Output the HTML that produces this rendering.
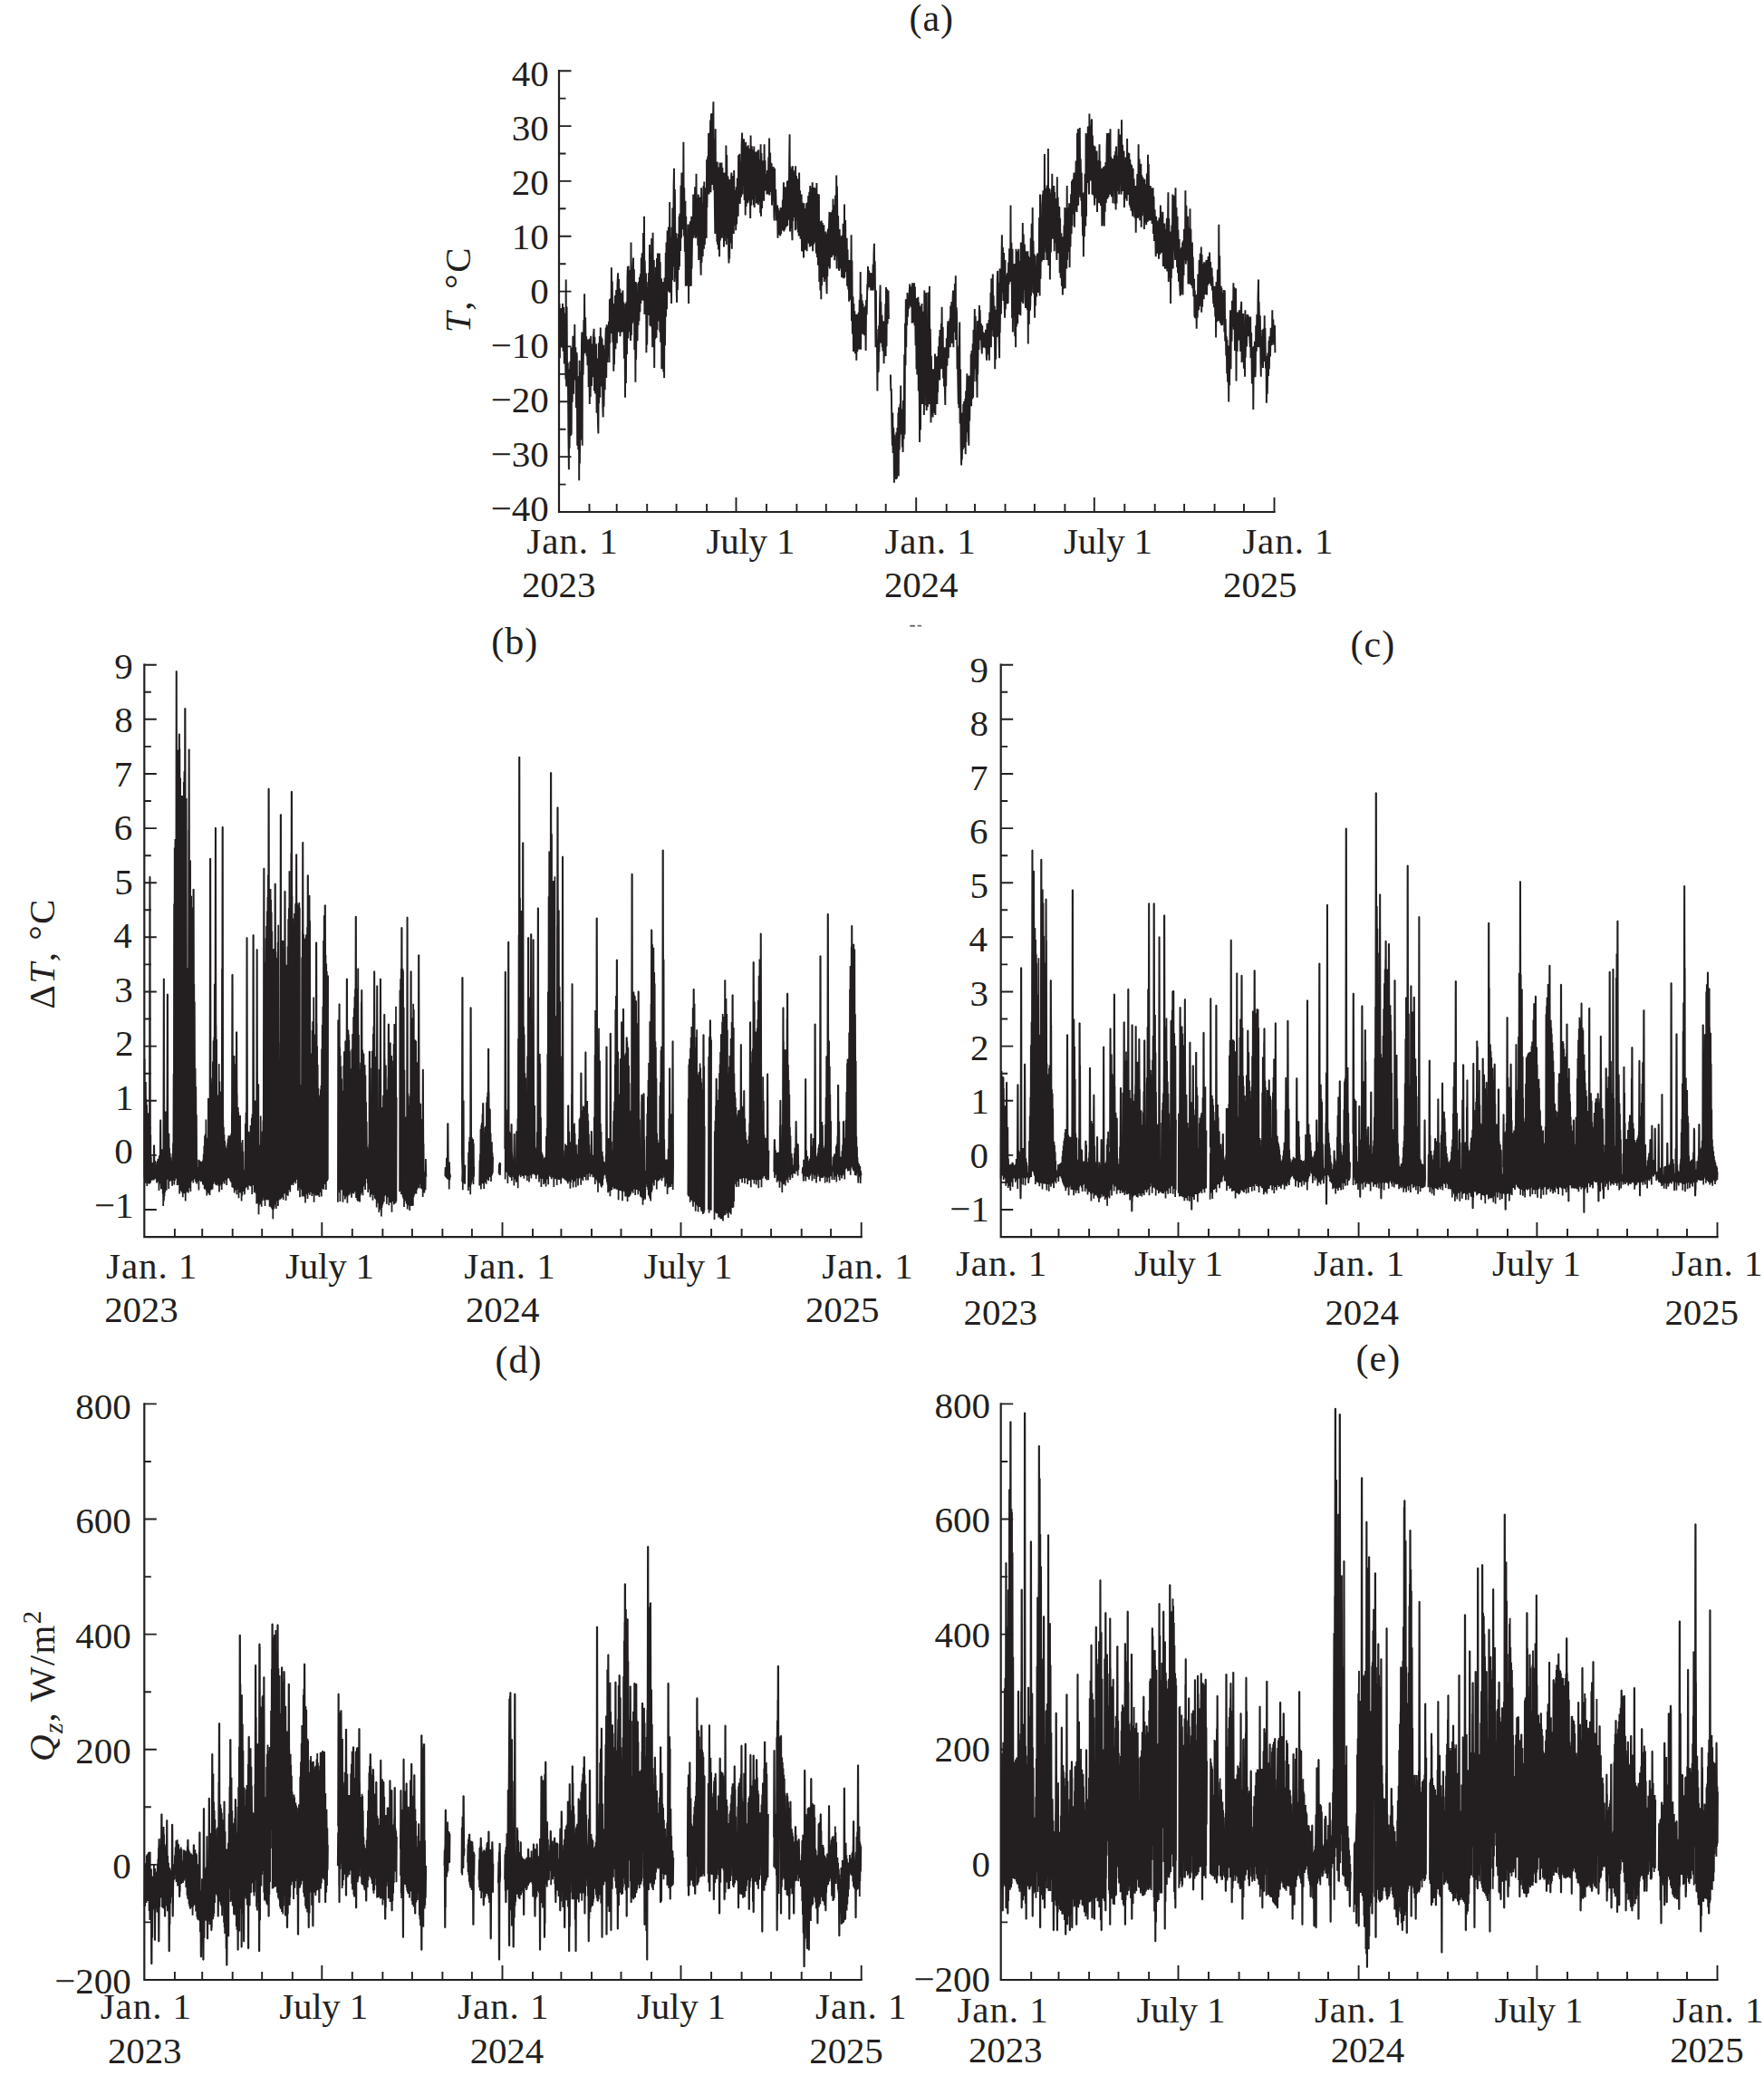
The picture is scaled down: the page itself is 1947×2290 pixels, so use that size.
<!DOCTYPE html>
<html><head><meta charset="utf-8"><title>figure</title>
<style>
html,body{margin:0;padding:0;background:#fff;}
body{width:1947px;height:2290px;overflow:hidden;}
svg{display:block;font-family:"Liberation Serif",serif;fill:#231f20;}
</style></head><body>

<svg width="1947" height="2290" viewBox="0 0 1947 2290">
<rect width="1947" height="2290" fill="#fff"/>
<path d="M617.5 335.1L617.9 395.3L618.3 341L619.1 383.3L619.6 340.1L620.1 379.8L620.6 383.3L621 335.1L621.6 387.8L622.1 339L622.8 401.5L623.6 345.6L624.4 418.6L624.7 308.6L625.1 426.6L625.6 338.6L626.1 426.2L626.8 400.3L627.4 477.4L627.9 518.2L628.3 407.3L628.6 494.7L629.3 398.8L629.9 481.1L630.3 383.3L630.7 479.6L631.1 386L631.7 443.7L632.4 370.7L633 434.7L633.4 376L633.9 419.4L634.3 358L634.6 414.6L635.3 383.2L635.9 450L636.5 388.9L636.8 392.9L637.2 491.7L637.5 416.9L638.3 496.2L638.9 415L639.2 530.2L639.6 397.7L639.9 511.4L640.7 409.9L641.2 485.4L642 379.4L642.3 366.4L642.7 491.7L643 377.8L643.6 413.8L644.4 353.1L644.7 390.5L645.1 324.2L645.6 383.7L646.1 350.3L646.7 389.6L647.1 371.2L647.5 392.9L647.9 375.9L648.5 403.2L649.3 374.4L649.7 426.9L650.3 382.8L650.8 445.9L651.2 373.6L651.7 438L652.2 370.7L653 425.9L653.8 379.4L654.4 416.3L655 371L655.6 362.8L656 431.4L656.4 371.7L657.1 434.6L658 379.6L658.6 455.8L659.1 395.4L660 467.9L660.4 478.4L660.8 378.4L661.1 445.3L661.9 371L662.3 438.8L662.8 361.6L663.2 426.6L663.7 371.6L664.1 421.7L664.6 373.7L665.3 448.5L665.7 460.4L666.1 380.8L666.5 448.8L667.2 385.9L667.7 430.3L668.3 377.8L668.8 361.6L669.2 417L669.7 358.2L670.3 400.1L670.9 359.4L671.3 393.3L672 354.7L672.5 400.1L672.9 330.2L673.2 379.1L673.9 329.2L674.4 367.9L674.9 295.3L675.3 359.2L675.8 310.4L676.3 377.8L676.8 346.9L677.3 409.8L677.7 335.1L678 402.2L678.9 326L679.4 385.3L680.2 319.9L680.9 378.8L681.5 313.2L682.1 301.3L682.5 366.4L683 308L683.6 365L684.2 318.5L684.5 371.2L684.9 323L685.2 366.9L686 323.4L686.4 366.2L687.1 325.7L687.4 320.6L687.8 366.4L688.3 333.5L688.9 395.8L689.5 338.8L690 438.7L690.4 335.1L690.9 423.1L691.5 332.9L692 391L692.5 305.3L692.9 294.1L693.3 373.6L693.7 293.5L694.3 366.2L695 298.1L695.7 363.2L696.1 376L696.5 267.6L696.9 370L697.4 304.7L698 356.8L698.5 298.9L699 284.5L699.4 354.3L699.9 297.3L700.3 386L700.9 312L701.4 421.8L701.8 311L702.1 396.7L702.8 312.6L703.5 376.3L704 322.5L704.5 359L705 311L705.4 354.3L705.9 305.8L706.4 344.2L706.9 302.3L707.4 335.1L707.8 284.5L708.2 325.7L708.7 279.2L709.4 331.5L710 257.1L710.7 332L711 238.7L711.4 347.1L711.7 287.6L712.5 340.4L713.1 301.5L713.4 389.3L713.8 311L714.2 380.6L714.7 317.3L715.4 348.1L716.1 301L716.5 338.5L717 270L717.4 359.2L717.9 280.3L718.5 360.6L719.2 263L719.8 352.6L720.2 383.3L720.6 256.7L720.9 362.9L721.4 292.3L721.8 286.9L722.2 406.1L722.7 311.2L723.2 374.3L723.9 294.8L724.5 372.8L725 285L725.5 364L725.9 279.6L726.4 341.7L727 284.9L727.4 354.4L727.9 279.6L728.3 366.4L728.7 289.2L729.2 377.7L730 307.3L730.3 407.3L730.7 311L731.2 397L731.7 332.7L732.3 410.5L732.7 311L733.1 417L733.5 306.4L734 381.2L734.8 278.9L735.1 349.5L735.5 267.6L736 341.2L736.6 254.4L737.4 321.3L737.9 250.6L738.7 322.5L739.2 223L739.6 323L740 261.5L740.8 305.7L741.1 335.1L741.5 250.7L742 309.2L742.4 229.4L743 294.6L743.6 205.9L744 185.7L744.4 311L744.9 209.1L745.6 307.6L746.2 256.9L746.7 320.1L747.1 333.9L747.5 262.8L747.9 319.9L748.6 257.9L749.2 297.9L749.6 238.7L750 294.1L750.3 235.8L751.1 277.1L751.5 204.7L752 262.8L752.4 190.5L752.9 253.2L753.4 192.6L754 249.6L754.4 156.7L754.8 260.4L755.2 207.2L755.9 277.7L756.4 221.8L756.8 315.8L757.2 238.7L757.6 310L758.2 265.3L758.7 315.4L759.4 247.8L759.7 248.3L760.1 335.1L760.4 257.1L761 315.9L761.8 244.3L762.4 305.9L762.8 315.8L763.2 238.7L763.5 296.4L764.3 242.1L764.9 258.6L765.2 214.6L765.6 262.8L765.9 220.9L766.6 252.9L767.1 206.3L767.6 258.8L768.1 262.8L768.5 191.7L768.9 260.5L769.6 218.7L770.3 271L770.8 214.6L771.2 286.9L771.5 224.2L772.1 274.5L772.6 217.6L773.3 290.2L773.7 303.7L774.1 207.3L774.5 289.8L775.1 223.9L775.7 283L776.3 218.6L776.5 204.9L776.9 274.8L777.3 200.4L777.9 270L778.7 207.2L779.2 260.1L779.7 262.8L780.1 176L780.4 229.1L781.2 172.5L781.8 208.6L782.1 147.1L782.5 214.6L782.9 146.8L783.4 196.7L784.1 132.4L784.5 212.2L784.9 125.4L785.4 189.1L785.9 125L786.4 204.1L786.9 141.4L787.4 112.2L787.8 209.8L788.1 153.4L788.9 229.3L789.3 258L789.7 142.3L790.1 234.7L790.6 182.7L791.4 266.8L791.7 178.4L792.1 270L792.6 203.8L793 275.6L793.7 184.6L794.1 283.3L794.5 179.6L794.9 265.5L795.5 192.6L796.2 239.3L796.5 179.6L796.9 262.8L797.4 185.1L797.9 256.7L798.6 199.8L799 272.4L799.4 190.5L799.7 251.3L800.4 206.2L801.1 266.1L801.4 160.4L801.8 270L802.2 171L802.9 263.1L803.5 194.5L804.2 282.3L804.5 290.5L804.9 197.7L805.2 285.6L805.9 199.2L806.5 268.3L807.1 194.2L807.4 190.5L807.8 274.8L808.2 194L808.9 255.1L809.5 209.2L809.8 258L810.2 188.1L810.6 248.9L811.2 211.1L811.8 209.8L812.2 254.3L812.7 206.3L813.1 247.4L813.8 196.4L814.4 235.5L814.7 238.7L815.1 171.2L815.6 225L816.3 169.7L816.8 224.8L817.5 178.4L818.1 217.5L818.6 160.2L819.1 146.6L819.5 214.6L819.8 163.6L820.5 203.2L821 153.2L821.7 220.9L822.4 163L822.7 237.5L823.1 156.7L823.6 227.9L824.2 178.9L824.7 223.9L825.1 161.6L825.5 224.2L825.8 160.2L826.5 221.5L827.1 164L827.8 213.2L828.2 241.1L828.6 149.5L829.2 226.7L829.8 161.3L830.4 220.4L831.2 165.3L831.8 226.5L832.3 161.6L832.7 229L833.1 183.6L833.7 208.3L834.3 167.4L834.9 224.5L835.6 182.9L835.9 224.2L836.3 166.4L836.9 225.9L837.2 165.3L837.9 222.8L838.7 176L839.2 235.3L839.6 159.2L840 238.7L840.4 169L841.1 230.1L841.6 177.2L842.2 218.4L842.7 178.2L843.2 221.8L843.6 159.2L844 206.9L844.5 177L845.1 210.4L845.7 192L846.1 195.3L846.5 214.6L847 187.9L847.7 214.2L848.3 173.5L848.7 214.6L849.1 152.4L849.4 215.6L850.1 168.6L850.6 211.9L851.3 180.1L851.6 180.8L852 226.6L852.5 185.9L853.1 222.2L853.6 184L854.4 238.7L854.7 243.5L855.1 185.7L855.5 232.1L856.2 209L857 243.4L857.6 229.7L858.1 226.6L858.5 262.8L858.8 229.7L859.6 258.9L860.2 232.2L860.7 255.5L861.2 260.4L861.6 229L862.1 258.3L862.5 229.6L863.3 254.3L863.9 220.4L864.4 246.5L864.9 201.3L865.3 255.5L865.7 209.5L866.3 253.4L866.8 206.2L867.5 250.7L868.1 208.2L868.5 249.5L868.9 200.1L869.2 249.1L869.8 199.1L870.6 242.8L871.2 175.9L871.6 148.3L872 255.5L872.5 183.4L872.9 251.9L873.4 185.7L874.2 257.3L874.5 265.2L874.9 183.3L875.2 243.9L875.9 188L876.5 239.9L877.2 190.7L877.8 254.2L878.1 183.3L878.5 253.1L879 194L879.6 243.1L880.1 197.2L880.8 256.4L881.3 200.4L881.7 260.4L882.1 190.5L882.5 252.8L883.1 210.3L883.6 263.8L884.3 216.7L884.6 214.6L885 277.2L885.5 223.3L885.9 277.6L886.7 233.2L887 284.5L887.4 224.2L887.7 276.3L888.5 230L889.2 275.7L889.8 239.6L890.2 224.2L890.6 277.2L891 223.6L891.5 259.9L892.2 215.9L892.7 268.8L893.3 211.8L893.8 272.4L894.2 204.9L894.6 259.6L895.1 207.2L895.7 271.5L896.3 214.5L896.7 201.3L897.1 277.2L897.6 207.1L898.1 269.6L898.8 206.7L899.4 267.5L900 207.7L900.7 276L901 279.6L901.4 202L901.9 284L902.5 214.1L902.9 292.7L903.6 225.2L903.9 214.6L904.3 311L904.7 244.3L905.4 320.4L905.9 256.8L906.3 330.2L906.7 243.5L907.1 314.9L907.7 245.9L908.3 305.9L908.9 252.8L909.4 248.3L909.8 311L910.3 264.5L910.8 307.9L911.5 255.4L912 304.7L912.6 324.2L913 258L913.3 304.9L913.9 252.4L914.5 294.3L915 250.5L915.5 233.9L915.9 296.5L916.2 234.8L916.8 284.3L917.5 234.3L918 283.8L918.8 231.9L919.1 279.6L919.5 219.4L920 281.8L920.6 226.3L921.2 287.2L922.1 215.6L922.7 282.7L923.2 193.4L923.6 296.5L923.9 205.5L924.7 281.3L925.1 237.9L925.8 295.9L926.3 298.9L926.7 253.1L927.2 296.6L927.6 267.5L928.3 295.4L928.7 260.4L929.1 306.1L929.6 259.5L930.1 306.5L930.6 246.8L931.1 303.3L931.6 307.3L932 225.4L932.3 306.1L933.1 243.1L933.6 300.1L934.4 270.8L934.7 262.8L935.1 315.8L935.5 275.3L936.3 319.5L936.8 289.4L937.1 332.7L937.5 286.9L938 329.8L938.7 291.8L939.2 331.2L939.6 259.2L940 354.3L940.4 287.6L940.9 368.5L941.5 327.3L942 388.1L942.4 335.1L942.6 380.6L943.3 343.2L943.9 390.2L944.4 352.3L944.9 347.1L945.3 397.7L945.7 346.8L946.3 388.1L946.7 352L947.3 385.7L947.7 344.7L948.1 375.1L948.7 330.7L949.2 385.5L949.7 300.1L950.1 385.7L950.6 324.4L951.1 366.3L951.7 331.4L952.1 368.8L952.5 335.1L952.9 366.2L953.5 339L954.1 370.3L954.9 344.9L955.2 337.5L955.6 386.9L956.1 331.1L956.7 347.3L957.3 313.5L957.6 320.6L958 294.1L958.4 314L959.1 298.5L959.6 317.3L960.4 301.8L960.8 301.3L961.2 320.6L961.5 303.4L962.1 314.6L962.7 301.4L963.2 320.6L963.6 291.7L964 315.5L964.5 280L964.9 268.8L965.3 320.6L965.7 288.2L966.2 352.4L966.5 383.3L966.9 320.6L967.2 380.2L967.7 362.9L968 378.4L968.4 431.4L968.9 374.4L969.4 410.9L969.7 407.3L970.1 359.2L970.4 388.6L971.1 334.1L971.6 314.6L972 378.4L972.3 333.1L972.9 378.7L973.5 347.8L973.8 383.3L974.2 354.3L974.4 387.6L975 361.6L975.2 359.2L975.6 401.3L976 354.6L976.5 393.3L977.4 335.3L977.6 392.9L978 317L978.5 382.3L978.9 319.1L979.6 357.6L980 327.9L980.5 320.6L980.9 351.9" fill="none" stroke="#231f20" stroke-width="1.95" stroke-linejoin="bevel"/>
<path d="M982.9 413.4L983.3 431.4L983.8 429.1L984.4 471.2L984.9 491.7L985.3 455.5L985.6 499.9L986.1 471.9L986.5 479.6L986.9 532.7L987.3 480.1L988 525.5L988.6 487.9L989 529L989.4 477.2L989.9 528L990.4 472L990.9 523.8L991.4 455.5L991.8 525.4L992.1 449.5L992.7 496.4L993.5 445.9L993.8 479.6L994.2 425.4L994.6 470.3L995.1 451.5L995.9 493.5L996.2 455.5L996.6 498.9L997 442.1L997.6 484.4L998.2 391.2L998.6 479.6L999 356.7L999.5 403.3L999.8 330.2L1000.2 383.3L1000.6 332.3L1001.1 359.2L1001.5 323L1001.9 349.7L1002.6 326.3L1003.2 340.6L1003.8 319.8L1004.3 313.4L1004.7 337.5L1005.1 321.9L1005.7 338.9L1006.4 316.1L1006.7 356.7L1007.1 312.2L1007.5 350.8L1008.1 315.4L1008.7 356L1009.1 312.2L1009.5 359.2L1009.9 316.4L1010.6 381.3L1011.1 334.5L1011.5 407.3L1011.9 329L1012.3 413.6L1013 338.9L1013.4 327.8L1013.8 431.4L1014.2 333.5L1014.7 430.2L1015.1 488.1L1015.5 337.5L1016 474.5L1016.6 348.4L1017.2 434.9L1017.5 335.1L1017.9 445.9L1018.3 364.2L1018.8 435.3L1019.5 343.7L1019.9 458L1020.3 320.6L1020.6 447.4L1021.3 348.8L1021.9 434.6L1022.3 323L1022.7 453.1L1023.1 358L1023.9 449.3L1024.5 322.4L1025 441.8L1025.5 445.9L1025.9 315.8L1026.2 446.3L1026.8 362.8L1027.1 383.3L1027.5 466.4L1027.9 392.7L1028.5 456L1029.3 422.3L1029.6 460.4L1030 407.3L1030.3 449.5L1030.9 416L1031.7 456L1032 390.5L1032.4 458L1032.7 401.4L1033.4 434.2L1033.9 393.5L1034.4 445.9L1034.8 392.9L1035.1 433.1L1035.9 382.3L1036.4 415.4L1036.8 371.2L1037.2 419.4L1037.5 364L1038.3 400.6L1038.9 357.1L1039.2 407.3L1039.6 338.7L1040 397.9L1040.7 361L1041.1 417.6L1041.6 383.3L1042 426.6L1042.3 384.5L1042.8 425.5L1043.3 447.1L1043.7 383.3L1044.2 426.3L1044.8 373.2L1045.4 403.8L1046 360.7L1046.4 354.3L1046.8 395.3L1047.2 361.7L1047.8 381.6L1048.5 351.4L1048.8 383.3L1049.2 337.5L1049.6 373.3L1050.3 333.1L1050.9 379L1051.6 329.6L1052 320.6L1052.4 383.3L1052.7 327.4L1053.5 366.8L1053.9 313L1054.4 359.2L1054.8 304.2L1055 375L1055.7 339.3L1056.1 347.1L1056.5 407.3L1056.8 381.7L1057.4 424L1057.8 445.9L1058.2 402.5L1058.4 450.3L1058.8 387.7L1059.2 355.5L1059.6 467.6L1060.1 407.6L1060.6 490.1L1061.1 513.4L1061.5 455.5L1061.8 507.3L1062.5 466.9L1062.9 496.1L1063.3 445.9L1063.7 494.1L1064.1 443.1L1064.7 484.4L1065.3 440.3L1065.7 501.3L1066.1 431.4L1066.4 488L1067.1 426.2L1067.4 412.2L1067.8 477.2L1068.2 415.3L1068.9 478.6L1069.3 491.7L1069.7 414.6L1070.2 464.4L1070.8 418.1L1071.4 446.4L1071.7 390.5L1072.1 448.3L1072.5 387L1073.2 440.5L1073.7 379.2L1074.1 438.7L1074.5 364L1074.8 421.2L1075.5 369.6L1075.8 341.1L1076.2 407.3L1076.7 348.9L1077.4 420.9L1077.9 369.9L1078.5 438.7L1078.9 354.3L1079.2 413.2L1079.9 353.7L1080.4 386L1080.9 337L1081.3 371.2L1081.6 342.1L1082.3 375.4L1082.9 356.9L1083.3 381L1083.8 390.5L1084.2 359.2L1084.5 383.9L1085.2 366.5L1085.7 383.3L1086.2 368.8L1086.6 383.3L1086.9 367.2L1087.5 384.1L1088 363.7L1088.8 393.1L1089.1 397.7L1089.5 356.7L1089.8 391.6L1090.4 363.9L1091.2 384.7L1091.5 353.1L1091.9 397.7L1092.3 344.5L1093 376L1093.5 322.7L1093.9 383.3L1094.3 307.3L1094.6 364.5L1095.5 321.3L1095.8 302.5L1096.2 371.2L1096.6 326.2L1097.2 371.9L1097.7 337.8L1098.2 407.3L1098.6 349.5L1099.1 396.5L1099.5 341.8L1100.2 372.3L1100.7 310L1101.1 298.9L1101.5 371.2L1101.9 311.7L1102.7 379.2L1103.1 395.3L1103.5 296.5L1103.7 367.3L1104.4 305.8L1104.9 346.6L1105.7 273.3L1105.9 259.2L1106.3 323L1106.9 273L1107.4 331.9L1108 278.9L1108.6 334.7L1109.1 350.7L1109.5 286.9L1109.8 341.5L1110.4 303.8L1111.1 335.5L1111.7 303.8L1112.2 301.3L1112.6 335.1L1113.1 289.6L1113.7 313.8L1114.1 274.3L1114.8 303.9L1115.1 311L1115.5 226.6L1115.8 297.4L1116.4 267.7L1117.1 351.1L1117.5 274.8L1117.9 366.4L1118.4 292.8L1118.9 349L1119.6 290.9L1120.2 371.3L1120.8 308.2L1121.1 383.3L1121.5 274.8L1121.9 360.6L1122.5 277.2L1123.2 357.2L1123.8 297.8L1124.3 274.8L1124.7 347.1L1125 288L1125.4 329.5L1126.1 293.4L1126.4 348.3L1126.8 267.6L1127.2 333.3L1127.8 277.5L1128.5 321.5L1128.8 245.9L1129.2 335.1L1129.7 258.5L1130.2 320.1L1130.9 269.4L1131.5 328.6L1132 339.9L1132.4 277.2L1132.9 334.8L1133.3 290.9L1133.9 342.1L1134.4 277.2L1134.8 379.6L1135 282.5L1135.8 358L1136.4 283.8L1136.9 342.6L1137.3 335.1L1137.7 262.8L1138 326.6L1138.7 246.7L1139.4 308L1139.7 229L1140.1 323L1140.5 265.7L1141.1 324.6L1141.6 280.3L1142.1 350.7L1142.5 282L1142.9 337.6L1143.5 294.8L1144.1 327.4L1144.7 283.8L1145.2 279.6L1145.6 323L1146 279.5L1146.6 313.8L1147.1 240L1147.6 326.6L1148 214.6L1148.5 307.8L1149.1 244.7L1149.7 288.7L1150.2 226.3L1150.8 214.6L1151.2 286.9L1151.4 210.2L1152.1 273.8L1152.5 286.9L1152.9 170L1153.2 266.1L1153.7 207.8L1154.6 278.4L1154.9 214.6L1155.3 286.9L1155.6 204.4L1156.1 273.3L1156.5 286.9L1156.9 164L1157.4 293L1158 207.9L1158.5 214.6L1158.9 308.6L1159.4 213.3L1159.9 278.5L1160.5 208.4L1160.9 262.8L1161.3 191.7L1161.6 263.7L1162.4 209.3L1163 252L1163.3 204.9L1163.7 277.2L1164 211.9L1164.7 268.3L1165.5 219.1L1165.9 266.9L1166.4 286.9L1166.8 195.3L1167.2 271.9L1167.7 217.8L1168.3 279.4L1168.9 228.4L1169.3 229L1169.7 301.3L1170.1 240.7L1170.7 306.8L1171.4 257.3L1171.9 315.8L1172.5 261.2L1172.9 325.4L1173.3 262.8L1173.8 318.7L1174.5 248.8L1174.9 312.8L1175.3 229L1175.7 318.2L1176.2 230.2L1176.8 286.9L1177.3 296.5L1177.7 204.9L1178.1 286.7L1178.6 229.2L1179.2 277.9L1179.8 239.1L1180.2 224.2L1180.6 295.3L1180.9 237.2L1181.5 272.4L1182.1 214.3L1182.6 258L1183 200.1L1183.4 249.2L1183.8 198L1184.6 236.4L1185 199.4L1185.5 190.5L1185.9 250.7L1186.4 191.7L1187 230L1187.6 177.5L1188.1 232.9L1188.6 233.9L1189 147.1L1189.5 227L1189.8 142.3L1190.2 226.6L1190.5 153.3L1191.1 211.9L1191.4 214.6L1191.8 141.1L1192.3 217.7L1192.7 175.2L1193.4 221.5L1193.8 190.5L1194.2 238.7L1194.4 213.3L1195.1 260.2L1195.7 222.8L1195.9 283.3L1196.3 212.2L1196.9 261.3L1197.5 191.8L1198.2 249.6L1198.6 147.1L1199 238.7L1199.4 148.6L1200 202.1L1200.8 139.5L1201.6 196.8L1202 214.6L1202.4 125.4L1202.8 187.3L1203.4 138.6L1204 199.4L1204.7 133.2L1205.1 131.4L1205.5 214.6L1205.9 149.4L1206.6 215.5L1207.3 160.5L1207.9 216.9L1208.2 226.6L1208.6 161.6L1209.1 212.7L1209.6 181.1L1210.3 218.9L1210.6 166.4L1211 233.9L1211.4 181.4L1212 208L1212.7 176.8L1213.1 224.2L1213.5 159.2L1213.9 217L1214.3 177.8L1215 226.9L1215.5 198.5L1215.9 185.7L1216.3 249.5L1216.8 196.6L1217.2 235L1217.9 184.3L1218.4 247.6L1218.8 249.5L1219.2 183.3L1219.7 233.8L1220.4 179L1220.8 224.1L1221.6 160.5L1222 147.1L1222.4 219.4L1222.7 147.1L1223.5 217.4L1224 146.8L1224.7 199.2L1225.1 214.6L1225.5 142.3L1225.8 201L1226.4 173.1L1227 217.2L1227.6 175.4L1228 176L1228.4 224.2L1228.7 184.6L1229.5 208.5L1230 171.2L1230.7 225.3L1231.2 166.8L1231.6 231.4L1232 161.6L1232.5 224.5L1233.2 172.4L1233.8 210.8L1234.4 160.3L1234.7 142.3L1235.1 214.6L1235.6 163.5L1236.1 198.8L1236.6 148.6L1237.3 211.3L1237.6 214.6L1238 132.2L1238.4 211L1239 159.8L1239.7 211.1L1240 170.8L1240.5 166.4L1240.9 229L1241.4 177.3L1242 219.2L1242.6 173.4L1243.1 207L1243.7 221.8L1244.1 153.1L1244.4 213.8L1244.9 168.3L1245.6 214.9L1246.3 169L1246.8 226.4L1247.3 176L1247.7 229L1248 180.8L1248.5 232.8L1249.2 182.2L1249.7 229L1250.2 238.7L1250.6 185.7L1251 230.4L1251.6 197.2L1252.4 240.5L1252.8 209.5L1253.3 204.9L1253.7 256.7L1254.2 209.5L1254.7 239.8L1255.3 192L1255.8 240.5L1256.2 238.7L1256.6 159.2L1257.1 234.5L1257.6 175.5L1258.2 243.3L1258.9 186L1259.3 180.8L1259.7 250.7L1260.2 193.2L1260.7 238.2L1261.4 195.5L1261.9 233.9L1262.6 202.7L1262.9 253.1L1263.3 197.7L1263.8 246.1L1264.6 203.2L1265.2 248.2L1265.9 191.5L1266.6 244.9L1267 170.7L1267.4 243.5L1267.8 181.1L1268.3 243.4L1269 206L1269.4 243.5L1269.8 204.9L1270.4 243.1L1271 207.5L1271.6 246.9L1272.3 220.5L1272.6 207.3L1273 258L1273.5 216.8L1274 266L1274.6 231.3L1275.4 268.2L1275.7 283.3L1276.1 238.7L1276.4 280.2L1277 245.1L1277.7 279.5L1278.2 244.4L1278.6 243.5L1279 285.7L1279.5 240.2L1280.1 280.6L1280.5 279.6L1280.9 226.6L1281.4 269.6L1281.8 244.2L1282.3 278.9L1283.1 234.5L1283.4 233.9L1283.8 294.1L1284.1 250.5L1284.7 293.3L1285.4 246.5L1285.8 295.9L1286.3 296.5L1286.7 253.1L1287.1 294.8L1287.9 240.7L1288.3 299.4L1289 248.6L1289.4 212.2L1289.8 311L1290.3 240.9L1291 307L1291.7 255.5L1292.1 335.1L1292.5 262.8L1292.8 306.9L1293.4 248.6L1293.8 286L1294.3 214.6L1294.7 296.5L1295.1 220.4L1295.6 275L1296.3 215.8L1296.8 276L1297.1 286.9L1297.5 207.3L1297.9 279.5L1298.5 229L1299.1 295.1L1299.6 238.7L1300 301.3L1300.4 253.8L1301 310.7L1301.6 264.1L1302.2 316.3L1302.7 326.6L1303.1 274.8L1303.4 324.9L1304 272.9L1304.7 318.3L1305.1 267.6L1305.5 325.4L1306 265.5L1306.5 304L1307 252.7L1307.6 281L1308 286.9L1308.4 210.2L1308.8 291.4L1309.4 226.8L1310.1 287.7L1310.7 251.5L1311.1 238.7L1311.5 313.4L1312.1 251.1L1312.6 300L1313.1 313.4L1313.5 230.2L1313.9 311.9L1314.4 252.7L1314.9 314.9L1315.5 269.2L1315.9 267.6L1316.3 318.2L1316.7 283.6L1317.4 327.3L1318.1 307.7L1318.4 349.5L1318.8 320.6L1319.1 351.3L1319.8 329.3L1320.3 325.4L1320.7 362.8L1321.1 324.9L1321.7 350.5L1322.3 302.5L1322.9 338.6L1323.2 342.3L1323.6 286.9L1324.1 338.1L1324.7 279.7L1325.3 335.3L1325.8 272.4L1326.2 344.7L1326.6 280.9L1327.1 338.8L1327.7 290.9L1328.2 326.1L1328.7 330.2L1329.1 289.3L1329.6 318.3L1330 291.5L1330.7 325.1L1331.2 289L1331.6 286.9L1332 325.4L1332.5 287L1333 315L1333.6 282.9L1334.4 313.1L1334.7 311L1335.1 278.4L1335.4 307.9L1336.1 288.9L1336.6 315.5L1337.2 295.9L1337.6 296.5L1338 320.6L1338.3 305.2L1338.9 324.6L1339.3 335.1L1339.7 315.8L1340.1 339.2L1340.8 323.3L1341.3 349.4L1341.7 315.8L1342.1 372.4L1342.5 311L1343.2 355.2L1343.9 297.5L1344.5 335.2L1344.9 354.3L1345.3 247.8L1345.8 344.8L1346.2 282.3L1346.9 356.7L1347.4 320.5L1347.8 315.8L1348.2 359.2L1348.5 318.3L1349.2 358.7L1349.7 323.1L1350.2 352.4L1350.9 320.1L1351.4 366.4L1351.8 320.6L1352.2 376.4L1352.7 352.1L1353.3 392.6L1353.8 371.2L1354.2 412.2L1354.5 375L1355.1 421.7L1355.8 381.6L1356.2 443.5L1356.6 383.3L1357.1 425.2L1357.7 357.3L1358.1 342.3L1358.5 407.3L1358.9 347.3L1359.5 376.8L1360 331.8L1360.6 360.7L1361 359.2L1361.4 312.2L1361.8 363.7L1362.3 317.1L1363 387.1L1363.7 330.5L1364.1 318.2L1364.5 420.6L1364.9 346L1365.6 388.1L1366.2 344.6L1366.9 375.7L1367.3 371.2L1367.7 342.3L1367.9 371.6L1368.7 353.2L1369.2 388.1L1369.7 340.1L1370.2 332.7L1370.6 400.1L1371 346.6L1371.7 398.7L1372.2 345.9L1372.9 406.7L1373.5 360L1374 415.8L1374.4 342.3L1374.7 394.8L1375.4 351.8L1376 382.6L1376.5 348.6L1376.9 347.1L1377.3 371.2L1377.6 347.7L1378.3 371.3L1378.8 349.7L1379.5 378.2L1379.8 383.3L1380.2 349.5L1380.5 394.9L1381.1 367.1L1381.9 423.6L1382.5 395.9L1382.9 383.3L1383.3 451.9L1383.8 382L1384.3 413.9L1384.9 376.8L1385.5 416.1L1385.8 407.3L1386.2 359.2L1386.8 387.8L1387.3 346.9L1388 383L1388.5 328.2L1389 308.6L1389.4 383.3L1389.6 333L1390.4 378.8L1390.8 348.2L1391.5 403.9L1391.8 415.8L1392.2 371.2L1392.6 401.3L1393.3 364L1394 406L1394.5 362.8L1395.3 399L1395.7 348.3L1396.1 397.7L1396.4 362L1397 406.5L1397.5 392.7L1397.9 444.7L1398.3 397.7L1398.8 434.7L1399.4 389.6L1400 415L1400.5 376L1400.9 407.3L1401.3 371.2L1402 393.5L1402.7 361.7L1403.3 380.1L1403.9 380.8L1404.3 342.3L1404.7 378.3L1405.3 352.5L1406.1 380.5L1406.6 359.7L1407 359.2L1407.4 389.3" fill="none" stroke="#231f20" stroke-width="1.95" stroke-linejoin="bevel"/>
<path d="M617 77.1V565H1407.6" fill="none" stroke="#231f20" stroke-width="2.2" stroke-linejoin="miter"/>
<path d="M617 534.6h7.5M617 504.1h13.5M617 473.7h7.5M617 443.3h13.5M617 412.9h7.5M617 382.4h13.5M617 352h7.5M617 321.6h13.5M617 291.2h7.5M617 260.8h13.5M617 230.3h7.5M617 199.9h13.5M617 169.5h7.5M617 139.1h13.5M617 108.6h7.5M617 78.2h13.5M650.5 565v-9M680.7 565v-9M714.2 565v-9M746.6 565v-9M780.1 565v-9M812.5 565v-16M846 565v-9M879.4 565v-9M911.8 565v-9M945.3 565v-9M977.7 565v-9M1011.2 565v-16M1044.7 565v-9M1076 565v-9M1109.5 565v-9M1141.9 565v-9M1175.4 565v-9M1207.8 565v-16M1241.3 565v-9M1274.7 565v-9M1307.1 565v-9M1340.6 565v-9M1373 565v-9M1406.5 565v-16" fill="none" stroke="#231f20" stroke-width="1.9"/>
<path d="M159.3 1299.2L159.6 1168.7L159.9 1304.5L160.2 1206.1L160.6 1301.2L160.9 1193.9L161.2 1303.5L161.5 1212.7L161.7 1303.7L162.1 1219.3L162.3 1309L162.6 1239.1L162.9 1303.7L163.2 1228.2L163.5 1304.8L163.9 1237.5L164.1 1304.1L164.4 1248.9L164.6 1306.7L164.9 1258.5L165.3 1305L165.6 1262.9L164.9 1287.9L165.3 967.7L165.6 967.7L166 1287.9L166 1304.6L166.3 1252.6L166.5 1302.7L166.8 1276.8L167 1302.4L167.3 1285.6L167.8 1302.8L168.1 1282.9L168.4 1301.7L168.7 1283.3L169.1 1298.6L169.4 1284.4L169.8 1302.6L170.1 1286.3L169.5 1296.8L169.9 1264L170.2 1264L170.6 1296.8L170.4 1301.3L170.7 1288.3L171 1301.3L171.3 1281.1L171.6 1300.3L171.9 1285.9L172.3 1297.8L172.6 1285.4L173 1305.5L173.3 1282.6L173.6 1296.5L173.9 1281L174.1 1298L174.4 1278.7L174.8 1304.2L175.1 1284L175.5 1314.1L175.8 1275.3L176 1303.6L176.3 1277.1L176.7 1305.1L177 1293.5L176.6 1294.8L177 1236.2L177.3 1236.2L177.7 1294.8L177.3 1306.1L177.6 1305L177.9 1312.3L178.2 1286.3L178.4 1310.2L178.7 1279.9L178.9 1312.1L179.2 1268.2L179.7 1317.5L180 1281.4L180.2 1331L180.5 1274.9L180.3 1291.2L180.7 1080.3L181 1080.3L181.4 1291.2L180.9 1325.3L181.2 1253.5L181.5 1320.3L181.8 1245L182.1 1316.1L182.4 1243.6L182.6 1312.8L182.9 1226.6L183.1 1309.9L183.4 1228.5L183.7 1313.8L184 1234.6L184.3 1301.6L184.6 1245.4L184.8 1301.8L185.1 1249.6L184.3 1279.9L184.7 1097.3L185.1 1097.3L185.4 1279.9L185.5 1301.2L185.8 1259L186.2 1312.1L186.5 1250.8L186.7 1303.9L187 1266.8L187.4 1303.7L187.7 1272.5L188.1 1303.1L188.4 1277.2L188.8 1303.3L189.1 1281.3L189.4 1303.3L189.7 1285.1L190.1 1308.8L190.4 1273.3L190.7 1302.7L191 1261.6L191.3 1301.2L191.6 1185L191.8 1301L192.1 997.4L192.3 1307.5L192.7 935.5L193 1303.1L193.4 925.9L193.8 1300.1L194.1 1053.4L194.3 1299.6L194.6 1153.1L194.2 1087.8L194.6 740.8L194.9 740.8L195.3 1087.8L195 1301.1L195.3 1022L195.6 1307.9L195.9 846L196.2 1301.2L196.5 827.4L196.7 1305L197 832.1L197.4 1307.7L197.7 857.5L197.3 1085.7L197.7 810.2L198 810.2L198.4 1085.7L198.1 1317.4L198.4 826.2L198.8 1309.1L199.1 858.6L199.5 1312.7L199.8 878.2L200 1314.5L200.3 884.3L200.7 1315.3L201 878.1L201.2 1316.4L201.5 888.2L201.8 1321.3L202.1 878.6L202.5 1317L202.8 863.1L203 1316.7L203.4 851.3L203.6 1317.3L203.9 864.6L204.2 1316.2L204.5 857.6L203.8 1091.5L204.1 781.9L204.5 781.9L204.9 1091.5L204.7 1325.6L205 884.6L205.4 1316.6L205.7 880.9L206.1 1315.3L206.4 1145.3L206.7 1314.8L207 1077.3L207.3 1313.5L207.6 1068.2L207.9 1316.6L208.2 916L208.6 1311.3L208.9 1045.2L208.1 1126.1L208.5 827.2L208.8 827.2L209.2 1126.1L209.2 1308.9L209.5 966.3L209.8 1309.8L210.1 949.6L210.4 1315.1L210.7 1015.7L210.9 1304.6L211.2 988.8L211.5 1303.1L211.8 1001.6L212 1301.5L212.3 1065.4L212.6 1301.9L213 1049.4L213.3 1305.5L213.6 1063.7L213 1192.7L213.4 981.5L213.8 981.5L214.1 1192.7L214 1301.6L214.3 1086L214.5 1301.3L214.8 1105.5L215.3 1301.3L215.6 1179L216 1304.1L216.3 1199.2L216.6 1304.9L216.9 1230.2L217.2 1306.6L217.5 1288.1L217.8 1301.4L218.1 1295.4L218.3 1301.5L218.6 1297.9L218.9 1303.7L219.2 1279.7L219.4 1313.4L219.7 1280.3L220 1299.8L220.3 1280.9L220.7 1299.6L221 1281.5L221.3 1303.1L221.6 1285.1L222 1304.3L222.3 1282L222.6 1302.3L222.9 1283.2L223.3 1304.1L223.6 1281.5L223.9 1307.1L224.2 1279.7L224.4 1307.8L224.7 1273.8L225 1306.2L225.3 1264.6L225.7 1312.6L226 1253.4L226.4 1310.8L226.7 1251.6L227.1 1311.9L227.4 1235.4L227.7 1314.2L228 1287.2L228.3 1319.4L228.6 1255.8L228.9 1315.1L229.2 1273.5L229.6 1315.8L229.9 1211.9L230.3 1317.2L230.6 1218.9L231 1317.5L231.3 1211.7L231.6 1319.1L231.9 1206.1L231.5 1262.5L231.9 947.6L232.3 947.6L232.6 1262.5L232.3 1311.9L232.6 1207.3L232.8 1313.6L233.1 1198.1L233.5 1311.7L233.8 1195.4L234 1310.2L234.4 1189.7L234.6 1312.4L234.9 1171.4L235.3 1306.9L235.6 1148.5L235.9 1304.7L236.3 1144.5L236.5 1303.4L236.8 1085.7L237.1 1302.1L237.4 1130.1L237.6 1306.8L238 1137L237.4 1223.1L237.8 913.6L238.1 913.6L238.5 1223.1L238.2 1307.2L238.5 1131.2L238.8 1308.2L239.1 1146.9L239.3 1306.5L239.6 1246.1L240 1306.8L240.3 1208.6L240.7 1307.5L241.1 1237.3L241.4 1308.9L241.7 1174.1L242 1315.4L242.4 1193.6L242.8 1308.5L243.1 1219.1L243.4 1306.5L243.7 1204.4L244.1 1306.2L244.4 1213.4L244.7 1313.1L245 1069.2L245.4 1307L245.8 1229.1L245.1 1273.6L245.5 912.7L245.9 912.7L246.2 1273.6L246 1304.6L246.3 1235.7L246.5 1303.9L246.9 1243.9L247.2 1303.3L247.5 1251.9L247.8 1306.4L248.2 1259L248.5 1302.2L248.8 1264.4L249 1301.5L249.3 1271.9L249.7 1302.5L250 1275.9L250.2 1307.9L250.5 1267L250.8 1300.7L251.1 1261.4L251.3 1297L251.6 1256.7L252 1296.4L252.3 1253.3L252.5 1300.3L252.9 1265.5L253.1 1297.8L253.4 1253.2L253.7 1301.6L254 1254L254.3 1303.3L254.6 1254.7L254.9 1304.2L255.2 1251L255.6 1305.3L255.9 1228L256.2 1310.3L256.5 1213.7L255.9 1262.4L256.3 1075.7L256.7 1075.7L257 1262.4L256.8 1304.9L257.1 1208.9L257.5 1311.1L257.8 1191.6L258.2 1311.3L258.6 1165L258.7 1316.6L259 1204L259.5 1313.5L259.8 1174.3L260.1 1313.1L260.4 1212.1L260.7 1313.6L261 1195.2L260.6 1260.6L260.9 1139L261.3 1139L261.7 1260.6L261.4 1318.3L261.7 1207.3L262 1312L262.3 1240L262.5 1311.8L262.8 1222.1L263 1312.7L263.3 1227.5L263.5 1322.3L263.8 1257.5L264.2 1315.3L264.5 1233.5L264.8 1316.3L265.1 1230.9L265.5 1315.7L265.8 1260.7L266.1 1316.4L266.4 1272.2L266.6 1325.4L266.9 1280.8L267.4 1319.6L267.7 1257.9L268.1 1315.1L268.4 1270.7L268.8 1314.4L269.1 1291.7L269.4 1314.5L269.8 1301.4L270 1318.2L270.4 1290.8L270.5 1311.8L270.9 1239.9L271.2 1310.8L271.5 1227.8L271.9 1310.3L272.2 1257.1L272.5 1309.5L272.8 1248.8L272 1283.5L272.4 1034.9L272.7 1034.9L273.1 1283.5L273 1308.1L273.3 1251.2L273.7 1313L274.1 1261.4L274.3 1307.5L274.6 1248.8L274.9 1308.2L275.2 1262.3L275.5 1308.6L275.8 1253.3L276.2 1308.7L276.5 1241.9L276.8 1309.2L277.1 1249.1L277.5 1307.3L277.8 1233.7L278.2 1318.1L278.5 1229.4L278.9 1308.1L279.2 1242L279.6 1306.4L279.9 1202.4L279.1 1268.8L279.4 1031.9L279.8 1031.9L280.2 1268.8L280.1 1307.7L280.4 1241.4L280.7 1316.2L281 1215.7L281.4 1311.7L281.7 1214.4L281.9 1314L282.2 1222.3L282.6 1317.2L282.9 1223.1L283.2 1328.6L283.5 1216.9L283.1 1266.4L283.5 1047.9L283.8 1047.9L284.2 1266.4L283.7 1322.4L284 1201.1L284.3 1324.2L284.6 1198.8L285 1328.2L285.3 1196.3L285.5 1340.2L285.9 1304.1L286.1 1329.7L286.4 1263.4L286.8 1329.3L287.1 1285.2L287.3 1327.6L287.7 1231.5L288 1326.9L288.3 1260.2L288.7 1331.7L289 1259.3L289.3 1325.2L289.6 1248.5L290.1 1322.1L290.4 1236.6L290.7 1322.1L291 1207.7L291.3 1324.7L291.7 1199.4L290.8 1241.2L291.2 958.4L291.5 958.4L291.9 1241.2L292 1324.4L292.3 1132.6L292.5 1331.1L292.8 1062.3L293.2 1323.3L293.6 1035.6L293.8 1324.1L294.1 1022L294.5 1323.7L294.8 1005.6L295.1 1324.5L295.4 989.8L295.6 1324.3L295.9 965.5L296.2 1324.1L296.6 994.6L296.1 1163L296.4 870.4L296.8 870.4L297.2 1163L296.9 1324.1L297.2 993.8L297.6 1331.7L297.9 1001.2L298.3 1328.8L298.6 981L298.9 1330.3L299.2 992.9L299.4 1332.6L299.7 1006.8L300 1333.6L300.3 1027.8L300.7 1334.8L301 1047.5L301.3 1345.2L301.6 1068.4L302.1 1334.4L302.4 1047.1L302.7 1332.4L303 1129.6L303.4 1329.6L303.7 1056.5L303.2 1198.2L303.5 975.4L303.9 975.4L304.3 1198.2L304.1 1328.6L304.4 1050.6L304.8 1333.9L305.1 1066.3L305.3 1325.6L305.6 1058.6L305.9 1324.9L306.2 1057L306.4 1324.4L306.7 1039.8L306.9 1331.1L307.2 1020.7L307.6 1324.8L307.9 1176.1L308.3 1322.1L308.6 1190.1L308.9 1321.3L309.2 1150.5L309.4 1323.7L309.7 975.5L309.3 1169.7L309.7 899.1L310.1 899.1L310.4 1169.7L310 1322.7L310.3 1064.9L310.7 1322.1L311 1037.7L311.4 1321L311.7 1040.5L312.1 1319.7L312.4 1038.1L312.7 1324L313 1059.6L313.3 1317.5L313.6 1047.2L314 1317.3L314.3 1052.6L314 1191.5L314.3 983.7L314.7 983.7L315.1 1191.5L314.5 1316.3L314.9 1061.6L315.1 1316L315.4 1085.6L315.6 1325.1L315.9 1064.7L316.2 1319.1L316.5 1068.3L316.8 1318L317.1 1086.9L317.3 1316.1L317.6 1044.6L317.9 1319.8L318.2 1014.2L318.5 1313L318.8 1002.3L319.1 1312.5L319.4 961.2L319.7 1310.7L320 1039.3L320.3 1315.6L320.6 996.6L320.9 1308L321.3 941.6L321.5 1307.7L321.8 991.9L321.4 1147.4L321.7 873.5L322.1 873.5L322.5 1147.4L322.2 1306.6L322.5 988.5L322.9 1303.4L323.2 1013.6L323.6 1308L323.9 1078.4L324.1 1305.2L324.4 1025.2L324.7 1303.9L325 1007.9L325.3 1302.5L325.6 1074.1L325.8 1302.6L326.1 997.2L326.4 1306.3L326.7 996.1L327 1299.2L327.3 1046.7L326.6 1152.9L327 943L327.3 943L327.7 1152.9L327.6 1299.5L327.9 996L328.2 1302L328.5 1034.3L328.9 1313.9L329.2 998.2L329.4 1306.1L329.8 1080L329.9 1307L330.3 995.9L330.5 1310.7L330.8 1001.7L331 1321.3L331.3 1208.8L331.7 1310.2L332 1247.5L332.3 1310.8L332.6 1197L332.9 1312.9L333.2 1056.5L333.5 1320.4L333.8 1027.6L334.1 1317.9L334.4 1071.7L333.7 1177.5L334.1 929.7L334.4 929.7L334.8 1177.5L334.8 1318.2L335.1 1030.9L335.3 1320.2L335.6 1034.7L336 1320L336.3 1064.4L336.5 1321.5L336.9 1042.6L337 1327.5L337.3 1036.3L337.6 1318.6L337.9 1031.5L338.2 1316.9L338.5 1044.7L338.8 1316.3L339.1 1023.2L339.5 1322.9L339.8 1125.7L339.3 1170.1L339.6 966.1L340 966.1L340.4 1170.1L340.2 1316.5L340.5 1200.4L340.8 1311.5L341.1 1182.8L341.3 1311.1L341.6 988L341.8 1318.8L342.1 1016.1L342.6 1314.1L342.9 1162.5L343.1 1315L343.4 1204.2L343.8 1316L344.1 1278.8L344.3 1320L344.6 1136.9L344.9 1313.5L345.2 1127.3L345.4 1314.4L345.7 1131.4L345.9 1317.4L346.2 1100.6L346.6 1326.8L346.9 1141.6L347.2 1316.7L347.5 1253.2L347.8 1316.4L348.1 1229.8L348.5 1319.3L348.8 1238L348.5 1226.3L348.9 1040.2L349.3 1040.2L349.6 1226.3L349.2 1319.6L349.6 1129.5L349.8 1318.8L350.1 1154.6L350.4 1317.7L350.7 1175L351 1319.3L351.4 1200.9L351.7 1318.5L352 1210.1L352.4 1321L352.7 1220.5L353 1315.9L353.4 1208.2L353.6 1315.3L353.9 1202.4L354.1 1311.4L354.4 1197.9L354.8 1320.5L355.1 1157.6L355.4 1312L355.7 1131L356 1311.9L356.3 1110.8L356.7 1310.3L357 1037.9L357.4 1312.8L357.7 1010.2L358.1 1307.1L358.4 1018.5L358.6 1306.6L358.9 1039.4L358.3 1179.3L358.6 999.1L359 999.1L359.4 1179.3L359.2 1307L359.5 1054L359.9 1313.1L360.2 1063.5L360.5 1304L360.8 1072.1L361.2 1302.9L361.5 1078.1L361.8 1301.8L362.1 1076.4" fill="none" stroke="#231f20" stroke-width="1.75" stroke-linejoin="bevel"/>
<path d="M372.9 1326.7L373.2 1125.4L373.6 1313.9L373.9 1130.6L374.2 1313.4L374.6 1148.6L374 1237.4L374.4 1108.1L374.7 1108.1L375.1 1237.4L374.8 1316.3L375.1 1155.4L375.4 1325.9L375.7 1164.8L376.1 1313.2L376.4 1176.8L376.8 1312.6L377.1 1190.6L377.4 1312L377.7 1237.1L378 1313.6L378.3 1203.5L378.5 1326.8L378.8 1206.2L379 1316.4L379.3 1175.7L379.6 1318.5L379.9 1160.2L380.3 1319.5L380.6 1167.7L380.9 1323.4L381.2 1148.6L381.5 1318.9L381.8 1168.4L382.2 1320.8L382.5 1146.6L382.8 1320L383.2 1143.1L382.4 1235.7L382.7 1080.3L383.1 1080.3L383.5 1235.7L383.4 1327.7L383.7 1143.4L384.1 1319.2L384.4 1136.4L384.6 1319.4L384.9 1141.5L385.1 1318.1L385.4 1147.5L385.7 1318.5L386 1160.1L386.2 1315.8L386.5 1180.8L386.9 1315.2L387.2 1183.2L387.5 1316.5L387.8 1179.3L388 1321.8L388.3 1157.7L388.8 1316.7L389.1 1141.1L389.3 1316.1L389.6 1159.4L389.8 1315.6L390.1 1122.2L390.5 1317.6L390.9 1112.6L391.1 1312.4L391.4 1099.9L391.7 1314.1L392 1091.3L392.3 1315.2L392.6 1086.5L392.2 1204.9L392.6 1011.5L393 1011.5L393.3 1204.9L393 1322L393.3 1069.6L393.7 1320.9L394 1091.2L394.3 1324.6L394.7 1104.4L395 1325.8L395.3 1068.5L395.7 1325.8L396 1142.1L396.3 1324.2L396.6 1179.9L397.1 1326.4L397.4 1179.7L397.7 1319.6L398 1172.8L398.4 1317.7L398.8 1106.3L399 1315.9L399.3 1122.2L398.7 1224.3L399.1 1092.7L399.4 1092.7L399.8 1224.3L399.8 1315.7L400.1 1158.3L400.5 1319.3L400.8 1161.7L401.2 1309.4L401.5 1163L401.7 1307.3L402.1 1184.1L402.4 1305.1L402.7 1175.3L403.1 1313L403.4 1186.5L403.8 1300.9L404.1 1216.3L404.4 1299.5L404.7 1237.9L405 1300.2L405.3 1265.7L405.6 1306L405.9 1275.7L406.2 1315.9L406.6 1268.5L406.9 1310.2L407.2 1262.6L407.4 1310L407.7 1240.6L407.4 1274.2L407.7 1160.6L408.1 1160.6L408.5 1274.2L408 1312.4L408.4 1263.1L408.6 1321.2L409 1292.1L409.2 1318.8L409.5 1278L409.8 1316.7L410.1 1178.8L410.5 1316.8L410.8 1159.8L411 1318L411.3 1172.4L411.5 1324.8L411.8 1141L412.1 1318.7L412.4 1132.4L412.6 1318.4L412.9 1154.1L412.6 1236L413 1072L413.3 1072L413.7 1236L413.2 1318.8L413.5 1185.2L413.8 1322.4L414.1 1198.5L414.4 1323.1L414.7 1166L415 1323.7L415.3 1184.6L415.7 1332.5L416 1166.6L415.7 1249.3L416.1 1088L416.4 1088L416.8 1249.3L416.3 1322.7L416.6 1257.4L417 1325.3L417.3 1245.6L417.6 1327.9L418 1238.7L418.3 1338.1L418.6 1180.1L418.9 1331.1L419.2 1186.3L419.5 1333.2L419.8 1215.2L419.4 1270.3L419.8 1080.3L420.1 1080.3L420.5 1270.3L420.2 1335.4L420.5 1209.1L420.9 1342.5L421.2 1222.1L421.5 1333.1L421.8 1239.9L422 1330.2L422.3 1226L422.7 1328.5L423 1208.7L423.3 1325.1L423.6 1233.3L423.8 1326.3L424.1 1153.3L423.7 1272.3L424.1 1119.5L424.4 1119.5L424.8 1272.3L424.4 1320.2L424.7 1168.5L425 1317.1L425.3 1237.5L425.6 1317.3L425.9 1175.4L426.1 1319L426.4 1209.6L426.8 1328.8L427.1 1202.4L427.3 1320.2L427.7 1212.1L427.9 1319.5L428.3 1189.2L428.6 1321.6L428.9 1186.5L428.3 1254.4L428.7 1130.3L429.1 1130.3L429.4 1254.4L429.3 1330.3L429.6 1172.2L430 1322.4L430.3 1176.8L430.6 1327.1L430.9 1150.5L431.2 1327.1L431.5 1192.8L431.9 1327.5L432.2 1164.9L432.5 1337.7L432.8 1211.3L433 1325.9L433.3 1186.3L433.7 1326L434 1170.6L434.2 1325.7L434.6 1151.9L434.9 1329.3L435.3 1130.1L435.5 1328.3L435.9 1144.5L436.1 1327.8L436.4 1143.1L436.7 1327.7L437 1110.8L437.4 1325.7L437.7 1211.1" fill="none" stroke="#231f20" stroke-width="1.75" stroke-linejoin="bevel"/>
<path d="M441.1 1315.2L441.4 1092.7L441.8 1312.8L442.1 1080.3L442.4 1313.5L442.7 1069.3L443 1318.2L443.3 1084.7L442.8 1203.3L443.2 1023.8L443.6 1023.8L443.9 1203.3L443.6 1315.9L443.9 1083.7L444.2 1317.8L444.5 1069L444.7 1321.4L445 1071.2L445.4 1322.9L445.7 1111.7L446 1332L446.4 1180.8L446.8 1325.6L447.1 1253.3L447.3 1323.4L447.6 1232.6L447.9 1324.6L448.2 1250.9L448.6 1328.3L449 1248.4L449.2 1328.7L449.5 1253L449 1291.7L449.4 1012.4L449.7 1012.4L450.1 1291.7L449.7 1334.6L450 1244.3L450.2 1329.8L450.5 1206.7L450.9 1330.6L451.2 1239.6L451.6 1329.7L451.9 1219.5L452.2 1336L452.5 1209.8L452.8 1329.6L453.1 1210.2L453.4 1330.5L453.7 1176.1L453 1254.6L453.4 1072L453.8 1072L454.1 1254.6L454.1 1331L454.4 1193.5L454.6 1330.2L454.9 1138.1L455.2 1329.9L455.5 1123.2L455.9 1330.8L456.2 1107.8L456.5 1321.2L456.8 1114.2L457 1319.3L457.3 1170.2L457.6 1316.9L457.9 1165.7L458.2 1317.5L458.5 1147.4L458.9 1314.3L459.2 1149.1L459.5 1317.6L459.9 1181.5L460.1 1313L460.4 1172.3L460.6 1311L460.9 1250.1L461.3 1310L461.6 1257.6L461.8 1309.2L462.1 1283.4L461.7 1259.5L462 1054.1L462.4 1054.1L462.8 1259.5L462.5 1311.6L462.8 1215.9L463.2 1306.8L463.5 1217.6L463.9 1306.9L464.2 1218.1L464.6 1311L464.9 1235.1L465.3 1312.2L465.6 1243.9L466 1311.8L466.3 1253.2L466.7 1321L467 1254.9L466.3 1289.4L466.7 1180.6L467 1180.6L467.4 1289.4L467.3 1315.4L467.6 1262.2L467.8 1316.5L468.1 1293.3L468.4 1316.6L468.7 1293.8L469 1311.1L469.3 1305L469.6 1313.2L469.9 1279.1L470.3 1297L470.6 1298.7" fill="none" stroke="#231f20" stroke-width="1.75" stroke-linejoin="bevel"/>
<path d="M491.3 1297.7L491.6 1288.2L491.9 1298.6L492.2 1288L492.6 1299.4L492.9 1277.7L493.1 1299.9L493.4 1277.9L493.8 1300.9L494.1 1257.8L493.8 1295.8L494.1 1239.9L494.5 1239.9L494.9 1295.8L494.5 1301.7L494.8 1284.2L495.2 1301.5L495.5 1282.3L495.7 1312.6L496 1282.2L496.4 1302.3L496.7 1295.4L497 1298.8L497.3 1298.2" fill="none" stroke="#231f20" stroke-width="1.75" stroke-linejoin="bevel"/>
<path d="M510.1 1304.2L510.4 1292.8L509.8 1274.2L510.2 1078.8L510.6 1078.8L510.9 1274.2L510.8 1313.2L511.1 1255.2L511.4 1304.5L511.7 1214.5L511.9 1304.8L512.2 1285.6L512.4 1305.7L512.7 1285.6L513.1 1306.8L513.4 1285.7" fill="none" stroke="#231f20" stroke-width="1.75" stroke-linejoin="bevel"/>
<path d="M516.8 1314L517.1 1271.8L517.5 1309.3L517.8 1260.1L518.1 1310L518.4 1254.7L518.6 1310.1L518.9 1260.2L519.2 1318.2L519.5 1255.8L519.1 1285.4L519.4 1112.1L519.8 1112.1L520.2 1285.4L519.9 1307.4L520.2 1255.3L520.5 1305L520.8 1255.2L521.1 1302.1L521.4 1257.1L521.9 1299.9L522.2 1257.2L522.5 1306.9L522.8 1261.7L523 1298.8L523.3 1287.8" fill="none" stroke="#231f20" stroke-width="1.75" stroke-linejoin="bevel"/>
<path d="M529.2 1308.6L529.5 1280.4L529.7 1308.3L530 1273.6L530.2 1307.4L530.5 1246.1L530.9 1312.6L531.3 1241.7L531.5 1304.7L531.8 1239.1L532.2 1306.2L532.5 1229.5L532.9 1305.8L533.2 1236.9L532.7 1280.8L533 1217.7L533.4 1217.7L533.8 1280.8L533.7 1306.6L534 1244.6L534.2 1312L534.5 1249.5L534.9 1305L535.2 1252.8L535.6 1304.6L535.9 1243L536.1 1303.3L536.4 1245L536.7 1306.7L537 1216.6L537.4 1301.3L537.7 1210.5L538 1301.7L538.3 1205.5L538.8 1300.8L539.1 1216.9L538.5 1264.3L538.9 1157.5L539.3 1157.5L539.6 1264.3L539.3 1303.2L539.6 1204.8L540 1299L540.3 1223L540.6 1298.5L540.9 1224.2L541.3 1298.8L541.6 1250.4L542 1304.1L542.3 1261.8L542.6 1297.7L542.9 1260.3L543.2 1296.3L543.5 1272.1L543.8 1294.5L544.1 1276.8" fill="none" stroke="#231f20" stroke-width="1.75" stroke-linejoin="bevel"/>
<path d="M550.6 1294.8L550.9 1285L551.2 1296.2L551.5 1282.8L551.9 1296.9L552.3 1283.5" fill="none" stroke="#231f20" stroke-width="1.75" stroke-linejoin="bevel"/>
<path d="M557.6 1301.4L557.9 1241.6L557.2 1268L557.6 1072.6L558 1072.6L558.3 1268L558.1 1293.5L558.4 1264.3L558.7 1293.7L559 1279.9L559.2 1293.3L559.5 1273.5L559.8 1293.1L560.1 1224.5L560.4 1306.1L560.7 1215.9L561 1297.2L561.4 1241.4L560.6 1266.2L561 1039.6L561.4 1039.6L561.7 1266.2L561.7 1297L562.1 1248.4L562.4 1297.6L562.7 1249.7L563 1298.9L563.3 1258L563.6 1299.5L563.9 1264L564.3 1296.8L564.6 1268.6L564 1287.5L564.4 1240.8L564.7 1240.8L565.1 1287.5L564.8 1303L565.1 1272.3L565.5 1296.4L565.8 1279.7L566.1 1297.6L566.4 1281.1L566.8 1299L567.1 1275.5L567.4 1308.5L567.7 1276.3L567.1 1288.6L567.5 1251.6L567.8 1251.6L568.2 1288.6L568 1301.6L568.3 1288L568.6 1300L568.9 1290L569.3 1301.7L569.6 1285.4L569.8 1304.7L570.1 1248.3L570.5 1303.9L570.8 1251.6L571.1 1302.4L571.4 1234.5L571.7 1311.3L572 1146.3L572.3 1298.3L572.6 1032.1L573 1296.7L573.3 1075.1L572.7 1169.6L573 835.6L573.4 835.6L573.8 1169.6L573.7 1294.7L574 991.1L574.3 1294.1L574.6 1032.5L574.8 1299.3L575.1 1031L575.4 1295L575.7 1004.9L576.1 1296.7L576.4 1041.5L576.6 1297.2L576.9 1108.5L577.1 1297.9L577.4 1070.5L576.7 1189.7L577 930L577.4 930L577.8 1189.7L577.8 1296.2L578.2 1132.8L578.4 1300.8L578.7 1141.5L579.1 1294.6L579.4 1184.3L579.9 1297L580.2 1189.5L580.5 1297.3L580.8 1227.8L581.2 1297.6L581.5 1208.2L581.8 1303.1L582.1 1165.6L582.3 1298.1L582.6 1169.1L582.9 1298L583.2 1166L582.5 1226.9L582.9 1034.9L583.3 1034.9L583.6 1226.9L583.5 1298L583.8 1138.2L584 1304.6L584.4 1153.6L584.6 1296.9L584.9 1100.4L585.2 1296.8L585.5 1116.3L585.9 1297.3L586.2 1133.2L585.6 1218.4L586 1030.9L586.4 1030.9L586.7 1218.4L586.4 1300.5L586.7 1160.5L586.9 1296.4L587.3 1187L587.7 1295.5L588 1222L588.4 1295.3L588.7 1254.3L588.1 1241.6L588.5 1037.1L588.8 1037.1L589.2 1241.6L589.1 1295.8L589.4 1231.2L589.9 1295.3L590.2 1219.9L590.5 1296.8L590.9 1266.6L591.2 1296.9L591.6 1289.5L591.7 1301.1L592.1 1270.2L592.5 1297.2L592.8 1249.2L593 1294.6L593.4 1230.2L593.7 1295L594 1209.4L593.3 1255.8L593.7 1002.2L594.1 1002.2L594.4 1255.8L594.3 1296.2L594.6 1224.2L595 1304.4L595.3 1182.4L595.5 1297L595.8 1162.9L596 1296.5L596.3 1173.4L596.7 1300.7L597 1233.3L597.4 1310.1L597.7 1270.9L598.1 1300L598.4 1273.1L598.7 1300.3L599 1275.1L599.4 1301L599.7 1281.1L600.1 1306.9L600.4 1283.4L600.6 1305.9L600.9 1277.9L601.3 1304.5L601.6 1277.3L602.1 1303.2L602.4 1275.8L602.6 1309.4L602.9 1253.9L603.4 1300.8L603.7 1244.7L604 1299.4L604.3 1163.3L604.5 1301.7L604.9 1094.5L605.2 1307.2L605.6 989.3L605.9 1297L606.2 939.4L606.5 1296.3L606.8 949L607.2 1298.4L607.5 986.4L608 1299.1L608.3 930.9L607.5 1120.6L607.9 852.8L608.3 852.8L608.6 1120.6L608.7 1301.3L609 920.3L609.4 1298L609.7 973.9L610.1 1299.2L610.4 977.6L610.6 1299.4L610.9 972.1L611.3 1310.1L611.6 1030.3L612 1300.7L612.4 967.2L612.7 1300.6L613 1124L613.4 1301.3L613.7 1135.4L614 1299.3L614.3 1121L614.7 1308.1L615 1022.3L615.4 1299.9L615.7 1048.1L614.9 1157.7L615.3 891.1L615.7 891.1L616 1157.7L615.9 1299.3L616.3 1016.1L616.5 1301.8L616.8 1004.4L617.3 1302.1L617.6 1088.7L617.8 1299.5L618.1 1105.2L618.5 1299.2L618.8 1165.6L619.1 1306.5L619.4 1218.9L619.7 1300.9L620 1215.3L620.4 1299.1L620.7 1234.8L621 1299.1L621.3 1236.1L620.5 1272.8L620.9 945.4L621.2 945.4L621.6 1272.8L621.7 1300.2L622 1269.5L622.4 1299.9L622.7 1286.5L623 1301.4L623.3 1295.1L623.7 1301.4L624 1262.6L624.3 1302.5L624.6 1273.3L624.8 1302L625.1 1263.9L625.4 1303.1L625.8 1264.5L626.1 1304.2L626.4 1263.8L626.8 1306.2L627.1 1263.4L626.7 1287.3L627 1220.1L627.4 1220.1L627.8 1287.3L627.4 1301.9L627.7 1271.8L628 1304.1L628.3 1248.8L628.7 1303.8L629 1262.6L629.4 1311.7L629.7 1260.2L630 1304.9L630.4 1260.3L630.7 1301.3L631 1207.6L631.3 1300.9L631.6 1253.5L631 1279.9L631.4 1085.9L631.7 1085.9L632.1 1279.9L631.9 1302.1L632.2 1246.3L632.6 1310.6L632.9 1241.5L633.2 1304.4L633.5 1246.5L633.7 1303.5L634 1239.4L634.3 1303.2L634.6 1250.7L635 1300.5L635.3 1268L635.7 1310.2L636 1263.2L636.3 1300.3L636.6 1275.2L636.9 1300.1L637.2 1283.8L637.5 1300.6L637.8 1273.6L638 1308.6L638.3 1263.2L638.5 1301.2L638.8 1257.1L639.2 1300.2L639.5 1235.3L639.9 1298.9L640.2 1233.4L640.5 1298.3L640.8 1242.8L641.2 1307.8L641.5 1236.3L640.9 1270.3L641.2 1184.3L641.6 1184.3L642 1270.3L641.9 1301.3L642.2 1238.4L642.4 1299.5L642.7 1227.1L642.9 1299.7L643.3 1225.2L643.5 1303L643.8 1220.6L644.1 1298.5L644.4 1222.6L644.8 1297.5L645.1 1221.6L645.5 1299L645.8 1276.8L646.2 1297.4L646.5 1257.5L645.8 1262.3L646.2 1161.2L646.5 1161.2L646.9 1262.3L646.8 1302.5L647.1 1281.7L647.4 1296.1L647.7 1225.2L647.9 1294.9L648.2 1215L648.5 1293.7L648.8 1228.9L649 1302.4L649.3 1236.8L649.6 1294.3L649.9 1251.8L650.1 1294.7L650.4 1263.3L650.8 1294.5L651.1 1273.4L651.4 1298.8L651.7 1274L652 1294.6L652.3 1272.9L652.6 1295.5L652.9 1273L652.3 1288.7L652.7 1248.5L653 1248.5L653.4 1288.7L653.1 1296L653.5 1273.9L653.9 1296.1L654.2 1275L654.4 1299.3L654.7 1276.3L654.9 1293.6L655.2 1276L655.6 1297.8L655.9 1232.8L656.3 1299.6L656.6 1164.3L656.8 1306.9L657.1 1115.1L657.6 1298.5L657.9 1116.3L658.2 1301L658.5 1131.6L658.2 1216.7L658.5 1013.3L658.9 1013.3L659.3 1216.7L658.7 1301.9L659.1 1177.1L659.4 1304.3L659.7 1170.7L660 1315.7L660.3 1153.5L660.7 1304.8L661 1134.8L661.4 1304.7L661.7 1171.5L661.9 1305.6L662.2 1170.5L662.6 1306.3L662.9 1239.9L663.3 1309L663.6 1249.1L664 1310.4L664.3 1288.2L664.5 1306.8L664.8 1270.7L665.1 1308.3L665.4 1276L665.8 1301.6L666.1 1281.8L666.5 1297.4L666.8 1284.6L667.2 1291.1L667.5 1282.5L667.7 1291.8L668 1283.5L668.4 1296.8L668.8 1274.1L669.2 1300.7L669.5 1274.1L669 1289.1L669.3 1155.3L669.7 1155.3L670.1 1289.1L669.9 1304.5L670.2 1264.8L670.6 1307.5L670.9 1256.2L671.1 1316.2L671.4 1264.5L671.7 1312.9L672 1257.9L672.3 1314.7L672.6 1256.1L672.9 1314.9L673.2 1257L673.4 1320.2L673.8 1158.5L673.3 1289.9L673.6 1140.5L674 1140.5L674.4 1289.9L674 1314L674.3 1269L674.7 1313.3L675 1259.7L675.4 1313.2L675.7 1269.4L676.1 1310.2L676.4 1270.3L676.8 1310.1L677.1 1237.2L677.3 1309.3L677.6 1225.7L677.9 1312.2L678.2 1215.7L678.5 1307.9L678.8 1174.7L679 1311.2L679.3 1114L679.6 1311.6L679.9 1099.1L680.3 1312.4L680.6 1124.6L680.9 1312.7L681.2 1154.3L680.4 1239L680.7 1059.3L681.1 1059.3L681.5 1239L681.4 1311.9L681.7 1216.9L681.9 1311.7L682.2 1160.6L682.6 1324.3L682.9 1254.5L683.2 1314L683.5 1234.9L683.7 1314L684 1207.5L684.4 1313.8L684.7 1168.2L685.1 1313.9L685.4 1182.8L685.7 1312.3L686 1127.5L686.4 1315L686.7 1133.3L687 1325.2L687.3 1138.4L687.6 1315.3L687.9 1143.3L687.5 1235.2L687.8 1113.6L688.2 1113.6L688.6 1235.2L688.3 1313.9L688.6 1165.9L689 1313.3L689.3 1170.5L689.6 1315.4L689.9 1164.4L690.2 1320.5L690.6 1162.6L690.8 1319.2L691.1 1161.7L691.3 1319.6L691.6 1151.8L691.2 1243.7L691.5 1145.1L691.9 1145.1L692.3 1243.7L692 1320.5L692.3 1149.5L692.6 1325.9L692.9 1157.3L693.1 1320L693.4 1155.8L693.8 1319.4L694.1 1175.9L694.3 1320.9L694.6 1195.3L694.9 1319.9L695.2 1227.3L695.6 1318.7L695.9 1249.8L696.2 1317.6L696.5 1225.5L696.9 1315.1L697.2 1280.9L697.5 1313.9L697.8 1231L697 1242.3L697.4 964.6L697.8 964.6L698.1 1242.3L698 1313L698.3 1264.6L698.7 1316.8L699 1095.3L699.2 1311.6L699.5 1094.5L699.9 1312.6L700.2 1098.3L700.5 1312.2L700.8 1099.4L701.2 1319.1L701.5 1153.4L701.8 1310.4L702.1 1104.3L702.5 1313.1L702.8 1129.3L703.2 1313L703.5 1149.8L703.8 1310.7L704.1 1158.7L704.3 1318.2L704.7 1209.4L704.1 1251.5L704.5 1094.2L704.9 1094.2L705.2 1251.5L705 1312.3L705.3 1215.5L705.7 1314.6L706 1235.6L706.4 1313.3L706.7 1303.8L706.9 1320.6L707.2 1270.9L707.5 1320.1L707.8 1282.2L708.2 1321.7L708.5 1241L707.8 1286.7L708.2 1208.4L708.6 1208.4L708.9 1286.7L708.9 1321.8L709.2 1252.9L709.5 1329.8L709.8 1266.7L710.1 1324.7L710.4 1253.3L710 1293.4L710.4 1206.9L710.7 1206.9L711.1 1293.4L710.8 1322L711.1 1258.1L711.5 1317.3L711.8 1310.7L712.1 1323.8L712.4 1309.4L712.6 1310.2L712.9 1292.1L713.3 1306.1L713.6 1253.9L714 1307.1L714.3 1229L714.6 1310L714.9 1210.2L715.2 1313.1L715.5 1192L715.8 1319.2L716.1 1173.1L716.3 1318.8L716.6 1177.4L717 1321.5L717.3 1127.3L717.6 1323L717.9 1168.4L718.2 1325.4L718.5 1108L718.7 1314.4L719 1131.2L718.6 1201.6L719 1026.3L719.4 1026.3L719.7 1201.6L719.2 1315.8L719.6 1095L719.8 1313.4L720.1 1042.2L720.5 1305.4L720.8 1056.9L721.1 1302.6L721.4 1045.8L721.9 1308.5L722.2 1073.1L722.4 1301.8L722.7 1085.4L723.1 1302.2L723.4 1149.3L723.6 1302.2L723.9 1155.8L724.2 1302L724.5 1190L724.8 1312.5L725.1 1250.5L725.4 1302.4L725.7 1257.7L726.1 1303.5L726.4 1261L726.6 1302.9L727 1262.9L727.3 1302.5L727.6 1265.7L728 1301.6L728.3 1208.9L728.6 1300.5L728.9 1194.3L729.2 1300.3L729.5 1159.2L729.8 1300.2L730.1 1154.7L730.4 1303.3L730.7 1159.2L731 1299.8L731.3 1192.9L731.7 1300.3L732 1208.5L731.2 1259.6L731.5 938.3L731.9 938.3L732.3 1259.6L732.2 1297L732.6 1059.1L732.9 1296.4L733.2 1257.3L733.6 1299.2L733.9 1279.4L734.2 1309.6L734.5 1279.4L734.7 1301.3L735 1279.4L735.3 1303.1L735.7 1280.3L736 1306.2L736.4 1280.1L736.6 1317.9L736.9 1279.5L737.3 1308.9L737.6 1267.7L738 1310.8L738.3 1234.5L738.6 1309.8L738.9 1257.6L738.6 1283.4L739 1179.1L739.3 1179.1L739.7 1283.4L739.3 1308.3L739.6 1252.6L739.9 1308L740.2 1230.2L740.5 1310.1L740.8 1236.1L741 1305.5L741.3 1229.3L741.6 1306.9L741.9 1240.2L742.1 1306.2L742.4 1249.5L742 1285.4L742.4 1149.1L742.7 1149.1L743.1 1285.4L742.7 1312.9L743 1230.3" fill="none" stroke="#231f20" stroke-width="1.75" stroke-linejoin="bevel"/>
<path d="M759.4 1318.8L759.7 1212.2L760 1320.2L760.3 1174.8L760.6 1319.7L760.9 1168.6L761.1 1320.8L761.4 1195.3L761.7 1326.7L762 1156.8L762.3 1323.5L762.6 1145L762.9 1324.2L763.3 1132.9L763.7 1324.5L764 1152.3L764.3 1325.4L764.7 1112.2L765 1331.7L765.3 1123.7L765.6 1326.4L765.9 1115L765.1 1223.4L765.5 1091.7L765.9 1091.7L766.2 1223.4L766.3 1323.8L766.6 1107.7L767 1326.4L767.3 1160.6L767.7 1336.7L768 1155.9L768.2 1327.8L768.6 1144.6L768.8 1328.7L769.1 1136.3L769.5 1329.7L769.9 1186.1L770.1 1331.3L770.4 1228.3L770.6 1337.6L770.9 1290L771.2 1331.1L771.5 1290.5L771 1253.5L771.4 1183.7L771.7 1183.7L772.1 1253.5L771.7 1332L772 1184.1L772.3 1331.2L772.6 1173.5L772.9 1331.2L773.2 1178.6L773.4 1332L773.7 1190L773.9 1335.3L774.2 1194.6L774.4 1337L774.7 1202.3L775.1 1335.9L775.4 1206.8L775.8 1340.1L776.1 1222.3L776.4 1338.8L776.7 1162.4L775.9 1289.5L776.3 1142L776.7 1142L777 1289.5L776.9 1338.4L777.2 1176.8L777.4 1336.2L777.7 1243" fill="none" stroke="#231f20" stroke-width="1.75" stroke-linejoin="bevel"/>
<path d="M781.9 1334.8L782.2 1166.1L782.6 1338.7L782.9 1144.5L783.1 1334.9L783.4 1143.5L783.7 1334.9L784 1147.4L783.3 1244.3L783.7 1126L784.1 1126L784.4 1244.3L784.2 1335.7L784.5 1144.3L784.8 1335.8L785.1 1147.7" fill="none" stroke="#231f20" stroke-width="1.75" stroke-linejoin="bevel"/>
<path d="M788.5 1345.9L788.8 1248.5L789.1 1336.3L789.4 1236.8L789.7 1337.5L790 1220.6L790.2 1338.1L790.5 1219L790.1 1282.9L790.5 1190.5L790.9 1190.5L791.2 1282.9L790.8 1339.3L791.1 1245.1L791.4 1339.3L791.7 1215.6L792 1338.1L792.3 1214L792.5 1338.2L792.9 1222.6L793.1 1343.5L793.4 1202.2L793.7 1339.2L794 1184.2L794.3 1340.1L794.6 1174.5L794.8 1343.6L795.1 1160.9L795.4 1345.3L795.8 1141.3L796.1 1343.8L796.5 1185.8L796.8 1345.2L797.1 1127.7L797.4 1345.5L797.7 1118.9L798 1347.4L798.3 1122.1L798.6 1341.9L798.9 1122.3L799.4 1340.2L799.7 1122.4L799.9 1338.4L800.2 1162.6L799.7 1234.4L800.1 1081.9L800.4 1081.9L800.8 1234.4L800.6 1341L800.9 1119.8L801.2 1335.7L801.5 1102.1L802 1336L802.3 1119.1L802.5 1339.3L802.9 1136.6L803.3 1339L803.6 1184.4L803.8 1344L804.1 1224L804.6 1335.4L804.9 1177.3L805.1 1338.1L805.4 1164.9L805.7 1338.4L806 1183.7L806.3 1336.7L806.6 1146L806.8 1340.2L807.1 1150L807.3 1332.7L807.6 1127.9L808.1 1330.5L808.4 1120.1L808 1248L808.4 1098.2L808.8 1098.2L809.1 1248L808.8 1332.9L809.1 1157.4L809.5 1332.2L809.8 1134L810.1 1326.1L810.4 1184.5L810.9 1307.3L811.2 1205.5L811.4 1302.7L811.7 1211.4L812.1 1302.3L812.4 1221.9L812.8 1309.9L813.1 1235.2L813.4 1303.5L813.7 1232.3L814.1 1303.2L814.4 1229.6L814.7 1303.8L815 1225.5L815.3 1309.7L815.7 1230.2L816 1300.3L816.3 1224.8L816.7 1301.2L817 1237.4L817.2 1301.3L817.5 1227.8L817.7 1299.5L818 1228.2L817.3 1267.2L817.7 1152.8L818 1152.8L818.4 1267.2L818.4 1300.2L818.8 1220.5L819.1 1305.2L819.4 1224L819.6 1300.2L820 1221.5L820.2 1299.3L820.5 1224.9L820.8 1300.2L821.1 1238L820.7 1274.6L821.1 1203.8L821.4 1203.8L821.8 1274.6L821.4 1300.3L821.7 1239.2L822 1306.1L822.3 1234.3L822.6 1300.4L822.9 1249.3L823.3 1300.4L823.6 1259.7L823.9 1300.5L824.2 1257.8L824.4 1300.3L824.8 1262.4L825.1 1306.9L825.4 1265.7L825.7 1302.9L826 1263.9L826.2 1302.6L826.5 1253.5L826.9 1302.8L827.2 1239.4L827.5 1302.2L827.8 1251.7L827.5 1260.2L827.8 1128.1L828.2 1128.1L828.6 1260.2L828.1 1302.3L828.4 1263.1L828.8 1310.3L829.1 1233.7L829.5 1301.5L829.8 1173.3L830 1300.7L830.3 1160.2L830.6 1300.9L830.9 1157.3L831.2 1302.2L831.5 1153.5L831.2 1230.9L831.5 1061.8L831.9 1061.8L832.3 1230.9L831.7 1301.8L832 1169.4L832.5 1306.6L832.8 1105.5L833.1 1302.1L833.4 1155L833.8 1301.3L834.1 1138.6L834.3 1301L834.6 1142.4L834.8 1307.6L835.2 1141.4L835.4 1302.2L835.7 1134.8L836 1302.6L836.3 1124.9L836.6 1302.4L836.9 1104.1L837.3 1311.3L837.6 1076.8L838 1300.9L838.4 1058.5L838.7 1302.1L839 1096.1L839.4 1301.4L839.7 1124.8L839.2 1211L839.6 1030.3L839.9 1030.3L840.3 1211L839.9 1301.3L840.2 1225.6L840.5 1310.2L840.8 1225.4L841.2 1300.2L841.5 1238.6L841.9 1300.4L842.2 1188.2L842.5 1298.2L842.8 1215L843.2 1298.3L843.5 1252.3L843.8 1296.8L844.1 1264.8L844.4 1297.4L844.7 1265.8L845 1300.8L845.3 1255.8L845.7 1300.9L846 1258.2L846.3 1302.6L846.6 1260.5L847 1298.4L847.3 1274.7L846.6 1287L847 1185.2L847.3 1185.2L847.7 1287L847.6 1298.9L847.9 1270.9L848.2 1302.3L848.5 1269.8" fill="none" stroke="#231f20" stroke-width="1.75" stroke-linejoin="bevel"/>
<path d="M854.3 1293.4L854.6 1265.6L854.3 1284.1L854.7 1257.8L855.1 1257.8L855.4 1284.1L855 1299.9L855.3 1264.9L855.7 1295.8L856 1269.3L856.3 1296.4L856.6 1273.6L857 1296.1L857.3 1272.1L857.6 1304.8L857.9 1272.9L858.2 1301.4L858.5 1272L858.7 1302.6L859 1271.4L859.3 1303.2L859.6 1272.1L859.8 1302.6L860.1 1276.5L860.5 1310.7L860.8 1242.8L861.2 1303.3L861.5 1262.3L860.8 1288L861.2 1214.6L861.5 1214.6L861.9 1288L861.9 1303.6L862.2 1263L862.6 1304.7L862.9 1260.9L863.3 1316.1L863.6 1241.4L864 1305.9L864.3 1185.7L863.9 1263.1L864.3 1112.1L864.6 1112.1L865 1263.1L864.6 1307.3L864.9 1149.1L865.1 1306.6L865.4 1194.1L865.7 1306.2L866 1166.2L866.3 1303.4L866.6 1158.3L866.8 1308.6L867.2 1158.2L867.5 1303L867.9 1192.5L868.3 1301.4L868.6 1124.6L869 1299L869.3 1173.1L868.5 1244.5L868.9 1096.4L869.3 1096.4L869.6 1244.5L869.7 1305.2L870 1174.9L870.3 1297.3L870.7 1191.9L871 1295.7L871.3 1207.7L871.6 1299.2L871.9 1244L872.2 1302L872.5 1253.6L872.8 1296.4L873.1 1273.2L873.4 1296.2L873.7 1272.8L874 1292.4L874.3 1277.8L874.6 1299.9L874.9 1289.4L875.2 1294.9L875.5 1285.9L875.9 1294.9L876.3 1289.6L876.5 1292.9L876.8 1272.6L877.1 1293L877.4 1266.8L877.6 1295.8L877.9 1273.2L878.1 1291.5L878.5 1257.7L878.1 1283.2L878.5 1237.7L878.8 1237.7L879.2 1283.2L878.7 1290.4L879 1264.5L879.4 1292.4L879.7 1264.5L880 1292.6L880.3 1261.9L880.6 1297.6L880.9 1262.8L881.3 1291.2L881.6 1285.6" fill="none" stroke="#231f20" stroke-width="1.75" stroke-linejoin="bevel"/>
<path d="M885.6 1295.3L885.9 1288.4L886.1 1295.3L886.4 1290.8L886.8 1303.6L887.1 1279.7L887.5 1297L887.8 1280.2L888 1298.3L888.3 1280.3L888.6 1298.1L888.9 1280.8L888.6 1293.3L889 1190.8L889.3 1190.8L889.7 1293.3L889.2 1303.5L889.5 1281L889.8 1295.5L890.1 1269.4L890.5 1295.8L890.8 1283.1L891.1 1298.2L891.4 1276L891.7 1299L892.1 1283.7L892.3 1296.4L892.6 1283.5L893 1301.7L893.3 1280.7L893.6 1297.5L893.9 1278.8L894.2 1297.4L894.5 1278.4L894.9 1295.1L895.3 1273.7L894.8 1289.1L895.1 1251.6L895.5 1251.6L895.9 1289.1L895.6 1294.7L896 1277.4L896.4 1303.3L896.7 1267.4L896.9 1294.5L897.2 1265.1L897.4 1296.4L897.7 1255.9L898 1296.2L898.3 1270L898.7 1301.2L899 1269.4L899.3 1297.3L899.6 1271.9L899.1 1289.3L899.4 1130.3L899.8 1130.3L900.2 1289.3L900 1295.1L900.3 1274.3L900.5 1294.8L900.8 1275.9L901 1305.6L901.3 1277.8L901.7 1299L902 1277.4L902.3 1294.7L902.7 1272.5L903 1294.9L903.3 1266.4L903.7 1297.5L904 1263.3L904.3 1298.8L904.6 1262.1L905 1303.8L905.4 1252.9L904.9 1277.9L905.3 1055L905.7 1055L906 1277.9L905.7 1298.5L906 1247.3L906.2 1299L906.5 1254.6L906.9 1299.9L907.2 1238L907.6 1299L907.9 1241.7L908.3 1299.7L908.6 1266.9L909.1 1297.7L909.4 1272.5L909.6 1298.2L909.9 1279L910.1 1298.2L910.4 1264.3L910.7 1305.4L911 1241L911.3 1299.3L911.6 1211.3L911.9 1298.6L912.2 1165.7L912.5 1298.4L912.8 1165.1L913 1304.4L913.3 1168.4L913.6 1298.4L913.9 1078.1L913.3 1239.1L913.6 1008.7L914 1008.7L914.4 1239.1L914.1 1299.7L914.4 1205.6L914.8 1299.8L915.1 1148.6L915.5 1305.6L915.8 1176.8L916 1298.4L916.3 1207.7L916.8 1297.8L917.1 1237.3L917.3 1297.4L917.6 1276.6L917.9 1295.9L918.2 1296.1L918.5 1302L918.8 1288.7L919.1 1293.1L919.4 1286.5L919.7 1292.6L920 1276.7L920.3 1293.2L920.6 1275.4L920.8 1302L921.2 1273.3L921.5 1293.6L921.8 1273.4L922.1 1298.3L922.4 1276.1L922.6 1298.4L922.9 1265L923.3 1304.6L923.6 1262.4L924.1 1294.8L924.4 1253.5L924.6 1295.5L924.9 1268L924.6 1289L924.9 1197.6L925.3 1197.6L925.7 1289L925.3 1296.4L925.6 1274.7L926 1298.9L926.3 1237.6L926.7 1302.8L927 1277.9L927.3 1297L927.6 1278.9L927.8 1296.8L928.2 1276.5L928.5 1295.7L928.8 1281.4L929.1 1300.4L929.4 1270.2L929.8 1297.6L930.1 1263.5L930.4 1296.6L930.7 1266L930.4 1283.7L930.8 1237.7L931.2 1237.7L931.5 1283.7L931.1 1294.3L931.4 1262.2L931.6 1293.8L931.9 1260.1L932.3 1301.6L932.6 1255.8L932.8 1290.8L933.1 1258.9L933.3 1290.1L933.6 1235.8L933.9 1289.3L934.3 1205L934.6 1289.6L935 1173.4L935.2 1289.1L935.5 1168.7L935.8 1292.4L936.1 1200.5L936.3 1292.1L936.6 1168.3L936.9 1292L937.2 1139.4L937.7 1288.5L938 1091.8L938.2 1288.6L938.5 1066L938.7 1296.7L939 1117.2L939.4 1288.4L939.7 1044.7L940 1286.3L940.3 1055.8L939.7 1170.7L940.1 1021.7L940.4 1021.7L940.8 1170.7L940.6 1286.9L941 1051.7L941.3 1290.2L941.6 1045.9L942 1291.8L942.3 1041.8L942.5 1292.4L942.8 1047.9L943 1292.1L943.3 1047.6L943.7 1297.1L944 1119.3L944.4 1296.5L944.7 1170.9L945 1297.4L945.3 1254.2L945.6 1294.5L946 1265.4L946.2 1294.7L946.5 1277.2L946.7 1294.9L947 1282.8L947.2 1305.5L947.5 1286L947.8 1298.7L948.1 1284.4L948.4 1297.9L948.7 1286.8L949 1297L949.3 1287L949.7 1306L950 1292L950.3 1297.5L950.6 1294.6" fill="none" stroke="#231f20" stroke-width="1.75" stroke-linejoin="bevel"/>
<path d="M159.3 732.6V1365.1H951.8" fill="none" stroke="#231f20" stroke-width="2.2" stroke-linejoin="miter"/>
<path d="M159.3 1335h13.5M159.3 1304.9h7.5M159.3 1274.9h13.5M159.3 1244.8h7.5M159.3 1214.7h13.5M159.3 1184.7h7.5M159.3 1154.6h13.5M159.3 1124.5h7.5M159.3 1094.5h13.5M159.3 1064.4h7.5M159.3 1034.3h13.5M159.3 1004.3h7.5M159.3 974.2h13.5M159.3 944.2h7.5M159.3 914.1h13.5M159.3 884h7.5M159.3 854h13.5M159.3 823.9h7.5M159.3 793.8h13.5M159.3 763.8h7.5M159.3 733.7h13.5M192.9 1365.1v-9M223.2 1365.1v-9M256.7 1365.1v-9M289.2 1365.1v-9M322.8 1365.1v-9M355.3 1365.1v-16M388.8 1365.1v-9M422.4 1365.1v-9M454.9 1365.1v-9M488.4 1365.1v-9M520.9 1365.1v-9M554.5 1365.1v-16M588 1365.1v-9M619.4 1365.1v-9M653 1365.1v-9M685.5 1365.1v-9M719 1365.1v-9M751.5 1365.1v-16M785.1 1365.1v-9M818.6 1365.1v-9M851.1 1365.1v-9M884.7 1365.1v-9M917.1 1365.1v-9M950.7 1365.1v-16" fill="none" stroke="#231f20" stroke-width="1.9"/>
<path d="M1104.6 1300.8L1104.9 1213.1L1105.3 1295.3L1105.6 1182.1L1105.8 1295.7L1106.1 1211.6L1106.4 1297.2L1106.7 1187.9L1107.1 1297.7L1107.4 1198.8L1106.8 1253.4L1107.2 1189L1107.5 1189L1107.9 1253.4L1107.6 1302.1L1107.9 1200.9L1108.2 1299.3L1108.5 1233.5L1108.9 1299.5L1109.2 1220.2L1109.5 1300.4L1109.8 1238.7L1110.2 1308.8L1110.5 1259L1110.9 1304.1L1111.2 1250.9L1110.5 1282.8L1110.9 1194.5L1111.2 1194.5L1111.6 1282.8L1111.4 1305.1L1111.7 1260.4L1112 1305.5L1112.3 1244.1L1112.7 1311.1L1113 1278.7L1113.3 1307.8L1113.6 1285.5L1114 1309L1114.3 1285.3L1114.5 1309.1L1114.8 1289.5L1115.2 1313.9L1115.5 1290.9L1115.8 1305L1116.1 1284.6L1116.3 1303.9L1116.7 1285.7L1117.1 1303.4L1117.4 1282.7L1117.7 1309.8L1118 1283.6L1118.3 1298.4L1118.6 1285.3L1119 1298.7L1119.3 1288.2L1119.6 1300.5L1119.9 1291.9L1120.1 1300.5L1120.4 1285.9L1120.8 1304.8L1121.1 1284.5L1121.4 1301.1L1121.7 1278.9L1122.1 1302.2L1122.4 1280.2L1122.7 1302.5L1123 1275.6L1123.2 1312L1123.5 1258.9L1122.8 1290.6L1123.2 1197L1123.6 1197L1123.9 1290.6L1123.9 1299.8L1124.2 1269.5L1124.4 1299.9L1124.7 1270.8L1125 1300.8L1125.3 1293.5L1125.7 1300.3L1126 1282.6L1126.4 1299.4L1126.8 1289.8L1125.9 1287.9L1126.3 1322.6L1126.7 1322.6L1127 1287.9L1127.1 1307L1127.4 1268.2L1126.5 1287.8L1126.9 1068L1127.3 1068L1127.6 1287.8L1127.6 1299.6L1127.9 1267.1L1128.1 1299.8L1128.4 1267.1L1128.6 1299.5L1129 1267.1L1129.2 1307.5L1129.5 1268.2L1129.7 1300L1130 1272.1L1130.3 1298.9L1130.6 1273.9L1130.9 1300L1131.2 1275.2L1130.6 1291.8L1130.9 1174.4L1131.3 1174.4L1131.7 1291.8L1131.6 1308.3L1131.9 1284.8L1132.1 1300.9L1132.4 1278.3L1132.8 1298.7L1133.1 1282.8L1133.3 1299.3L1133.6 1285.9L1133.9 1299.6L1134.2 1294L1134.5 1299.7L1134.8 1298.6L1135.2 1305.9L1135.5 1300.9L1135.7 1301.7L1136 1259.1L1136.4 1300.3L1136.7 1231.6L1137 1298.3L1137.3 1210.7L1137.5 1296.3L1137.8 1153.3L1138.2 1299L1138.5 1127.8L1138.8 1292.6L1139.1 1089.8L1139.3 1289.9L1139.6 1058L1138.9 1177.5L1139.3 938.3L1139.6 938.3L1140 1177.5L1139.8 1288.4L1140.1 1116.6L1140.4 1292.9L1140.7 1150.5L1141 1293.6L1141.3 1177L1140.4 1170.8L1140.8 961.5L1141.2 961.5L1141.5 1170.8L1141.5 1296.2L1141.8 1149.9L1142.1 1297.9L1142.4 1023.9L1142.8 1307L1143.1 1036.9L1143.4 1302.4L1143.8 1053.2L1144 1303.5L1144.3 1062.8L1144.8 1304.9L1145.1 1097.9L1145.4 1304.1L1145.7 1104.8L1146.1 1304.1L1146.4 1057.3L1146.7 1305.7L1147.1 1194.8L1147.3 1309.3L1147.7 1141.8L1148.1 1305.4L1148.4 1178L1148.8 1305.7L1149.1 1023L1149.3 1303L1149.6 995.4L1148.8 1148.3L1149.1 948.5L1149.5 948.5L1149.9 1148.3L1149.9 1303.1L1150.3 992.3L1150.5 1312.6L1150.8 981.4L1151.2 1304L1151.5 996.5L1151.8 1306.2L1152.2 1033L1152.4 1306.5L1152.7 1062.6L1153.1 1306.5L1153.4 1117.8L1153.6 1305.6L1153.9 1069.3L1154.1 1306.1L1154.5 1087.3L1154 1226.6L1154.4 992.3L1154.7 992.3L1155.1 1226.6L1154.7 1306.9L1155 1037.9L1155.3 1313.4L1155.6 1173.7L1155.8 1304.3L1156.1 1192L1156.5 1304.3L1156.8 1189.4L1157 1307.1L1157.3 1185.6L1157.7 1314.8L1158 1178.7L1158.2 1307.3L1158.5 1175.6L1158.8 1304.7L1159.1 1187.4L1159.5 1303.7L1159.8 1198L1159.3 1253L1159.6 1081.9L1160 1081.9L1160.4 1253L1160 1309.7L1160.3 1131L1160.7 1306.4L1161 1201.9L1161.4 1305.7L1161.7 1206.7L1161.9 1305.5L1162.2 1223.6L1162.6 1305.1L1162.9 1261.9L1163.1 1311.3L1163.4 1259.8L1163.7 1304.1L1164 1263.7L1164.4 1303.6L1164.7 1271.4L1164.9 1302.9L1165.2 1280.9L1165.6 1306.1L1165.9 1291L1166.2 1299.8L1166.5 1296.1L1166.9 1299L1167.2 1294.4L1167.7 1298.4L1168 1284.9L1168.3 1303.9L1168.6 1289L1168.9 1297.7L1169.2 1286.4L1169.5 1298.3L1169.9 1284.5L1170.2 1297.7L1170.5 1283.8L1171 1298.3L1171.3 1283.6L1171.5 1299.8L1171.8 1282.7L1172.2 1301.3L1172.5 1276.1L1172.8 1304.1L1173.1 1270.1L1173.3 1305.5L1173.7 1264.4L1174 1307.4L1174.3 1258.9L1174.7 1308.4L1175 1256.2L1175.2 1309.5L1175.5 1250L1175.8 1310.7L1176.1 1246L1176.3 1314.3L1176.6 1245.9L1176.8 1311.4L1177.1 1258.7L1177.5 1310.5L1177.8 1249.2L1177.5 1284.4L1177.8 1142L1178.2 1142L1178.6 1284.4L1178.2 1310.1L1178.5 1252.8L1178.9 1309.8L1179.2 1252.6L1179.6 1319.3L1179.9 1254.3L1180.1 1310.3L1180.4 1255.4L1180.9 1308.5L1181.2 1268.4L1181.5 1309L1181.9 1254.7L1182.3 1312.8L1182.6 1257.9L1183 1310L1183.3 1235.4L1183.7 1312.9L1184 1181.6L1183.3 1245.9L1183.7 982.2L1184.1 982.2L1184.4 1245.9L1184.4 1312L1184.7 1151.2L1185.1 1319.3L1185.4 1124.4L1185.8 1312.6L1186.1 1155.1L1186.3 1312.7L1186.7 1190.9L1186.9 1313.5L1187.2 1250.6L1187.5 1316.8L1187.8 1270L1188.1 1313.6L1188.4 1255.3L1188.6 1313.8L1189 1297.9L1189.2 1313.7L1189.5 1292.6L1189.9 1312.3L1190.2 1279.7L1190.6 1316.9L1190.9 1257L1191.2 1309.7L1191.5 1217.3L1191.1 1289.2L1191.4 1129.1L1191.8 1129.1L1192.2 1289.2L1191.9 1308.8L1192.2 1175.8L1192.6 1307.7L1192.9 1267.8L1193.3 1307.9L1193.6 1268.4L1194 1310.7L1194.3 1269.2L1194.7 1314.9L1195 1283.6L1195.2 1308.1L1195.5 1288.2L1195.9 1306.9L1196.2 1281.4L1196.4 1306L1196.7 1284.5L1197 1306L1197.3 1285.1L1197.7 1315L1198 1288.6L1198.2 1305.9L1198.5 1276.6L1197.8 1299.7L1198.2 1259.3L1198.6 1259.3L1198.9 1299.7L1198.8 1310.9L1199.1 1263.4L1199.3 1311.4L1199.6 1287.4L1200 1312.5L1200.3 1285L1200.5 1318.5L1200.8 1282.3L1201.2 1315.6L1201.5 1277.8L1201.9 1313.8L1202.2 1271.4L1202.5 1315.2L1202.9 1258.3L1202.5 1288.5L1202.8 1178.5L1203.2 1178.5L1203.6 1288.5L1203.2 1315.4L1203.5 1250.1L1203.9 1317.3L1204.2 1245.6L1204.4 1325.5L1204.7 1237L1205 1317.4L1205.3 1240.4L1205.6 1316.3L1205.9 1239.8L1206.2 1316.5L1206.5 1248.3L1206.8 1316L1207.1 1220.6L1207.3 1322.7L1207.6 1221.9L1206.8 1294.6L1207.2 1208.4L1207.5 1208.4L1207.9 1294.6L1207.9 1319.2L1208.2 1264.8L1208.6 1319.6L1208.9 1282.2L1209.1 1317.4L1209.4 1287.3L1209.8 1318.2L1210.1 1285.9L1210.4 1318.6L1210.7 1288.1L1211 1319.8L1211.3 1287.6L1210.5 1308.1L1210.9 1254.7L1211.2 1254.7L1211.6 1308.1L1211.7 1321.5L1212.1 1290.9L1212.4 1322.4L1212.7 1293.5L1213 1326.8L1213.3 1282.4L1213.7 1322.1L1214 1285.3L1214.3 1322.4L1214.6 1291.9L1214.9 1321.5L1215.2 1293.7L1215.6 1318.1L1215.9 1285.2L1215.1 1306.5L1215.5 1257.8L1215.9 1257.8L1216.2 1306.5L1216.1 1318.2L1216.5 1284.9L1216.7 1318.2L1217 1284L1217.3 1320.7L1217.6 1285.4L1217.8 1319.8L1218.2 1291.4L1217.6 1305.3L1218 1155.3L1218.3 1155.3L1218.7 1305.3L1218.6 1318.6L1218.9 1284.4L1219.2 1319.5L1219.5 1283.6L1219.7 1324L1220 1284.5L1220.4 1319.6L1220.7 1291.4L1220.9 1321.1L1221.2 1281.2L1221.5 1322L1221.8 1263.2L1222.1 1330.8L1222.4 1256.4L1222.8 1320.2L1223.1 1248.7L1223.5 1320.7L1223.8 1281.2L1224.1 1319.3L1224.4 1305L1224.6 1322.5L1224.9 1271.3L1225.2 1313.8L1225.5 1215.3L1225 1266.2L1225.4 1135.2L1225.7 1135.2L1226.1 1266.2L1225.8 1312.5L1226.1 1171.5L1226.5 1312.3L1226.8 1163.6L1227.1 1319.4L1227.5 1185L1227.8 1306.7L1228.1 1187.2L1228.5 1307.1L1228.8 1198.1L1229 1307.6L1229.3 1198L1229.6 1314.6L1229.9 1154L1229.3 1256.1L1229.7 1097.3L1230.1 1097.3L1230.4 1256.1L1230.2 1309.2L1230.5 1199.1L1230.8 1309.5L1231.1 1227.8L1231.3 1308.9L1231.6 1228.2L1232 1309.5L1232.3 1241.1L1232.6 1317.7L1232.9 1233.7L1233.3 1309.8L1233.6 1278.5L1233.9 1313.4L1234.2 1303L1234.4 1312.8L1234.7 1300.9L1235.1 1312.9L1235.4 1284.4L1235.8 1313.2L1236.1 1265.6L1236.5 1316.9L1236.8 1253.9L1236.4 1282.8L1236.8 1200.7L1237.2 1200.7L1237.5 1282.8L1237.1 1314L1237.4 1299.5L1237.7 1311.5L1238 1275.7L1238.4 1312.6L1238.7 1267.6L1239 1316.5L1239.3 1205.7L1239.7 1312.3L1240 1209.4L1240.2 1314.9L1240.5 1220.2L1240.1 1254.9L1240.5 1128.1L1240.9 1128.1L1241.2 1254.9L1240.8 1315.5L1241.1 1184.2L1241.3 1319.1L1241.6 1178.3L1241.9 1313.5L1242.2 1170.4L1242.7 1314L1243 1160.4L1243.3 1317.6L1243.6 1170.5L1244 1318.2L1244.3 1178.9L1244.7 1317L1245 1225.1L1245.3 1317.6L1245.6 1191.5L1244.8 1258.8L1245.1 1091.7L1245.5 1091.7L1245.9 1258.8L1245.9 1315.5L1246.2 1204.3L1246.5 1316.6L1246.8 1203L1247.1 1324.6L1247.4 1212.1L1247.8 1319.1L1248.1 1230.2L1248.4 1316.4L1248.7 1222.2L1249.1 1317.3L1249.4 1240.1L1248.8 1270.1L1249.1 1336.5L1249.5 1336.5L1249.9 1270.1L1249.1 1270.3L1249.4 1131.2L1249.8 1131.2L1250.2 1270.3L1249.7 1326.8L1250 1220.7L1250.3 1321.3L1250.6 1218.5L1251 1319.8L1251.3 1214.7L1251.5 1319.6L1251.8 1237.4L1252.2 1317.7L1252.5 1207.6L1252.8 1319L1253.1 1198.1L1253.3 1318.8L1253.6 1204.5L1253.1 1258.3L1253.5 1132.8L1253.8 1132.8L1254.2 1258.3L1254.1 1319.3L1254.4 1189.6L1254.6 1321.1L1254.9 1176.4L1255.1 1321L1255.4 1171.8L1255.9 1321.4L1256.2 1188.8L1256.6 1317.1L1256.9 1183.5L1257.1 1316.8L1257.4 1190.8L1256.8 1259.9L1257.2 1146.7L1257.5 1146.7L1257.9 1259.9L1257.7 1316.9L1258 1202.1L1258.3 1319.7L1258.6 1225.1L1258.8 1316.9L1259.1 1233.7L1259.3 1317.3L1259.6 1225.6L1259.8 1313.8L1260.1 1241.8L1260.3 1320.4L1260.6 1257.9L1260.9 1312.6L1261.3 1241.3L1261.5 1317.1L1261.8 1227.4L1262.1 1316.1L1262.4 1204.4L1262.8 1318.9L1263.1 1192L1262.7 1252L1263 1148.2L1263.4 1148.2L1263.8 1252L1263.4 1312.7L1263.7 1194.7L1264.2 1313.2L1264.5 1244.8L1264.9 1312.7L1265.2 1242.6L1265.5 1316L1265.8 1189.2L1266.2 1313.4L1266.5 1133.5L1266.8 1312.1L1267.1 1091.5L1267.4 1311.8L1267.7 1122.4L1267.9 1312.2L1268.2 1147.3L1267.6 1228.3L1268 997L1268.3 997L1268.7 1228.3L1268.5 1319.2L1268.8 1168.8L1269.1 1310L1269.4 1195.8L1269.7 1308.9L1270 1180.9L1270.4 1306L1270.7 1186L1271 1306.1L1271.3 1194.1L1271.7 1316.7L1272 1170L1272.2 1311L1272.6 1143.1L1272.7 1310.3L1273.1 1256.7L1273.5 1310L1273.8 1259L1273.2 1207.3L1273.5 997L1273.9 997L1274.3 1207.3L1274.1 1310.3L1274.4 1186.5L1274.7 1311.3L1275 1120L1275.2 1311.9L1275.5 1161.5L1275.7 1319.6L1276 1205L1276.4 1310.9L1276.7 1243.7L1277 1312.8L1277.3 1241.9L1277.7 1313.4L1278 1240.5L1278.4 1312.7L1278.7 1255.8L1278.9 1316.9L1279.2 1243.9L1279.5 1313.6L1279.8 1241.3L1279 1282.1L1279.4 1034L1279.7 1034L1280.1 1282.1L1280 1313.8L1280.3 1285.1L1280.7 1315.5L1281 1295.1L1281.2 1315L1281.5 1281L1281.7 1315.6L1282.1 1239.1L1282.5 1316.8L1282.8 1225.1L1283 1314L1283.3 1216.8L1283.7 1317.1L1284 1206.5L1284.3 1317.2L1284.6 1186.6L1284.8 1313.3L1285.1 1164L1284.6 1242.8L1284.9 1010.2L1285.3 1010.2L1285.7 1242.8L1285.4 1312.7L1285.7 1162.8L1285.9 1314.9L1286.2 1183L1286.5 1322.6L1286.8 1133.1L1287.2 1314.4L1287.5 1123.6L1287.9 1314.3L1288.2 1170.9L1288.5 1313.5L1288.8 1193.5L1289.2 1317.7L1289.5 1206.7L1289.9 1311.4L1290.2 1228.6L1290.5 1310.8L1290.8 1249.8L1291.1 1309.2L1291.4 1253.2L1291.8 1317L1292.1 1231.7L1292.3 1309.2L1292.6 1226.4L1292 1265.9L1292.4 1126.6L1292.7 1126.6L1293.1 1265.9L1292.9 1308.4L1293.2 1210.9L1293.4 1309.1L1293.7 1115.1L1294.1 1308.9L1294.4 1178.3L1293.8 1244.8L1294.2 1094.2L1294.6 1094.2L1294.9 1244.8L1294.7 1317.7L1295 1176.9L1294.6 1235.9L1295 1093.6L1295.4 1093.6L1295.7 1235.9L1295.4 1310.7L1295.7 1159.8L1295.9 1311.8L1296.2 1140.3L1296.5 1312.1L1296.8 1172.4L1297.1 1321.1L1297.4 1154.1L1297.7 1313.6L1298 1235.7" fill="none" stroke="#231f20" stroke-width="1.75" stroke-linejoin="bevel"/>
<path d="M1300.7 1316.7L1301 1228.7L1301.2 1316.8L1301.5 1238.5L1301.9 1320.5L1302.2 1200L1302.5 1317.7L1302.8 1177.5L1302 1250.1L1302.4 1111.8L1302.8 1111.8L1303.1 1250.1L1303 1319.5L1303.4 1141.6L1303.6 1319.9L1303.9 1152.4L1304.3 1320.2L1304.6 1132.4L1305 1317.8L1305.3 1140.8L1305.6 1321.2L1305.9 1153.6L1306.1 1321.1L1306.4 1169.4L1306.7 1318.5L1307 1170.8L1307.3 1325.2L1307.6 1218L1307.3 1257.6L1307.7 1102.8L1308 1102.8L1308.4 1257.6L1308 1321.2L1308.3 1187L1308.7 1322.2L1309 1227L1309.3 1322.3L1309.6 1208L1309.9 1321.9L1310.2 1245.1L1310.6 1325L1310.9 1238.9L1311.1 1318.1L1311.4 1244.9L1311.8 1320.1L1312.1 1263.9L1312.4 1319.9L1312.7 1244.4L1312.9 1325.7L1313.2 1251.5L1312.8 1283.7L1313.2 1150.4L1313.6 1150.4L1313.9 1283.7L1313.5 1320.3L1313.9 1236.2L1314.2 1319.9L1314.5 1247.1L1314.9 1317.7L1315.2 1216.2L1314.7 1278.9L1315.1 1334.9L1315.4 1334.9L1315.8 1278.9L1315.4 1323.1L1315.7 1230.5L1316.1 1320.5L1316.4 1250.9L1316.8 1320.9L1317.1 1230.2L1316.2 1278.8L1316.6 1176L1317 1176L1317.3 1278.8L1317.3 1318.9L1317.6 1255.8L1318 1323.9L1318.3 1240.9L1318.6 1317.8L1318.9 1230.6L1319.1 1317.2L1319.4 1224.2L1319.6 1317.9L1319.9 1214.8L1320.1 1318L1320.5 1229.2L1319.6 1271.2L1320 1161.5L1320.4 1161.5L1320.7 1271.2L1320.7 1317.5L1321 1199.8L1321.4 1318.2L1321.7 1208.7L1321.9 1326.4L1322.2 1298.8L1322.4 1317.4L1322.7 1274.5L1323 1317L1323.3 1266.4L1323.5 1313.5L1323.8 1239.6L1324 1316.4L1324.3 1233.5L1324.7 1312.5L1325 1235.5L1325.3 1314.6L1325.7 1230.5L1325.9 1315.1L1326.2 1228.1L1326.5 1317.1L1326.9 1236.3L1327.2 1312.1L1327.5 1211.3L1327.9 1312.6L1328.2 1213.4L1328.5 1311.3L1328.8 1209.2L1328 1263.2L1328.3 1139.6L1328.7 1139.6L1329.1 1263.2L1329 1311.4L1329.3 1210.8L1329.5 1316.2L1329.8 1201.8L1330.1 1310.6L1330.4 1199.2L1330.6 1310.9L1330.9 1285.8L1331.2 1311.4L1331.5 1247.4" fill="none" stroke="#231f20" stroke-width="1.75" stroke-linejoin="bevel"/>
<path d="M1335.6 1323.7L1335.9 1272.4L1336.1 1316.2L1336.5 1229.9L1335.7 1266.2L1336.1 1101.9L1336.4 1101.9L1336.8 1266.2L1336.8 1316.2L1337.1 1226.7L1337.4 1316.6L1337.8 1209.1L1338.2 1322.9L1338.5 1212.7L1338.8 1313L1339.1 1219.6L1339.3 1312.6L1339.6 1227L1340 1313L1340.3 1236.5L1340.7 1312.1L1341 1251.2L1341.3 1310.5L1341.7 1239.9L1342 1311.3L1342.3 1230.7L1341.9 1273.7L1342.2 1109.6L1342.6 1109.6L1343 1273.7L1342.6 1316L1342.9 1250.3L1343.3 1307.4L1343.6 1219.7L1343.8 1306.1L1344.1 1219.1L1344.4 1306.9L1344.7 1233L1344.9 1306L1345.2 1258.9L1345.5 1306.3L1345.8 1248.5L1346.1 1311.3L1346.4 1270.5L1346.8 1305.3L1347.1 1262.6L1347.5 1304.6L1347.8 1268.3L1348.2 1302.5L1348.5 1271L1348.7 1304.3L1349.1 1262.6L1349.3 1299.3L1349.6 1274.9L1349.3 1290.1L1349.6 1251.6L1350 1251.6L1350.4 1290.1L1349.8 1297.5L1350.1 1275.5L1350.5 1296.5L1350.8 1277.2L1351.1 1297.4L1351.5 1279.8L1351.7 1303.6L1352 1283.1L1352.2 1300.9L1352.6 1294.7L1352.8 1302.7L1353.1 1274.9L1353.4 1303.7L1353.7 1222.9L1354 1314L1354.3 1236.6L1354.7 1308.6L1355 1222.9L1355.4 1308.7L1355.7 1230.4L1356 1307.6L1356.3 1218.2L1356.6 1308.4L1356.9 1164.8L1357.3 1312.1L1357.6 1148L1358 1309L1358.3 1174.7L1358.7 1310.9L1359 1142L1358.2 1233.2L1358.6 1037.4L1358.9 1037.4L1359.3 1233.2L1359.2 1310.4L1359.5 1148.4L1359.9 1314.9L1360.2 1164.5L1360.6 1311.7L1360.9 1147.2L1361.2 1313.6L1361.5 1148.1L1361.8 1313.9L1362.1 1149.1L1362.3 1314.2L1362.7 1201L1363 1313.9L1363.3 1160.2L1363.6 1322.4L1363.9 1166.9L1364.2 1316.1L1364.6 1180.4L1365 1316.5L1365.3 1225.3L1364.7 1266.5L1365.1 1074.1L1365.4 1074.1L1365.8 1266.5L1365.7 1316.1L1366 1232.6L1366.2 1317L1366.5 1237.6L1366.9 1315.1L1367.3 1247.1L1367.5 1318.3L1367.8 1186.9L1368.2 1317L1368.5 1144.7L1368.7 1315.9L1369 1124.5L1369.4 1313.4L1369.7 1138L1370.1 1313.1L1370.4 1148L1369.9 1241.9L1370.3 1076.6L1370.7 1076.6L1371 1241.9L1370.7 1313.6L1371 1173.1L1371.2 1313.4L1371.5 1134.3L1371.8 1314.8L1372.1 1187.6L1372.4 1313.6L1372.7 1198.6L1373 1315.9L1373.3 1209L1373.6 1312.6L1373.9 1229.9L1374.3 1312.5L1374.6 1215.2L1374.9 1312.8L1375.2 1208.9L1375.6 1317.3L1375.9 1186.5L1376.2 1311.6L1376.5 1217.8L1376.9 1309.9L1377.2 1154.5L1376.7 1254.9L1377.1 1137.4L1377.5 1137.4L1377.8 1254.9L1377.5 1308.9L1377.8 1219L1378 1316.5L1378.3 1161.2L1378.7 1310L1379 1192.5L1379.3 1309.7L1379.6 1204L1379.9 1310L1380.3 1212.6L1380.5 1309.5L1380.8 1225.6L1381.2 1309L1381.5 1199.3L1381.8 1314.8L1382.1 1165.6L1382.5 1309.1L1382.8 1115.5L1383.2 1308.8L1383.5 1171.3L1383.7 1309.2L1384.1 1131L1384.5 1314.1L1384.8 1115.6L1384.1 1214L1384.5 1071L1384.9 1071L1385.2 1214L1385 1307L1385.3 1122.3L1385.5 1306.4L1385.9 1118.2L1386.3 1305.9L1386.6 1118.4L1387 1308.9L1387.3 1113.2L1387.7 1306.9L1388 1113.6L1388.3 1306.6L1388.6 1114L1388.9 1310.1L1389.2 1134.2L1389.6 1316L1389.9 1283.9L1390.3 1308.3L1390.6 1255.9L1390.9 1308.8L1391.2 1294L1391.6 1308.8L1391.9 1265.5L1392.2 1309.5L1392.5 1257.9L1392.9 1310.8L1393.2 1205.7L1393.5 1311.6L1393.8 1166.4L1394.1 1311.1L1394.4 1173.7L1394.8 1318.2L1395.1 1150.3L1395.3 1316.6L1395.7 1211.5L1394.9 1253.9L1395.3 1135.2L1395.7 1135.2L1396 1253.9L1396 1315.6L1396.4 1192.4L1396.6 1315.6L1396.9 1200.1L1397.2 1314.9L1397.5 1239.9L1397.8 1312.6L1398.1 1234.8L1398.4 1317.5L1398.8 1202.9L1398.9 1312.4L1399.3 1228.3L1399.7 1311.5L1400 1242.3L1400.2 1307.5L1400.5 1246L1400.2 1259L1400.6 1192L1400.9 1192L1401.3 1259L1400.8 1312.1L1401.1 1281.9L1401.3 1306L1401.6 1208.9L1401.9 1308.3L1402.2 1210.2L1402.6 1308L1402.9 1255.5L1403.1 1308.2L1403.4 1263.6L1403.6 1307.4L1403.9 1265.4L1404.1 1313.5L1404.4 1213.5L1404.6 1308.8L1404.9 1205.5L1405.1 1308.5L1405.5 1189.1L1405.8 1308.5L1406.1 1168.5L1406.3 1317.1L1406.6 1204.9L1407 1309L1407.3 1171.3L1407.6 1310L1407.9 1220.4L1407.3 1263.1L1407.7 1129.1L1408 1129.1L1408.4 1263.1L1408.3 1307.6L1408.6 1224.5L1408.9 1313.6L1409.2 1253.2L1409.6 1307.9L1409.9 1254.1L1410.2 1307L1410.5 1260.3L1410.9 1306.5L1411.2 1262.3L1411.4 1309.9L1411.7 1265.2L1411.9 1308.7L1412.2 1268.7L1412.6 1308.7L1412.9 1274.2L1413.3 1309.1L1413.6 1281.3L1413.9 1311.7L1414.2 1286.4L1414.4 1308.2L1414.7 1283.7L1415.1 1307.2L1415.4 1279.5L1415.8 1305.7L1416.1 1275.4L1416.5 1306L1416.8 1269.5L1417.2 1307.9L1417.5 1260.7L1417.7 1312.7L1418.1 1264.3L1418.4 1308.4L1418.7 1225.2L1418.9 1307.8L1419.2 1189L1419.6 1306.5L1420 1263.5L1420.3 1309.3L1420.6 1266L1420.9 1303.5L1421.2 1268.7L1420.9 1263.9L1421.2 1126.6L1421.6 1126.6L1422 1263.9L1421.6 1303.9L1421.9 1223.7L1422.3 1306.5L1422.6 1223.8L1422.9 1308L1423.2 1268.8L1423.6 1301.9L1423.9 1278.4L1424.2 1300.2L1424.5 1285.8L1424.7 1297.8L1425 1285L1425.4 1298.8L1425.7 1282.2L1426.1 1296.2L1426.4 1279.7L1426.7 1296.5L1427.1 1280.9L1427.3 1297.9L1427.6 1276.8L1428 1300.2L1428.3 1278.2L1428.6 1301.4L1428.9 1279.3L1429.3 1299.7L1429.6 1278.3L1430 1309.4L1430.3 1279.3L1430.5 1301.3L1430.8 1272.5L1431.2 1302.3L1431.5 1250.5L1430.7 1284.5L1431.1 1189.9L1431.5 1189.9L1431.8 1284.5L1431.7 1303.4L1432.1 1260L1432.4 1303.4L1432.7 1251L1433.1 1310.5L1433.4 1237.2L1433.6 1301.8L1434 1254.6L1434.3 1305.1L1434.6 1273.9L1435 1305L1435.3 1281.4L1435.7 1302.8L1436 1280.1L1436.2 1302.3L1436.5 1280.7L1436.7 1309.4L1437 1282.7L1437.4 1302.6L1437.8 1282.2L1438.2 1302.8L1438.5 1280.9L1438.9 1303.5L1439.2 1292.4L1439.4 1307.8L1439.7 1288.4L1440.1 1304.4L1440.4 1279.7L1440.8 1302.5L1441.1 1252L1441.5 1303.5L1441.8 1256.6L1442.1 1304.9L1442.4 1253.8L1442.8 1313.4L1443.1 1249.5L1442.5 1279L1442.8 1104.1L1443.2 1104.1L1443.6 1279L1443.5 1303.9L1443.8 1251.4L1444.2 1300.4L1444.5 1240.4L1444.8 1296.4L1445.1 1251.6L1445.5 1298.3L1445.8 1252.2L1446.2 1291.7L1446.5 1260.7L1446.8 1292.6L1447.2 1269.7L1447.5 1295L1447.8 1278L1448.2 1295.4L1448.5 1276.6L1448.9 1305.7L1449.2 1284.3L1449.5 1296.9L1449.8 1277.9L1450.2 1298L1450.5 1274.4L1450.9 1297.7L1451.2 1271.1L1451.4 1302.7L1451.7 1270.3L1451.9 1299.1L1452.2 1270.8L1452.6 1298.4L1452.9 1252.9L1452.7 1290.4L1453 1236.2L1453.4 1236.2L1453.8 1290.4L1453.3 1299.9L1453.6 1271.9L1453.9 1301.7L1454.2 1273.4L1454.4 1308.7L1454.7 1272.9L1455 1303.5L1455.3 1260.4L1455.6 1303.9L1455.9 1253.8L1455.7 1270.3L1456.1 1063.3L1456.5 1063.3L1456.8 1270.3L1456.3 1305.1L1456.6 1233.3L1457 1305.1L1457.3 1236.2L1457.6 1307.2L1457.9 1196.7L1458.1 1301.1L1458.5 1212.8L1458.8 1302.4L1459.2 1216.3L1459.6 1300.3L1459.9 1261.9L1460.3 1298.7L1460.6 1288.7L1460.9 1306.2L1461.2 1290.6L1461.6 1296.8L1461.9 1291L1462.4 1297.6L1462.7 1263.1L1463 1296L1463.3 1239.2L1463.5 1301.2L1463.8 1183.8L1463.5 1268.8L1463.8 1328.8L1464.2 1328.8L1464.6 1268.8L1464.1 1296.2L1464.4 1233.2L1464.7 1296L1465 1146.6L1464.4 1273.3L1464.8 998.5L1465.1 998.5L1465.5 1273.3L1465.4 1295.6L1465.7 1246.4L1466.1 1297.1L1466.4 1250.1L1466.8 1297.6L1467.1 1261.6L1467.4 1299.3L1467.7 1266.5L1468.1 1303.9L1468.4 1274.9L1468.6 1300.4L1468.9 1282.1L1469.3 1304.7L1469.6 1283.9L1469.9 1305.8L1470.2 1296.8L1470.5 1305.7L1470.8 1290.2L1471.1 1312.2L1471.4 1297.5L1471.7 1309.8L1472 1285.6L1472.3 1310.3L1472.6 1282.1L1472.1 1300.8L1472.5 1270.1L1472.8 1270.1L1473.2 1300.8L1473 1311.3L1473.3 1278.6L1473.6 1311L1473.9 1291.3L1474.2 1317.4L1474.5 1291.1L1474.9 1311.2L1475.2 1280.8L1475.6 1311.7L1475.9 1254.7L1476.2 1310.9L1476.5 1231.1L1476.9 1314.1L1477.2 1210.6L1477.6 1308.9L1477.9 1221.7L1478.3 1310.7L1478.6 1247.9L1478.3 1284.3L1478.6 1193L1479 1193L1479.4 1284.3L1478.9 1309.8L1479.2 1257.2L1479.5 1307.2L1479.8 1261.7L1480.1 1313.5L1480.4 1271.3L1480.7 1305.4L1481 1279L1481.2 1305L1481.5 1274.5L1481.7 1304.4L1482 1278.5L1482.4 1312.7L1482.7 1264L1483.1 1306.1L1483.4 1224.4L1483.6 1303.4L1484 1193.5L1484.3 1303.4L1484.6 1190.4L1484.9 1308.7L1485.2 1188.1L1485.6 1300.9L1485.9 1117.2L1485.3 1247.1L1485.6 914.3L1486 914.3L1486.4 1247.1L1486.1 1301.3L1486.4 1211.5L1486.7 1300.9L1487 1217.1L1487.3 1308.3L1487.6 1177.9L1488 1300.9L1488.3 1228.3L1488.6 1303.3L1488.9 1261.6L1489.2 1302.3L1489.5 1281.8L1489.8 1300.4L1490.1 1283" fill="none" stroke="#231f20" stroke-width="1.75" stroke-linejoin="bevel"/>
<path d="M1493.6 1308L1493.9 1204.3L1493.3 1251.2L1493.6 1096.4L1494 1096.4L1494.4 1251.2L1494.3 1297.8L1494.6 1263.8L1494.9 1299.6L1495.2 1212.8L1495.6 1302.4L1495.9 1260.2L1496.3 1307.6L1496.6 1214.7L1497 1305.4L1497.3 1265L1497.7 1306.1L1498 1282.1L1498.4 1305.9L1498.7 1281.9L1499 1313.1L1499.3 1287L1499.5 1305.3L1499.8 1278.6L1500.1 1304.9L1500.4 1294.4L1499.8 1291L1500.1 1220.7L1500.5 1220.7L1500.9 1291L1500.8 1304.5L1501.1 1281.3L1500.7 1285.7L1501.1 1321L1501.4 1321L1501.8 1285.7L1501.4 1313.5L1501.7 1279.6L1502.1 1306.3L1502.4 1257.7L1502.6 1306.6L1502.9 1237.4L1503.1 1304.2L1503.4 1178.4L1502.8 1268.6L1503.2 1110.2L1503.6 1110.2L1503.9 1268.6L1503.8 1305.1L1504.1 1241.4L1504.4 1312.8L1504.8 1221.4L1505.1 1305.1L1505.4 1193.2L1505.8 1302.7L1506.1 1202L1506.4 1303.5L1506.8 1217.8L1506.2 1268.6L1506.6 1136.8L1507 1136.8L1507.3 1268.6L1507.1 1310.3L1507.4 1171.4L1507.7 1304.9L1508 1245.9L1508.3 1306.4L1508.6 1264L1508.9 1306.6L1509.2 1254.5L1509.5 1303.8L1509.8 1254.7L1510.1 1304.1L1510.4 1274.4L1509.6 1284L1510 1243.9L1510.4 1243.9L1510.7 1284L1510.8 1306.7L1511.1 1288.1L1511.5 1306.8L1511.8 1290.8L1512.1 1306.6L1512.4 1263.5L1512.7 1314.4L1513 1264.2L1512.7 1288.8L1513.1 1205.3L1513.5 1205.3L1513.8 1288.8L1513.4 1303.1L1513.7 1273.4L1514.1 1304L1514.4 1275.4L1514.8 1304.7L1515.1 1273.2L1515.5 1305.1L1515.8 1264.7L1516 1309.7L1516.3 1258.6L1516.6 1306.6L1516.9 1233.1L1517.2 1306.9L1517.5 1167.8L1517.8 1307.3L1518.1 1111.1L1518.4 1307.1L1518.7 976.3L1518.3 1195.6L1518.6 875.1L1519 875.1L1519.4 1195.6L1519 1307.1L1519.3 1027L1519.5 1310.6L1519.8 999.9L1520.1 1306L1520.4 1024.7L1520.7 1306.1L1521 1051.5L1521.3 1306.3L1521.6 1147.6L1522 1311.4L1522.3 1133.5L1522.7 1304L1523 1176.6L1522.6 1207.3L1523 987.1L1523.3 987.1L1523.7 1207.3L1523.2 1303.2L1523.5 1106.9L1523.9 1306.1L1524.2 1163.1L1523.8 1251.6L1524.2 1322.6L1524.6 1322.6L1524.9 1251.6L1524.5 1306.1L1524.8 1193L1525 1311.9L1525.4 1192.9L1525.5 1305.3L1525.9 1167.1L1526.2 1305.2L1526.5 1142.9L1526.9 1305L1527.2 1113.2L1527.6 1313.6L1527.9 1085.3L1528.3 1306L1528.6 1069.5L1528.9 1304.4L1529.2 1058.8L1529.6 1304.4L1529.9 1070.3L1529.1 1191.4L1529.4 1038.6L1529.8 1038.6L1530.2 1191.4L1530.3 1305L1530.6 1072.3L1530.9 1304.8L1531.3 1069.5L1531.5 1306.3L1531.8 1071.1L1532.2 1306.3L1532.5 1115.1L1532.8 1311.7L1533.1 1078.2L1532.5 1203L1532.8 1041.7L1533.2 1041.7L1533.6 1203L1533.4 1305.1L1533.7 1130.5L1534.1 1303L1534.5 1109.3L1534.7 1303.5L1535 1119.9L1535.2 1303.2L1535.5 1137.6L1535.9 1306.2L1536.2 1183.9L1536.6 1309.5L1536.9 1246.3L1537.1 1303.9L1537.4 1251L1537.6 1304.5L1537.9 1246.5L1538.3 1303.2L1538.6 1254.5L1538.8 1310.5L1539.1 1235.8L1539.4 1305.2L1539.7 1210L1539 1260.7L1539.3 1081.9L1539.7 1081.9L1540.1 1260.7L1540 1306L1540.3 1197.6L1540.7 1306.4L1541 1165.2L1541.3 1307.2L1541.6 1164L1542 1306.5L1542.3 1212.2L1542.7 1306L1543 1261.8L1543.4 1307.1L1543.7 1275.6L1544.1 1312.2L1544.4 1286.7L1544.7 1309.3L1545.1 1287.5L1545.5 1308.8L1545.8 1292.7L1546.2 1310.7L1546.5 1284.6L1546.8 1311.3L1547.1 1283.9L1547.5 1307.6L1547.8 1283.4L1548.1 1306.9L1548.4 1277.4L1548.7 1310L1549 1266.1L1549.2 1315.7L1549.5 1259.2L1549.8 1310.3L1550.1 1242.3L1550.3 1309.3L1550.7 1195.8L1551 1311.4L1551.3 1146.4L1551.6 1310.9L1551.9 1100.4L1552.1 1315.8L1552.4 1112.7L1552.7 1309.4L1553 1104.1L1553.4 1309.3L1553.7 1130.3L1553.2 1214.9L1553.5 955.3L1553.9 955.3L1554.3 1214.9L1553.9 1306.7L1554.2 1115.7L1554.6 1313.8L1554.9 1118.8L1555.2 1307.4L1555.5 1244L1555.8 1307.3L1556.1 1198.2L1556.4 1309L1556.7 1200.6L1556.9 1316.1L1557.2 1122.9L1556.9 1217.4L1557.2 1088L1557.6 1088L1558 1217.4L1557.4 1306.3L1557.7 1123.4L1558 1306.8L1558.3 1148.6L1558.6 1306.9L1558.9 1116.4L1559.1 1307.1L1559.4 1164.9L1559.7 1311.3L1560 1237.1L1560.3 1309.7L1560.7 1207.8L1560.3 1231.5L1560.6 1100.4L1561 1100.4L1561.4 1231.5L1560.9 1309.7L1561.2 1228.1L1561.5 1307.7L1561.8 1168.8L1562.1 1307.4L1562.4 1168.2L1562.8 1313.6L1563.1 1187.5L1563.4 1308.9L1563.7 1209.8L1564 1308L1564.4 1243.2L1564.6 1309L1564.9 1253.8L1565.1 1317.8L1565.4 1259.8L1565.9 1309L1566.2 1267.2L1565.8 1293.6L1566.2 1011.8L1566.5 1011.8L1566.9 1293.6L1566.4 1309.2L1566.8 1279.7L1567.1 1308.5L1567.4 1278.9L1567.6 1315.3L1568 1280.4L1568.3 1310.8L1568.6 1285.9L1569 1311L1569.3 1284L1569.6 1307.1L1569.9 1285L1570.2 1311.2L1570.5 1287.6L1570.8 1309.9L1571.1 1285.2L1571.3 1310.5L1571.6 1292.8L1571.9 1306.7L1572.2 1287.6L1572 1301.1L1572.4 1236.2L1572.7 1236.2L1573.1 1301.1L1572.6 1309.7L1572.9 1288.5" fill="none" stroke="#231f20" stroke-width="1.75" stroke-linejoin="bevel"/>
<path d="M1576.4 1310.3L1576.7 1274.1L1577 1307.1L1577.3 1277.6L1577.7 1307.9L1578 1270.2L1577.2 1294.2L1577.6 1170.4L1578 1170.4L1578.3 1294.2L1578.2 1315.8L1578.5 1252.7L1578.7 1310.1L1579 1270.2L1579.3 1310.6L1579.6 1270L1580 1308.4L1580.3 1275.1L1580.5 1317.6L1580.9 1279.5L1581 1310.4L1581.4 1282.4L1581.6 1311.5L1581.9 1283.9L1582.3 1312.4L1582.6 1274.5L1582.8 1319.5L1583.1 1269.6L1583.5 1311L1583.8 1257.1L1584 1311.3L1584.3 1255.9L1584.5 1310.4L1584.8 1258.9L1585.2 1311.2L1585.5 1259.8L1585.8 1312L1586.1 1263.7L1586.3 1310L1586.6 1260.8L1587 1312.9L1587.3 1276.1L1586.8 1289.3L1587.2 1213L1587.5 1213L1587.9 1289.3L1587.5 1310.5L1587.8 1260.9L1588.2 1310.5L1588.5 1260.9L1588.7 1309.8L1589 1294L1589.2 1309L1589.5 1288.9L1589.8 1312.4L1590.1 1294.1L1590.4 1309.5L1590.7 1252.6L1591 1309L1591.3 1248L1591.6 1307.8L1591.9 1252.1L1591.4 1277.4L1591.8 1195.4L1592.2 1195.4L1592.5 1277.4L1592.3 1313.5L1592.6 1234L1593 1305.7L1593.3 1238.1L1593.7 1304.9L1594 1226.7L1594.3 1306.4L1594.6 1234.3L1595 1307.1L1595.3 1249.3L1595.7 1311L1596 1265L1596.4 1305.5L1596.8 1273L1597.1 1305.1L1597.5 1277.4L1597.9 1306.9L1598.2 1281.8L1598.6 1312.3L1598.9 1288.9L1599.2 1306.6L1599.5 1283.7L1599.9 1307.6L1600.2 1282L1600.5 1312.2L1600.8 1280.5L1601 1312.6L1601.3 1279.5L1601.7 1311.7L1602 1270.9L1602.2 1311.9L1602.5 1265.2L1602.8 1321.5L1603.2 1257.4L1603.6 1312.8L1603.9 1229L1604.1 1314.6L1604.4 1199.3L1604.8 1317.3L1605.1 1172.2L1605.3 1318L1605.7 1183.9L1605.9 1325.7L1606.2 1200.2L1606.6 1320.4L1606.9 1210.4L1606.2 1268L1606.6 1082.8L1607 1082.8L1607.3 1268L1607.4 1316.5L1607.7 1238.6L1607.9 1315.1L1608.2 1228.3L1608.4 1323.6L1608.7 1268.7L1609 1314.7L1609.3 1282.5L1609.6 1316.5L1609.9 1275.1L1610.1 1316.7L1610.4 1247.8L1610.8 1316.4L1611.1 1245.8L1611.3 1325.7L1611.7 1261L1612 1314.8L1612.4 1305.4L1612.7 1315.2L1613 1289.8L1613.3 1315.2L1613.6 1295.6L1613.8 1322.8L1614.1 1213.8L1614.3 1316.1L1614.6 1257.3L1615 1317.4L1615.3 1259.9L1614.6 1291.5L1614.9 1175.1L1615.3 1175.1L1615.7 1291.5L1615.6 1316.8L1615.9 1261.3L1616.1 1315.1L1616.4 1265.3L1616.7 1316L1617 1263.8L1617.3 1317.1L1617.6 1260.3L1617.9 1324.2L1618.2 1262.1L1618.6 1317.4L1618.9 1222.1L1619.3 1317.7L1619.6 1268.8L1618.9 1295.6L1619.3 1192L1619.6 1192L1620 1295.6L1619.9 1318.2L1620.2 1264.9L1620.6 1324.2L1620.9 1273.9L1621.2 1315.9L1621.5 1272.6L1621.8 1315.4L1622.1 1269.2L1622.4 1316.2L1622.7 1271.1L1623 1317.1L1623.3 1260.4L1623.6 1320.8L1623.9 1255.6L1624.3 1316.4L1624.6 1256.5L1624.9 1316.9L1625.2 1246.8L1625.6 1316.3L1625.9 1247.2L1625.1 1283.3L1625.4 1333.4L1625.8 1333.4L1626.2 1283.3L1626.2 1321.8L1626.5 1287.8L1625.7 1281L1626.1 1173.5L1626.4 1173.5L1626.8 1281L1626.8 1315L1627.1 1305.9L1627.4 1314.2L1627.8 1277.6L1628.1 1315.3L1628.4 1225.1L1628.8 1315.6L1629.1 1216.1L1629.4 1315.2L1629.7 1211.8L1630 1319.2L1630.3 1166.7L1629.7 1261.9L1630.1 1149.1L1630.4 1149.1L1630.8 1261.9L1630.6 1317.8L1630.9 1155.3L1631.3 1317.7L1631.6 1214.9L1632 1314.8L1632.3 1206.1L1632.6 1315.5L1632.9 1181L1633.1 1316.9L1633.4 1219.5L1633.7 1317L1634 1239.6L1634.3 1316.5L1634.6 1248.1L1634.9 1324.3L1635.2 1264.1L1635.4 1318.7L1635.8 1240.4L1636 1318.9L1636.3 1228.3L1636.6 1318.4L1636.9 1216L1636.2 1271.8L1636.5 1168.3L1636.9 1168.3L1637.3 1271.8L1637.3 1319L1637.6 1215.9L1637.9 1319.3L1638.2 1185.7L1638.6 1320.2L1638.9 1201.3L1639.3 1328.2L1639.6 1206.9L1640 1318.1L1640.3 1236.2L1640.5 1318.6L1640.8 1219.9L1640.2 1272.9L1640.6 1194.5L1640.9 1194.5L1641.3 1272.9L1641.1 1316.8L1641.4 1234L1641.7 1317.1L1642 1244.7L1642.2 1318.5L1642.6 1238.8L1642.9 1323.5L1643.2 1227L1642.7 1267.8L1643 1018.6L1643.4 1018.6L1643.8 1267.8L1643.5 1318.5L1643.8 1090.2L1644.1 1319L1644.4 1179.3L1644.7 1322.3L1645 1152.5L1645.2 1322.3L1645.6 1160.3L1645.9 1322.6L1646.3 1167L1646.5 1318.6L1646.8 1183.2L1647.2 1321.7L1647.5 1178.4L1647.8 1321.2L1648.1 1191.5L1648.3 1326.7L1648.6 1193.2L1648.9 1320.2L1649.2 1202.3L1649.4 1320.1L1649.8 1213.7L1649.1 1269.8L1649.5 1174.4L1649.9 1174.4L1650.2 1269.8L1650.1 1318.7L1650.4 1218.3L1650.6 1328.4L1650.9 1252.9L1651.2 1315.9L1651.5 1242.7L1651.7 1315.8L1652 1240.5L1652.3 1315.1L1652.7 1247.9L1652.9 1321.6L1653.2 1244.8L1653.4 1315.2L1653.7 1264.4L1654 1315.4L1654.3 1270.2L1653.5 1290.3L1653.8 1202.2L1654.2 1202.2L1654.6 1290.3L1654.5 1315.1L1654.8 1259.5L1655 1316.6L1655.3 1264.1L1655.6 1324.2L1655.9 1263.1L1656.1 1317.4L1656.4 1268.5L1656.6 1314.9L1656.9 1269.2L1657.2 1314.5L1657.5 1295.2L1657.9 1323.1L1658.2 1304.7L1658.6 1315.4L1658.9 1303.2L1659.2 1317L1659.5 1252.2L1659 1288.2L1659.4 1230L1659.7 1230L1660.1 1288.2L1660 1317.4L1660.3 1256.1L1660.6 1314.7L1660.9 1257.6L1661.2 1319L1661.5 1249.7L1661.7 1315.1L1662 1248.5L1661.2 1286.7L1661.5 1334.9L1661.9 1334.9L1662.3 1286.7L1662.4 1314.9L1662.7 1239.6L1662.9 1317.9L1663.2 1243.1L1663.4 1317.4L1663.8 1225.6L1663 1273L1663.4 1122.9L1663.8 1122.9L1664.1 1273L1664.1 1316.9L1664.4 1189.2L1664.7 1317.2L1665 1215L1665.2 1316.4L1665.5 1199.6L1665.9 1325.5L1666.2 1201.3L1666.4 1318.7L1666.7 1208.3L1667.1 1317.5L1667.4 1222.4L1667 1275L1667.4 1174.4L1667.8 1174.4L1668.1 1275L1667.7 1316.6L1668.1 1211.6L1668.3 1315.4L1668.6 1236.4L1668.8 1319L1669.1 1251.8L1669.5 1311.1L1669.8 1254.4L1670.1 1310.5L1670.4 1250.3L1670.8 1311L1671.1 1247.4L1671.5 1309.9L1671.8 1256.4L1672.1 1313L1672.5 1243.1L1672.7 1307.5L1673 1213.7L1673.2 1307.1L1673.5 1220.2L1672.9 1266L1673.3 1152.8L1673.6 1152.8L1674 1266L1673.7 1306.5L1674 1226.2L1674.3 1307.8L1674.6 1203.1L1675 1310.3L1675.3 1228.2L1675.7 1310L1676 1144L1676.4 1311.1L1676.7 1073.7L1677 1312L1677.3 1074.7L1677.7 1311.5L1678 1091.1L1677.4 1196.9L1677.8 972.9L1678.1 972.9L1678.5 1196.9L1678.3 1318.7L1678.7 1075.4L1678.9 1310.3L1679.2 1103.5L1679.6 1312.7L1679.9 1091.4L1680.3 1312.9L1680.7 1165.9L1680.9 1319.8L1681.2 1211.6L1681.4 1314.1L1681.7 1233.7L1681.9 1314.5L1682.3 1247.2L1682.5 1313.5L1682.8 1260.7L1683.1 1321.5L1683.4 1237.7L1683.7 1312.6L1684 1196.1L1684.4 1312.6L1684.7 1167.6L1685 1310L1685.4 1166L1685.8 1313.4L1686.1 1164.2L1686.5 1312.7L1686.8 1162.4L1687.1 1312.3L1687.4 1161.8L1687.6 1310.3L1687.9 1179.5L1688.2 1310.3L1688.5 1161.1L1688.9 1320.4L1689.2 1160.7L1689.4 1311.5L1689.7 1176.8L1690.1 1309.6L1690.4 1154.5L1690.8 1310L1691.1 1149.4L1691.4 1317.9L1691.7 1151.4L1692.1 1311.4L1692.4 1125.4L1692.8 1313.2L1693.1 1107.2L1693.5 1313.2L1693.8 1133.1L1694 1313.1L1694.3 1131.8L1694.6 1318L1694.9 1100.7L1694.4 1232.6L1694.8 1099.4L1695.1 1099.4L1695.5 1232.6L1695.2 1313.3L1695.5 1167.9L1695.9 1312.5L1696.2 1155.4L1696.4 1312.7L1696.7 1174.7L1697 1321.7L1697.3 1213.6L1697.5 1312.4L1697.8 1198.6L1698.1 1311.9L1698.5 1190.8L1698.7 1312.3L1699 1201L1699.2 1309.9L1699.5 1224.2L1699.7 1309.9L1700 1226L1700.3 1309.6L1700.7 1252.4L1700.9 1322.8L1701.3 1242.5L1701.6 1313L1701.9 1249L1702.2 1311.3L1702.5 1250.7L1702.9 1311.8L1703.2 1247.5L1703.5 1318.7L1703.8 1261.4L1704.2 1310.4L1704.5 1269.5L1704.7 1309.6L1705 1262.3L1705.4 1309.7L1705.7 1243.2L1706.1 1310L1706.4 1119.2L1706.7 1318.6L1707 1110.3L1707.2 1312.6L1707.5 1100.8L1707.8 1311.8L1708.1 1117.2L1708.3 1311.9L1708.6 1086L1709 1312.4L1709.3 1143.3L1709.6 1310.5L1709.9 1265.9L1710.1 1310.1L1710.4 1281.2L1709.8 1216.4L1710.2 1065.5L1710.6 1065.5L1710.9 1216.4L1710.8 1310.8L1711.1 1226.5L1711.4 1315.5L1711.8 1125.7L1712 1312.4L1712.3 1134.3L1712.5 1309.9L1712.8 1141L1713.1 1310.8L1713.4 1150.5L1713.6 1313.6L1713.9 1159.4L1714.1 1317.2L1714.4 1170.4L1714.7 1313.9L1715 1182.9L1715.3 1310.1L1715.6 1224.1L1715.8 1310.3L1716.1 1217.8L1716.4 1316L1716.7 1229.8L1716.9 1310.5L1717.2 1225.4L1717.4 1308.8L1717.7 1233L1718.1 1309.3L1718.4 1262.3L1718.8 1311.9L1719.1 1226.8L1719.5 1312.3L1719.8 1239.7L1720.1 1318.1L1720.4 1194.9L1720.6 1310.6L1720.9 1184.6L1721.1 1310.6L1721.5 1186L1721.8 1309.8L1722.1 1207.7L1722.4 1309.2L1722.7 1152.6L1722.5 1241L1722.8 1086.5L1723.2 1086.5L1723.6 1241L1723 1310.6L1723.4 1173.3L1723.6 1311.3L1723.9 1157.3L1724.2 1312.2L1724.5 1157L1724.7 1319.5L1725 1149.1L1725.3 1310.2L1725.6 1151.3L1725.9 1310.7L1726.3 1157.4L1726.6 1311.8L1726.9 1193.5L1727.3 1311.7L1727.6 1166.1L1728 1312.5L1728.3 1166.9L1728.7 1316L1729 1162.6L1729.3 1308.9L1729.6 1172.9L1729 1244L1729.3 1130.3L1729.7 1130.3L1730.1 1244L1729.9 1308.6L1730.2 1204.3L1730.4 1310.5L1730.7 1189.6L1730.9 1314.6L1731.2 1198.6L1730.8 1245.1L1731.2 1325.7L1731.5 1325.7L1731.9 1245.1L1731.6 1307.9L1731.9 1179L1732.3 1307.7L1732.6 1206.9L1732.8 1307.8L1733.1 1215.4L1733.4 1308.2L1733.7 1232.6L1734 1308.3L1734.3 1242.1L1734.7 1311.4L1735 1248.1L1735.4 1310.7L1735.7 1260.1L1736 1310.2L1736.3 1257.1L1736.6 1311.1L1736.9 1271.5L1736.4 1289.5L1736.7 1236.2L1737.1 1236.2L1737.5 1289.5L1737.3 1311.8L1737.7 1262.8L1737.9 1308.9L1738.3 1265.7L1738.6 1311.4L1738.9 1265.3L1739.2 1311.2L1739.5 1232.8L1739.9 1311.3L1740.2 1236.8L1740.5 1312.2L1740.8 1190.3L1741.1 1312.4L1741.4 1168L1741.7 1312.2L1742 1147.8L1742.4 1315.2L1742.7 1135.2L1743 1308.9L1743.4 1122.8L1743.6 1309.6L1743.9 1125.9L1744.2 1309.7L1744.6 1134.7L1744.8 1309.5L1745.1 1152.4L1745.3 1312.4L1745.6 1141.4L1745 1225.1L1745.4 1107.2L1745.7 1107.2L1746.1 1225.1L1745.9 1308.2L1746.2 1148.1L1746.4 1310.6L1746.7 1134.3L1747.1 1310.8L1747.4 1137L1747.7 1310.8L1748 1166.5L1748.3 1309.9L1748.6 1163.7L1747.8 1241.6L1748.2 1338L1748.5 1338L1748.9 1241.6L1748.9 1309.4L1749.2 1181.2L1749.4 1312.4L1749.7 1195L1750.2 1310.5L1750.5 1203.2L1750.8 1310.1L1751.1 1210.1L1751.4 1309.9L1751.7 1237.4L1752.1 1316.6L1752.4 1235.3L1752.6 1305.7L1752.9 1226.1L1753.3 1306L1753.6 1208.6L1753.8 1305.4L1754.1 1214.1L1753.6 1259.3L1754 1112.7L1754.4 1112.7L1754.7 1259.3L1754.4 1305.1L1754.7 1217.5L1755 1310.3L1755.3 1219.8L1755.7 1306.6L1756 1206.2L1756.4 1307.7L1756.7 1214.7L1757 1306.5L1757.3 1238.2L1757.6 1306.6L1757.9 1278.1L1758.1 1311.4L1758.4 1263.1L1758.6 1304.1L1758.9 1243.8L1759.3 1302.9L1759.6 1228.1L1759.9 1303L1760.3 1229.9L1760.6 1304.3L1760.9 1217L1761.2 1304.9L1761.5 1212.2L1761.8 1304.7L1762.1 1215.5L1762.4 1304.4L1762.7 1219.4L1763.1 1303.5L1763.4 1211.9L1763.7 1308.1L1764.1 1220.2L1763.2 1263.4L1763.6 1206.9L1763.9 1206.9L1764.3 1263.4L1763.8 1263.7L1764.2 1325.7L1764.6 1325.7L1764.9 1263.7L1764.5 1304.4L1764.8 1222L1765.1 1304.4L1765.4 1216.8L1765.7 1305.2L1766 1212.4L1766.3 1315.1L1766.6 1236.6L1766.3 1266.3L1766.7 1143.6L1767 1143.6L1767.4 1266.3L1767 1305.2L1767.3 1189.3L1767.6 1305.3L1767.9 1240.4L1768.3 1305.4L1768.6 1223L1769 1312.7L1769.3 1234.8L1769.6 1304.5L1769.9 1263L1769.4 1287.1L1769.8 1322.6L1770.1 1322.6L1770.5 1287.1L1770.3 1304.7L1770.6 1271.7L1770.9 1302.7L1771.2 1282.5L1771.5 1302.4L1771.8 1264L1772.2 1309.8L1772.5 1237.6L1772.2 1272.4L1772.5 1179.1L1772.9 1179.1L1773.3 1272.4L1773 1306.3L1773.3 1237.6L1773.6 1306.6L1773.9 1217.1L1774.3 1306.4L1774.6 1200.8L1775 1313.3L1775.3 1187.9L1775.7 1304.4L1776 1188.5L1776.4 1302.5L1776.7 1192.3L1776.2 1253.9L1776.5 1072.6L1776.9 1072.6L1777.3 1253.9L1777 1303L1777.3 1197.4L1777.7 1308.4L1778 1171L1778.3 1302.9L1778.6 1206L1779 1306.4L1779.3 1206.1L1779.6 1305.9L1779.9 1207.2L1780.2 1303.2L1780.5 1233L1779.9 1260.9L1780.3 1069.5L1780.6 1069.5L1781 1260.9L1781 1307.8L1781.3 1212L1781.7 1303.3L1782 1264.6L1782.3 1303.3L1782.6 1268.2L1783 1305.7L1783.3 1265.9L1783.5 1306L1783.8 1078.9L1784.1 1305.8L1784.4 1052.4L1784.7 1308.7L1785 1090.9L1785.3 1305.7L1785.6 1065.2L1784.8 1219.2L1785.2 1016.4L1785.6 1016.4L1785.9 1219.2L1785.9 1305.8L1786.2 1200.9L1786.5 1304.3L1786.8 1185.8L1787.2 1313.5L1787.5 1217.6L1787.7 1303.8L1788 1229.2L1788.2 1302.8L1788.5 1247L1788.7 1303L1789 1257.2L1789.2 1311.4L1789.5 1295.9L1789.7 1304.3L1790.1 1296.6L1790.5 1303.6L1790.8 1300.2L1791.1 1303.9L1791.4 1273L1791.6 1307.6L1791.9 1274.1L1792.2 1303.5L1792.5 1266.8L1791.9 1289.1L1792.3 1177.5L1792.6 1177.5L1793 1289.1L1792.8 1305.5L1793.1 1206.1L1793.3 1305.2L1793.6 1239.2L1794 1306.9L1794.3 1261.3L1794.7 1303.4L1795 1258.7L1795.2 1303.3L1795.5 1256.9L1795.9 1305.3L1796.3 1263L1796.6 1304.2L1796.9 1247L1797.2 1308.4L1797.5 1247.9L1797.9 1306.3L1798.2 1237.8L1798.6 1305.8L1798.9 1230.5L1799.3 1306.7L1799.6 1243.2L1800 1306.7L1800.3 1237.1L1800.5 1304.8L1800.8 1190.2L1801 1304.6L1801.4 1234.4L1800.9 1276.7L1801.2 1155.9L1801.6 1155.9L1802 1276.7L1801.6 1304.9L1801.9 1240.8L1802.2 1304L1802.5 1239.2L1802.9 1304.1L1803.3 1245.5L1803.5 1305.9L1803.8 1260.6L1804.2 1312.8L1804.5 1258.2L1804.7 1307.9L1805 1272.7L1805.4 1308.3L1805.7 1260.7L1805.9 1307.4L1806.2 1269.9L1806.5 1307.4L1806.8 1257.8L1807.2 1304.4L1807.5 1255.8L1808 1304.3L1808.3 1253.3L1808.5 1305.2L1808.8 1248.8L1809 1305L1809.3 1245.4L1808.9 1277.8L1809.3 1170.7L1809.6 1170.7L1810 1277.8L1809.7 1304.9L1810 1232.5L1809.5 1275.6L1809.9 1319.5L1810.2 1319.5L1810.6 1275.6L1810.4 1305.2L1810.7 1240.8L1811 1304.7L1811.3 1232.1L1811.6 1304.5L1811.9 1216.9L1812.1 1304.3L1812.4 1196L1812.8 1304.8L1813.1 1172.2L1813.4 1307.7L1813.7 1179.5L1814.1 1302.7L1814.4 1282.2L1813.8 1259.7L1814.2 1114.9L1814.6 1114.9L1814.9 1259.7L1814.6 1301.5L1814.9 1266L1815.2 1304.5L1815.5 1285.1L1815.9 1307.3L1816.2 1263.1L1816.4 1300.1L1816.8 1291.2L1817 1300.6L1817.3 1286.7L1817.6 1302.1L1818 1295.5L1818.1 1311.4L1818.5 1280.6L1818.7 1302L1819 1284.9L1819.2 1300.9L1819.5 1276.8L1819.8 1301L1820.1 1272.5L1820.5 1303.3L1820.8 1274.2L1821 1297L1821.3 1273.9L1820.9 1290.9L1821.3 1257.8L1821.7 1257.8L1822 1290.9L1821.6 1301L1821.9 1267.1L1822.3 1300.7L1822.6 1261.4L1822.9 1307.6L1823.2 1281.3L1822.8 1293.2L1823.2 1242.3L1823.5 1242.3L1823.9 1293.2L1823.4 1297.4L1823.7 1280.5L1823.9 1296.7L1824.2 1283.2L1824.5 1295.6L1824.8 1280.1L1825.1 1298.6L1825.4 1286.4L1825.7 1293.8L1826 1288.1L1826.4 1293.3L1826.7 1290.4L1826.2 1296.3L1826.5 1245.4L1826.9 1245.4L1827.3 1296.3L1826.9 1291.8L1827.3 1291.7L1827.5 1292.5L1827.9 1293.8L1828.2 1303L1828.5 1294.8L1828.8 1296.9L1829.1 1294.2L1829.5 1299.4L1829.8 1292.7L1830.2 1301.9L1830.5 1294.4L1830.2 1300.9L1830.6 1240.8L1830.9 1240.8L1831.3 1300.9L1830.8 1304.6L1831.1 1291L1831.4 1302.3L1831.7 1289.5L1832 1304.2L1832.4 1289.9L1832.7 1305.4L1833 1288.8L1833.4 1303.9L1833.7 1288.6L1834.1 1308.9L1834.4 1292.9L1833.9 1301.6L1834.3 1207.8L1834.6 1207.8L1835 1301.6L1834.8 1304.7L1835.1 1295.8L1835.5 1305.1L1835.8 1302.8L1836.1 1308.2L1836.5 1299.9L1836.7 1311.7L1837.1 1288.1L1837.4 1304.3L1837.7 1287.1L1838 1304.6L1838.3 1290.6L1838.6 1306L1838.9 1286.8L1839.3 1312.2L1839.6 1287L1839.9 1306.3L1840.2 1285.8L1839.8 1299.7L1840.1 1261.5L1840.5 1261.5L1840.9 1299.7L1840.4 1306.3L1840.7 1280L1840.9 1306.1L1841.2 1287.9L1841.4 1309.5L1841.7 1289.9L1842.1 1306.6L1842.4 1285.6L1842.6 1305.5L1842.9 1286.1L1843.3 1305.1L1843.6 1282.7L1843.8 1303.5L1844.2 1285.1L1844.4 1302.6L1844.7 1201.6L1844.1 1298.4L1844.4 1084.9L1844.8 1084.9L1845.2 1298.4L1844.9 1306.5L1845.2 1285.3L1845.6 1302.7L1845.9 1285L1846.2 1303.1L1846.5 1279.3L1846.8 1303.8L1847.1 1284.2L1847.4 1304.4L1847.7 1295L1848 1314L1848.3 1296.4L1848.6 1303.9L1848.9 1298.2L1849.2 1304.7L1849.5 1267.5L1849.9 1305L1850.2 1285.6L1850.4 1313.8L1850.7 1285.7L1849.9 1298.8L1850.3 1141.1L1850.7 1141.1L1851 1298.8L1851 1304.9L1851.3 1285.6L1851.6 1305.2L1851.9 1291.4L1852.2 1305.8L1852.5 1297.9L1852.8 1308.5L1853.1 1292.9L1853.4 1304.8L1853.7 1294.8L1854.1 1305L1854.5 1284.2L1854.7 1305.6L1855.1 1278.8L1855.4 1304.9L1855.7 1249.8L1856 1305.1L1856.3 1234.9L1856.6 1306.6L1856.9 1195.8L1857.3 1313.7L1857.6 1138.3L1857.8 1306.7L1858.1 1106.4L1858.3 1305.8L1858.6 1132.6L1858.8 1306.1L1859.2 1107.4L1858.6 1192L1859 977.8L1859.3 977.8L1859.7 1192L1859.4 1307.1L1859.7 1068.2L1860 1315.2L1860.3 1222.4L1860.6 1306.2L1860.9 1189.5L1861.2 1305L1861.5 1240.7L1861.9 1305.3L1862.2 1203.1L1862.6 1312.2L1863 1231.5L1863.2 1304.9L1863.5 1239L1863.9 1304.5L1864.2 1275.4L1864.5 1304L1864.8 1286L1865 1311.3L1865.3 1283L1865.7 1306.7L1866 1281.8L1866.3 1305.9L1866.6 1281.1L1866.9 1305.7L1867.2 1280L1867.5 1305.8L1867.8 1279.5L1868.1 1309.6L1868.5 1279.9L1868.7 1305.2L1869 1271.7L1869.4 1304.4L1869.7 1285L1869.3 1296.5L1869.7 1245.4L1870 1245.4L1870.4 1296.5L1869.9 1303.8L1870.2 1247.6L1870.5 1303.8L1870.8 1281.5L1871 1302.9L1871.3 1296.2L1870.5 1296.8L1870.9 1319.5L1871.3 1319.5L1871.6 1296.8L1871.6 1312.8L1871.9 1292.1L1872.3 1304.1L1872.6 1290.5L1872.9 1304.8L1873.2 1281.2L1873.6 1302.3L1873.9 1284.8L1874.3 1302.2L1874.6 1276.2L1874.8 1301.8L1875.1 1285.2L1874.8 1295L1875.2 1240.8L1875.6 1240.8L1875.9 1295L1875.5 1301.7L1875.8 1279.6L1876.1 1302.8L1876.4 1267.8L1876.6 1302.4L1876.9 1271.6L1877.2 1302.4L1877.5 1281.3L1877.8 1302.9L1878.1 1266L1878.4 1299.3L1878.7 1258.8L1879 1302.3L1879.3 1255L1879.6 1302.4L1879.9 1217.9L1879.2 1259.2L1879.5 1131.2L1879.9 1131.2L1880.3 1259.2L1880.2 1307.5L1880.5 1194.7L1880.9 1300.8L1881.2 1205.8L1881.5 1298.8L1881.8 1141.3L1882.2 1298.2L1882.5 1163.9L1882.9 1305.7L1883.2 1094.5L1883.4 1301.3L1883.8 1086.3L1884.2 1302.7L1884.5 1158.2L1884.8 1302.3L1885.1 1110.6L1884.4 1208L1884.8 1073.2L1885.1 1073.2L1885.5 1208L1885.5 1304L1885.8 1115.2L1886 1304.7L1886.3 1156.7L1886 1217.3L1886.3 1091.1L1886.7 1091.1L1887.1 1217.3L1886.7 1303.4L1887 1133.8L1887.2 1307.5L1887.6 1139.6L1887.9 1304L1888.2 1139.9L1888.4 1304.2L1888.7 1173.8L1889 1305.5L1889.3 1224.3L1889.6 1305.1L1889.9 1257.5L1890.2 1308.8L1890.5 1265.3L1890.9 1303.1L1891.2 1270.4L1891.6 1302.5L1891.9 1276L1892.3 1302.4L1892.6 1280.2L1893 1307.1L1893.4 1282.7L1893.7 1304L1894 1286.8L1894.2 1302.2L1894.5 1286.6L1894.8 1302.1L1895.1 1288.5L1895.4 1302.2L1895.7 1293.3" fill="none" stroke="#231f20" stroke-width="1.75" stroke-linejoin="bevel"/>
<path d="M1104.7 732.6V1365.1H1896.6" fill="none" stroke="#231f20" stroke-width="2.2" stroke-linejoin="miter"/>
<path d="M1104.7 1335h13.5M1104.7 1304.9h7.5M1104.7 1274.9h13.5M1104.7 1244.8h7.5M1104.7 1214.7h13.5M1104.7 1184.7h7.5M1104.7 1154.6h13.5M1104.7 1124.5h7.5M1104.7 1094.5h13.5M1104.7 1064.4h7.5M1104.7 1034.3h13.5M1104.7 1004.3h7.5M1104.7 974.2h13.5M1104.7 944.2h7.5M1104.7 914.1h13.5M1104.7 884h7.5M1104.7 854h13.5M1104.7 823.9h7.5M1104.7 793.8h13.5M1104.7 763.8h7.5M1104.7 733.7h13.5M1138.2 1365.1v-9M1168.5 1365.1v-9M1202.1 1365.1v-9M1234.5 1365.1v-9M1268.1 1365.1v-9M1300.5 1365.1v-16M1334 1365.1v-9M1367.6 1365.1v-9M1400 1365.1v-9M1433.6 1365.1v-9M1466 1365.1v-9M1499.6 1365.1v-16M1533.1 1365.1v-9M1564.5 1365.1v-9M1598 1365.1v-9M1630.5 1365.1v-9M1664 1365.1v-9M1696.4 1365.1v-16M1730 1365.1v-9M1763.5 1365.1v-9M1796 1365.1v-9M1829.5 1365.1v-9M1862 1365.1v-9M1895.5 1365.1v-16" fill="none" stroke="#231f20" stroke-width="1.9"/>
<path d="M159.6 2103.8L159.9 2056.2L160.2 2103.7L160.5 2057.9L160.9 2086.2L161.2 2071.7L161.5 2100L161.8 2047.9L162.2 2096.2L162.5 2046.2L162.8 2097.9L163.1 2063.4L163.5 2094.5L163.8 2044.4L164 2089.4L164.4 2043.8L164.6 2109.1L165 2050.4L165.4 2118.9L165.7 2043.8L165.9 2115.6L166.3 2076.7L166.7 2117L167 2062.6L166.7 2088.2L167.1 2167.3L167.5 2167.3L167.8 2088.2L167.3 2119.4L167.6 2070.6L168.1 2138.4L168.4 2070.8L168.8 2103.9L169.1 2076.2L169.5 2107.6L169.9 2056.9L170.3 2102.7L170.7 2061.9L170.9 2105.6L171.2 2061.9L170.4 2086.3L170.8 2141L171.2 2141L171.5 2086.3L171.5 2107.1L171.8 2066.2L172.1 2106.2L172.4 2070.7L172.7 2096.6L173.1 2065.6L173.5 2110.6L173.8 2056.7L174.1 2108.5L174.4 2051.6L174.7 2105.6L175 2039.4L175.2 2073.5L175.5 2029.3L174.8 2066.9L175.1 2142.6L175.5 2142.6L175.9 2066.9L175.8 2101L176.1 2035.7L176.4 2104.5L176.7 2052.3L177.2 2094.6L177.5 2029L177.9 2091.7L178.2 2045.4L177.8 2059.5L178.2 2002.2L178.6 2002.2L178.9 2059.5L178.5 2078.8L178.8 2020L179.1 2105L179.5 2023.4L179.7 2094.1L180 2048.4L180.2 2106L180.6 2016.1L180.8 2092.7L181.1 2024.4L181.5 2106.9L181.8 2035.4L182 2103L182.4 2042.9L181.5 2073.9L181.9 2114.8L182.3 2114.8L182.6 2073.9L182.8 2100.2L183.2 2038.4L183.5 2084.7L183.8 2035.8L184.2 2103.5L184.5 2050.6L183.7 2076.6L184.1 2009L184.4 2009L184.8 2076.6L184.9 2109.2L185.2 2048L185.7 2092.6L186 2055.8L186.4 2095.9L186.7 2063.5L186.2 2080.9L186.5 2153.4L186.9 2153.4L187.3 2080.9L187 2102.6L187.3 2061.2L187.5 2123.7L187.8 2065L188.1 2100.6L188.4 2065L188.7 2087.2L189.1 2063.7L189.4 2089.6L189.7 2066.4L190 2093.8L190.3 2059.2L189.6 2077L189.9 2013.6L190.3 2013.6L190.7 2077L190.6 2112.5L191 2060.9L190.2 2074.1L190.6 2114.8L190.9 2114.8L191.3 2074.1L191.3 2079L191.6 2057.2L191.9 2075.1L192.2 2059L192.6 2074.1L193 2047.4L193.3 2068L193.7 2038.5L194.1 2066.7L194.4 2031.3L194.6 2077L195 2045.4L195.3 2072.9L195.7 2030.2L196.1 2081.5L196.4 2034.4L196.8 2079.9L197.1 2035.6L197.3 2069.1L197.7 2044.5L198 2079.2L198.3 2049.1L197.6 2061.4L198 2093.2L198.3 2093.2L198.7 2061.4L198.7 2087.4L199 2040.5L199.4 2070.1L199.7 2038.5L200.1 2079.1L200.5 2040.8L200.7 2074.6L201 2056.4L201.3 2066.4L201.6 2053.6L201.9 2078.1L202.2 2053.7L202.5 2065.8L202.9 2041.6L203.2 2075.5L203.6 2041.7L204 2070.7L204.3 2056.7L204.7 2072.7L205 2043.5L205.3 2082.9L205.6 2042.7L206 2082.9L206.3 2043.8L206.5 2091.8L206.8 2038.2L207.2 2095.4L207.6 2034.2L206.9 2070.1L207.2 2030.6L207.6 2030.6L208 2070.1L208 2096.2L208.3 2041.2L208.6 2101.5L208.9 2043.2L209.3 2104.2L209.6 2044.6L210 2106.7L210.3 2050.4L210.6 2105.5L210.9 2045.5L211.2 2091.4L211.6 2048.6L211.9 2104.5L212.3 2046.9L212.6 2113.8L212.9 2058.1L213.2 2103.9L213.5 2045.8L213.3 2078.3L213.7 2036.1L214.1 2036.1L214.4 2078.3L214 2089.1L214.3 2051.9L214.5 2087.5L214.8 2044.8L215 2102.5L215.4 2041.3L215.7 2101.8L216 2045.7L216.2 2109.5L216.6 2045.2L216.8 2097.8L217.1 2047L217.4 2115.4L217.7 2078L218.1 2118.4L218.4 2057.3L218.8 2118.3L219.1 2082.8L219.5 2119.6L219.9 2043.2L220.1 2113.8L220.5 2064.2L219.8 2094.6L220.2 2022.2L220.6 2022.2L220.9 2094.6L220.9 2132.2L221.2 2086.2L221.6 2121.1L221.9 2095.9L221.4 2099L221.7 2159.6L222.1 2159.6L222.5 2099L222.2 2124.2L222.5 2095.8L222.7 2116.8L223 2073.2L223.3 2110.1L223.6 2078.6L224 2118.2L224.4 2073.4L223.8 2091.8L224.2 2162.7L224.6 2162.7L224.9 2091.8L224.8 2115.4L225.1 2050.9L224.4 2088.3L224.8 1996L225.2 1996L225.6 2088.3L225.5 2139L225.8 2069.8L226 2100L226.4 2077.9L226.7 2119.1L227 2061.8L227.5 2119.8L227.8 2060.3L228 2108.6L228.4 2026.3L228.8 2131L229.2 2068.3L228.5 2067.9L228.8 2139.5L229.2 2139.5L229.6 2067.9L229.5 2119.4L229.8 2058.5L230.2 2114.6L230.6 2047.7L230.8 2120.5L231.2 2062.6L230.3 2071.6L230.7 1984.6L231 1984.6L231.4 2071.6L231.4 2124L231.8 2049.5L232 2113.9L232.3 2022.9L232.7 2122.4L233 2025.4L233.2 2081L233.5 2032.1L232.8 2068.9L233.2 2130.2L233.5 2130.2L233.9 2068.9L233.8 2127.6L234.1 2062.3L233.7 2062L234.1 1935.8L234.4 1935.8L234.8 2062L234.4 2105L234.7 2003.3L235.1 2118.2L235.4 1957.5L235.7 2115.5L236 1988.4L236.3 2111.7L236.6 1998.1L237.1 2100.1L237.4 2008L237.7 2090.7L238 2018.7L238.5 2084.3L238.8 2026.9L239.1 2090.3L239.4 2051.6L239.7 2091.9L240 2016.8L240.3 2093.5L240.6 2044.4L240.2 2052.9L240.6 2114.8L240.9 2114.8L241.3 2052.9L241 2100.1L241.4 1967.1L241.6 2083.2L242 2008.6L241.4 2051.5L241.8 1901.9L242.2 1901.9L242.5 2051.5L242.3 2098.7L242.6 2010.5L243 2094.2L243.3 1991.2L243.7 2101.9L244 1995.4L244.4 2103.7L244.8 2000.6L245.1 2114.2L245.4 2007.9L245.7 2097.6L246.1 2016.9L246.4 2101.3L246.7 2034.3L247.1 2121.7L247.4 2016.4L247 2075.8L247.4 1988.3L247.7 1988.3L248.1 2075.8L247.7 2127L248 2035.6L248.2 2134.1L248.6 2021.2L248.8 2128.8L249.2 2046.1L249.6 2150.6L249.9 2048.1L250.2 2125.9L250.5 2040.5L249.8 2087.8L250.1 2168.8L250.5 2168.8L250.9 2087.8L250.8 2129.9L251.2 2078L251.6 2133.7L251.9 2033.8L252.3 2137.3L252.7 2001.5L253.1 2072.4L253.5 1971.5L253.8 2084.4L254.1 1946.4L253.8 2036L254.1 1919.8L254.5 1919.8L254.9 2036L254.5 2098.9L254.8 1974.4L255.2 2095.3L255.5 1961.8L256 2097.5L256.3 1998.3L256.7 2103.5L257 2013.3L257.3 2088.4L257.6 2019.6L258 2112.4L258.3 2011.7L258.7 2113.4L259.1 2006.5L259.4 2100.6L259.7 2027.3L259.3 2070.6L259.7 1985.8L260.1 1985.8L260.4 2070.6L260.1 2113.3L260.4 2028.3L260.9 2126L261.2 2022.5L261.5 2129.7L261.8 2035.5L262.2 2102.8L262.5 1994L262.1 2041.1L262.5 2151.9L262.8 2151.9L263.2 2041.1L262.9 2104.8L263.2 1972.3L263.6 2113.4L263.9 1927.8L264.3 2131.5L264.6 1868L264.3 2017.2L264.6 1804.6L265 1804.6L265.4 2017.2L265 2106.8L265.4 1858.5L265.6 2058L265.9 1889.6L266.1 2074L266.5 1881.7L266.1 1995.6L266.5 2148.8L266.8 2148.8L267.2 1995.6L266.7 2134.3L267 1870.3L267.4 2111.8L267.8 1902.7L268.1 2103.9L268.4 1931.8L268.7 2112.3L269 1972.6L268.6 2034L269 2142.6L269.3 2142.6L269.7 2034L269.4 2108.4L269.7 1973L270.1 2093L270.4 1993.2L270.8 2064.1L271.1 2011.8L271.5 2095.4L271.8 1974.9L272.2 2072.3L272.5 1969.9L272.8 2102.5L273.2 2010.6L273.6 2072.6L273.9 1947L273.5 2027.5L273.9 2150.3L274.3 2150.3L274.6 2027.5L274.3 2139.2L274.6 1954.3L274.1 2025L274.5 1916.7L274.9 1916.7L275.2 2025L275 2082.1L275.4 1968.5L275.7 2103.2L276 1937.8L276.3 2062.6L276.6 1929.2L277 2089.1L277.4 1949.7L277.6 2078.4L277.9 1970.7L278.4 2049.3L278.7 1999.9L279 2078.2L279.4 2000.7L279.7 2088.2L280.1 2021.2L280.5 2092.5L280.8 2026L281 2088.2L281.3 1969.2L281.6 2074.7L281.9 2002L281.5 2036.5L281.9 1837.7L282.3 1837.7L282.6 2036.5L282.3 2055.2L282.7 1895.1L283.1 2104.6L283.4 1998L283.8 2108.5L284.1 1924.3L284.4 2085L284.7 1936.6L285.1 2099.8L285.4 1948L285.8 2095.4L286.1 1887.8L285.6 2010.6L285.9 2153.4L286.3 2153.4L286.7 2010.6L285.9 2006.6L286.2 1814.5L286.6 1814.5L287 2006.6L286.5 2054.3L286.8 1817.7L287.1 2119.3L287.4 1887.7L287.7 2040.3L288 1898.7L288.4 2081.5L288.7 1883.5L289.2 2069.1L289.5 1872.5L289.8 2065.1L290.1 1871.1L290.6 2054.2L290.9 1950L291.3 2088.7L291.7 1992.3L290.8 2010.2L291.2 1850.9L291.5 1850.9L291.9 2010.2L292 2097.4L292.3 1983.2L292.6 2091.7L292.9 2015.8L293.1 2050.2L293.4 1983.2L293.9 2098.8L294.2 1949.9L294.4 2100.9L294.8 1935.8L295.1 2102.6L295.5 1925.5L295.8 2066.9L296.1 1932L296.5 2086.7L296.9 1996.9L296.1 1990L296.4 2114.8L296.8 2114.8L297.2 1990L297.3 2091L297.6 1928.1L298.1 2077.1L298.4 1938.8L298.8 2040L299.1 1888.1L299.5 2020.1L299.9 1841.9L300.1 1981.2L300.4 1846.3L300.1 1955.8L300.4 1792.3L300.8 1792.3L301.2 1955.8L300.7 2084.5L301 1827.8L301.4 2084.1L301.8 1860.7L302 2079.5L302.3 1807.1L302.5 2078.1L302.9 1803.9L303.3 2082.8L303.6 1819.1L303.9 2080.8L304.3 1799L304.6 2082.1L304.9 1825L305.4 2074.8L305.7 1871.6L305.9 2088.7L306.2 1823.1L306.4 2086.8L306.8 1883.7L305.9 1957.7L306.3 1793.2L306.7 1793.2L307 1957.7L307.1 2094.7L307.4 1841.2L307.6 2049.4L308 1872.8L308.3 2097L308.6 1849L309 2104.3L309.3 1892.1L309.7 2106.7L310.1 1890.7L310.3 2105.7L310.6 1905.1L311.1 2110.1L311.4 1883.6L310.6 1996.8L310.9 1840.1L311.3 1840.1L311.7 1996.8L311.6 2064.2L311.9 1883.6L312.3 2112.5L312.6 1855.6L313 2103.5L313.3 1863.9L313 1998.7L313.4 1844.8L313.8 1844.8L314.1 1998.7L313.6 2065L313.9 1853L314.4 2092.8L314.7 1897.6L315 2114.4L315.3 1882.8L315.8 2061.8L316.1 1914.8L316.5 2097L316.9 1910.5L316.4 2014.5L316.8 2127.2L317.2 2127.2L317.5 2014.5L317.2 2104.9L317.5 1928L317.8 2112.2L318.1 1938L318.4 2102.4L318.8 1930.2L318.3 2016.7L318.6 1858.6L319 1858.6L319.4 2016.7L319 2099.2L319.3 1931.2L319.7 2102.7L320 1992.5L320.3 2093.7L320.7 1935.7L320.9 2078L321.2 1947.7L321.5 2080.5L321.9 1959.8L322.2 2076.8L322.5 1977.3L322.8 2047.9L323.1 2004.5L323.4 2044L323.7 1984.9L324.1 2095.9L324.5 1980.4L324.7 2080.1L325.1 1983.6L325.4 2083.7L325.8 2005.3L326.1 2076.1L326.4 1989.4L326.8 2065.6L327.2 1992.8L327.5 2073.5L327.9 2002.4L328.1 2090.9L328.5 1999.3L328.9 2080.4L329.2 1994.9L328.5 2037.1L328.8 2134.9L329.2 2134.9L329.6 2037.1L329.6 2082.1L330 1991.3L330.4 2083.8L330.7 1991.6L331 2083.2L331.3 1960.8L331.6 2080.7L332 1944.5L332.4 2079.4L332.7 1924L333 2075.3L333.3 1903.9L333.7 2075.8L334.1 1919.5L334.5 2075.1L334.8 1870.6L335.1 2088.9L335.4 1863.7L335.8 2093.5L336.2 1860.4L335.6 1988.8L335.9 1836.4L336.3 1836.4L336.7 1988.8L336.4 2013.2L336.7 1887L337.1 2103.6L337.4 1883L337.8 2106.6L338.2 1886.8L338.5 2079.5L338.8 1943L339.2 2110.4L339.5 1918.8L339.7 2041.1L340.1 1921.1L340.3 2108.7L340.6 1955.7L340.2 2029.5L340.6 2127.2L340.9 2127.2L341.3 2029.5L341 2050.1L341.3 1963.8L341.6 2111.6L341.9 1969.3L342.1 2084.1L342.5 1942.3L342.8 2088.4L343.1 1937.9L343.4 2088.4L343.8 1944.1L344.1 2102.8L344.4 1944.9L344.8 2048L345.1 2005.2L344.8 2017.8L345.2 2125.6L345.6 2125.6L345.9 2017.8L345.5 2102.1L345.9 1943.8L346.3 2031.8L346.6 1964.1L347 2088.7L347.3 1952.1L347.7 2072.2L348 1949.5L348.4 2092.1L348.8 1948.6L349.2 2086.8L349.5 1941.5L349.9 2086.1L350.2 1935L350.6 2083.7L350.9 1945.2L351.2 2085.2L351.6 1948.7L352 2086.5L352.3 1953.6L351.8 2021L352.2 2099.4L352.5 2099.4L352.9 2021L352.8 2061.9L353.1 2010.4L353.4 2034.6L353.7 1942.2L353.3 2022.2L353.7 1934.3L354.1 1934.3L354.4 2022.2L354 2084.5L354.4 1938.9L354.8 2078.6L355.1 2003.2L355.5 2057L355.9 2017.1L355.5 2023.3L355.9 1932.7L356.2 1932.7L356.6 2023.3L356.2 2072.7L356.5 1976.7L356.9 2073L357.2 1972.9L357.6 2074.6L358 1978.4L357.4 2025.9L357.7 1933.6L358.1 1933.6L358.5 2025.9L358.4 2045.3L358.7 1979L358.9 2065.1L359.3 1979.3L358.6 2029L359 2099.4L359.3 2099.4L359.7 2029L359.6 2067.8L360 2002.6L360.2 2088.4L360.5 1996.8L361 2080.9L361.3 2017.4L361.6 2063.8L361.9 2036.2" fill="none" stroke="#231f20" stroke-width="1.85" stroke-linejoin="bevel"/>
<path d="M372.8 2059.2L373.1 2022.5L373.5 2047.7L373.9 1966.9L373.1 2015.2L373.5 1869.4L373.8 1869.4L374.2 2015.2L374.2 2080.9L374.6 1926.2L374 1993.4L374.4 2099.4L374.7 2099.4L375.1 1993.4L374.8 2067.2L375.2 1889.8L375.5 2062.8L375.9 1898.2L376.2 2056.6L376.5 1906.6L375.9 1998L376.2 1888L376.6 1888L377 1998L376.9 2052.7L377.3 1925.5L377.6 2084.1L378 1919.1L378.2 2081.1L378.6 1966.7L379 2075L379.3 1992.5L379.7 2060.2L380 1969.9L380.3 2068.5L380.6 1955.8L381 2068.7L381.3 1959.9L381.7 2036.8L382.1 1964.1L381.4 2009.6L381.8 1908.6L382.2 1908.6L382.5 2009.6L381.4 2009.6L381.8 2091.7L382.2 2091.7L382.5 2009.6L382.4 2069.7L382.7 1977.7L383 2055.5L383.4 1957.7L383.7 2071.7L384 1984.8L384.4 2049.1L384.8 1982L385 2062.4L385.3 1981.1L385.6 2069.2L385.9 1988.7L386.3 2032.8L386.7 2017.6L386.9 2064.5L387.2 1957.2L387.6 2041.6L387.9 1946.7L388.3 2079L388.6 1932.7L389 2085.4L389.3 1935.8L389.7 2081L390.1 1937.3L389.4 2011.1L389.8 1928.1L390.2 1928.1L390.6 2011.1L390.4 2091L390.7 1975.8L391 2093.6L391.4 1962.1L391.6 2089.6L391.9 1969L392.3 2083.2L392.7 1932.7L393 2054.3L393.3 1943.3L392.5 2006.9L392.9 2105.6L393.3 2105.6L393.6 2006.9L393.5 2072.2L393.8 1929.3L394.1 2048.6L394.4 1928.2L394.8 2077.2L395.1 1931.4L395.3 2073.9L395.7 1956.9L396 2058.8L396.3 2002.9L395.9 2014.9L396.3 1908L396.7 1908L397 2014.9L396.6 2070.7L397 1967.8L397.3 2044.6L397.7 2014.8L397.9 2049.9L398.2 1989.1L398.6 2071.7L398.9 1982.9L399.2 2078.8L399.5 1979.8L399.8 2080.2L400.2 1981.9L400.4 2076.6L400.7 1997.9L401.1 2067.2L401.4 2027.3L401.7 2082.6L402 2035.7L402.3 2085.6L402.7 2043.7L403 2086.2L403.3 2039.5L403.7 2078.2L404.1 2040.6L403.6 2057.2L404 2097.8L404.4 2097.8L404.7 2057.2L404.4 2077.3L404.7 2030.5L405.1 2057.7L405.5 2017.3L405.7 2083L406 1998.3L406.5 2075.3L406.8 1975.4L407 2058.8L407.4 1956.2L407.6 2047.7L408 1948.9L408.4 2070.7L408.7 1958.9L408.3 2013.3L408.6 1935.8L409 1935.8L409.4 2013.3L409.1 2072L409.4 1949.1L409.9 2074.3L410.2 1958.6L410.7 2079L411 2013.9L411.3 2050.6L411.6 1967.1L411.4 2028.9L411.7 1952.8L412.1 1952.8L412.5 2028.9L411.9 2086.5L412.3 1960.1L412.5 2089.7L412.8 1998.3L413.2 2086.1L413.5 1979.6L413.9 2071.9L414.2 1985.5L414.5 2072.7L414.8 2026.3L415.3 2080.7L415.6 2000.8L414.8 2044.4L415.1 1966.7L415.5 1966.7L415.9 2044.4L416.1 2094.5L416.4 2003.8L416.6 2094.2L416.9 2016.1L417.1 2093.9L417.5 2006.7L417.7 2093.7L418 2024.3L418.3 2093L418.6 2013.9L419 2089.7L419.3 2014L419.8 2095.4L420.1 1965.7L419.7 2030.7L420.1 1942.6L420.4 1942.6L420.8 2030.7L420.4 2056.3L420.7 1972.7L421.1 2094.9L421.5 1964.2L421.8 2087.2L422.1 1963.6L422.4 2102.5L422.7 1969.4L423.1 2096.8L423.5 1989.8L422.8 2040.5L423.2 1966.7L423.5 1966.7L423.9 2040.5L423.8 2084.6L424.2 1983L424.5 2063L424.8 2003.7L425.1 2096.5L425.4 2034.5L424.6 2051.4L425 2117.9L425.4 2117.9L425.7 2051.4L425.8 2105.6L426.2 2003.1L426.6 2081.7L426.9 2003.6L427.3 2077.3L427.6 1994.8L427.9 2058.7L428.3 1994.4L428.7 2095.3L429 1994.4L429.2 2056.2L429.6 1998.6L429.9 2084L430.2 2008.4L429.9 2049.3L430.3 1965.1L430.6 1965.1L431 2049.3L430.5 2099L430.8 1997.4L431 2094L431.4 2002.2L431.7 2079.7L432 1995L431.7 2050.2L432.1 1975.9L432.5 1975.9L432.8 2050.2L432.3 2065.1L432.6 2008.1L432 2050.4L432.4 2108.6L432.8 2108.6L433.1 2050.4L432.9 2092.7L433.2 2023L433.4 2097.9L433.8 2034L434.1 2089.5L434.4 2013.4L434.8 2078.1L435.2 2007.1L435.5 2060.6L435.9 2029.6L435.1 2050.3L435.5 1972.8L435.9 1972.8L436.2 2050.3L436.2 2065.4L436.5 2017.6L436.9 2060L437.2 2020.4L437.5 2077.2L437.9 2026.9" fill="none" stroke="#231f20" stroke-width="1.85" stroke-linejoin="bevel"/>
<path d="M442.1 2070L442.4 2006.7L441.9 2040.6L442.3 1975.9L442.6 1975.9L443 2040.6L442.7 2089.2L443 2034.4L443.2 2094.9L443.6 1997.1L443.9 2070.9L444.3 2024.1L444.6 2059.2L444.9 2024.1L444.4 2039L444.8 2138L445.1 2138L445.5 2039L445.2 2085.6L445.5 2010.4L445 2035.9L445.4 1941.4L445.7 1941.4L446.1 2035.9L446 2079.5L446.3 1985.1L446.7 2068.6L447.1 1976.5L447.5 2079.9L447.8 2010.6L448.1 2076.2L448.5 1984.5L448.1 2034.7L448.5 1968.2L448.8 1968.2L449.2 2034.7L448.7 2082.9L449 1992.4L449.3 2086.4L449.6 2031.1L449.9 2088L450.2 2006.2L450.5 2089.9L450.9 1993.8L451.3 2069.7L451.7 2012.6L452 2094.4L452.4 2000.3L452.6 2042.4L453 1964.5L453.3 2075.3L453.7 1968L453.9 2087.5L454.2 1975.7L453.6 2037.3L454 1946.6L454.4 1946.6L454.7 2037.3L454.6 2097.9L455 1987.7L455.3 2102.2L455.6 2015.9L456 2099.7L456.3 1981.8L456.7 2104.4L457.1 1973.9L457.3 2099.7L457.6 1993.3L456.7 2048.4L457.1 1959L457.5 1959L457.8 2048.4L458 2101.4L458.4 1996.6L457.7 2052L458 2111.7L458.4 2111.7L458.8 2052L458.7 2092.5L459 2009.6L459.4 2099.4L459.7 2026L460.1 2089.5L460.5 2044.6L460.8 2096.9L461.1 2038.3L461.5 2071.4L461.9 2027.3L461.7 2070.1L462 2013L462.4 2013L462.8 2070.1L462.3 2088.9L462.6 2054.6L462.9 2113.7L463.2 2043.2L463.5 2118.3L463.9 2050.4L464.1 2125.3L464.4 2031.7L464.8 2117.4L465.1 1967L464.8 2053.3L465.1 1915.1L465.5 1915.1L465.9 2053.3L464.8 2053.3L465.1 2151.9L465.5 2151.9L465.9 2053.3L465.5 2119.1L465.8 1923.7L466.1 2125.2L466.4 1955.4L466.6 2093.3L467 1928.5L467.3 2126.8L467.7 1946.9L468 2103.2L468.4 2018.5L467.5 2054.6L467.9 1925L468.3 1925L468.6 2054.6L468.6 2106.6L469 2031.2L469.2 2102.8L469.5 2059.8L469.8 2094.5L470.2 2058.9" fill="none" stroke="#231f20" stroke-width="1.85" stroke-linejoin="bevel"/>
<path d="M490.4 2058.8L490.7 2041.9L491.2 2064.6L491.5 2034.5L490.7 2048.2L491.1 2127.2L491.4 2127.2L491.8 2048.2L491.8 2105.1L492.1 2022.9L491.3 2046.2L491.7 1997.5L492 1997.5L492.4 2046.2L492.4 2053.5L492.8 2025.1L493.1 2071.5L493.5 2019.6L493.8 2066.8L494.1 2010.5L494.4 2065.1L494.8 2025.1L495 2056.2L495.3 2020.9L495.7 2056L496 2022.5L496.2 2055.6L496.5 2024.3" fill="none" stroke="#231f20" stroke-width="1.85" stroke-linejoin="bevel"/>
<path d="M509.5 2067.3L509.8 2016.7L510.2 2069.5L510.5 2004.7L510.8 2060.3L511.2 2029.8L511.4 2062L511.8 2023.7L511.1 2043.8L511.4 1982.1L511.8 1982.1L512.2 2043.8L512.2 2048.3L512.6 2040.3" fill="none" stroke="#231f20" stroke-width="1.85" stroke-linejoin="bevel"/>
<path d="M516.1 2055.4L516.4 2035.2L516.6 2065.9L517 2029.7L517.3 2069.4L517.6 2027.6L517.9 2076.7L518.2 2031L517.5 2054.2L517.9 2024.4L518.3 2024.4L518.6 2054.2L518.6 2080.4L518.9 2031.2L519.2 2083.6L519.6 2031.4L520 2082.2L520.3 2048.6L520.7 2086L521 2037.6L520.6 2060.6L521 2033L521.4 2033L521.7 2060.6L521.4 2071.5L521.7 2037.4L522.1 2077.3L522.4 2048.9L521.9 2061.3L522.2 2124.1L522.6 2124.1L523 2061.3L522.7 2083.5L523 2043.7L523.3 2069.6L523.6 2046.2" fill="none" stroke="#231f20" stroke-width="1.85" stroke-linejoin="bevel"/>
<path d="M528.5 2074.4L528.9 2052.2L529.1 2082.9L529.4 2039.2L529.9 2086.7L530.2 2037.5L530.6 2083.5L530.9 2042.5L530.2 2065L530.6 2028.4L530.9 2028.4L531.3 2065L531.2 2095L531.5 2038.6L531.8 2088.2L532.2 2063L532.5 2087.2L532.8 2062.9L533 2075.1L533.3 2043.4L533.7 2097.1L534.1 2041.5L533.3 2069.2L533.6 2102.5L534 2102.5L534.4 2069.2L534.3 2095.1L534.7 2043.5L534.9 2094.4L535.2 2042.4L535.6 2093L535.9 2045L536.3 2089.8L536.7 2039.6L537.1 2090L537.4 2034.5L537.7 2088.2L538 2032.9L538.3 2066.8L538.6 2033.5L538.9 2092.2L539.3 2054.1L538.8 2065.8L539.2 2021.3L539.6 2021.3L539.9 2065.8L539.5 2095.5L539.9 2048.8L540.2 2099.9L540.5 2058.7L540.8 2088.2L541.1 2041.1L541.4 2092.9L541.8 2066.6L541.2 2070.1L541.5 2139.5L541.9 2139.5L542.3 2070.1L542 2091.6L542.3 2045.2L542.7 2084.9L543 2045.7L542.7 2073.1L543.1 2033L543.5 2033L543.8 2073.1L543.4 2081.5L543.7 2039.8L544.1 2088.7L544.4 2056.8" fill="none" stroke="#231f20" stroke-width="1.85" stroke-linejoin="bevel"/>
<path d="M549.9 2078.1L550.3 2054.9L550.6 2073.8L550.9 2043.7L550.4 2065.8L550.8 2162.7L551.2 2162.7L551.5 2065.8L551.2 2080.3L551.5 2053.9L551.1 2069.2L551.4 2034.6L551.8 2034.6L552.2 2069.2L551.7 2077.3L552.1 2053.6" fill="none" stroke="#231f20" stroke-width="1.85" stroke-linejoin="bevel"/>
<path d="M557.1 2074.2L557.4 2046.2L557.7 2086.7L558.1 2042.1L558.3 2092L558.6 2038.4L557.8 2060L558.2 2099.4L558.6 2099.4L558.9 2060L559.1 2079.5L559.4 2023.2L559.8 2065.5L560.1 2024.4L560.3 2085.7L560.7 1975.3L561.1 2045.2L561.5 1987.6L561.8 2136.7L562.2 1874.7L561.5 1993L561.9 2147.2L562.3 2147.2L562.6 1993L562.6 2106.8L562.9 1871.7L563.3 2108.2L563.6 1910.6L562.8 2008L563.2 1867.9L563.5 1867.9L563.9 2008L564.1 2056.8L564.4 1965L564.8 2125.6L565.1 1919.2L565.5 2118L565.8 1965.5L566.2 2109.4L566.6 2022.7L566.2 2078.3L566.5 2148.8L566.9 2148.8L567.3 2078.3L567 2122.7L567.3 2053.3L567.8 2116.4L568.1 2043.6L567.7 2069.2L568.1 1869.4L568.5 1869.4L568.8 2069.2L568.5 2103.5L568.8 2047.5L569.1 2098.8L569.5 2047.6L569.9 2068.2L570.2 2054.6L570.4 2089.7L570.8 2016.7L571 2090.8L571.3 2019.3L571.8 2090.5L572.1 2031L572.3 2094.4L572.7 2044L573 2092.5L573.3 2063.1L573.6 2096L573.9 2058.9L574.3 2091L574.6 2062.5L574.2 2070.1L574.6 2033L574.9 2033L575.3 2070.1L575.1 2091.6L575.4 2048.1L575.6 2089.5L576 2049.2L576.3 2087.4L576.7 2051.8L577.1 2083.5L577.4 2051L577.7 2084.8L578.1 2051.8L577.6 2069.7L578 2113.3L578.3 2113.3L578.7 2069.7L578.3 2078.9L578.7 2055.9L579.1 2083.7L579.4 2052.7L579.9 2083.4L580.2 2051.5L580.5 2083.1L580.8 2058L581.1 2085.9L581.4 2049.8L581.7 2084.4L582 2056.9L582.3 2080.8L582.6 2056.7L583 2081L583.4 2052.2L582.5 2065.4L582.9 2040.7L583.3 2040.7L583.6 2065.4L583.7 2079L584 2054.2L584.2 2078.1L584.6 2049.7L584.8 2069.7L585.2 2050.9L585.6 2077.2L585.9 2056.3L586.3 2066.4L586.6 2042.5L586.9 2076.4L587.2 2054.7L587.6 2079.3L587.9 2054.1L588.2 2093.4L588.6 2054.5L588.8 2090.1L589.1 2051.7L588.4 2066.2L588.8 2035.2L589.1 2035.2L589.5 2066.2L589.4 2088.2L589.7 2043.6L590.1 2090L590.5 2040.2L589.9 2066.8L590.3 2114.8L590.7 2114.8L591 2066.8L590.7 2104.8L591.1 2040.7L591.3 2095.8L591.6 2040.8L591.9 2087.6L592.2 2042.8L592.5 2093.6L592.8 2052.4L592.1 2067.8L592.5 2035.2L592.8 2035.2L593.2 2067.8L593.2 2084.4L593.5 2048.2L593.7 2085.6L594.1 2067.1L594.3 2087L594.6 2066.9L595 2089.1L595.4 2048.3L595.7 2096.8L596 2028.9L595.5 2062.5L595.9 2151.9L596.2 2151.9L596.6 2062.5L596.3 2117.7L596.6 2036.3L597.1 2092.9L597.4 1995.3L597 2048.9L597.4 1960.5L597.8 1960.5L598.1 2048.9L597.7 2100.3L598 1976.2L598.4 2070L598.7 2009.1L599.1 2105.6L599.4 1964.4L599.7 2103.2L600 1966.5L600.2 2089.4L600.6 1999.3L601 2100.2L601.3 1958L600.4 2029.6L600.8 2138L601.2 2138L601.5 2029.6L601.6 2122.8L602 1977.7L601.7 2035L602 1944.4L602.4 1944.4L602.8 2035L602.2 2079.4L602.6 1989.3L603 2078.8L603.4 2029.7L603.8 2082.6L604.1 2010.3L604.6 2075.6L604.9 2029.9L605.2 2075.1L605.5 2043L605.9 2074.7L606.3 2050.3L606.7 2055.6L607.1 2035.9L607.5 2065L607.8 2032.4L607.2 2055.4L607.6 2020.7L608 2020.7L608.3 2055.4L608.2 2080.3L608.5 2038.6L608.8 2067.6L609.1 2035.2L609.4 2072.3L609.8 2031.5L610.1 2074.2L610.4 2037.6L610.8 2070.9L611.2 2044.8L611.5 2066.3L611.8 2032.1L611.5 2054.3L611.9 2028.4L612.3 2028.4L612.6 2054.3L612.3 2079L612.6 2035.6L613 2091L613.3 2036.6L612.8 2056.6L613.2 2099.4L613.5 2099.4L613.9 2056.6L613.6 2079.3L614 2033.5L614.3 2070.4L614.6 2034.5L614.8 2083L615.2 2033.7L615.4 2086.4L615.8 2051.3L616 2068.8L616.3 2053.1L616.6 2093L616.9 2052.7L617.2 2080.7L617.5 2035.1L617.9 2087.9L618.3 2017.8L617.7 2053.9L618.1 2108.6L618.5 2108.6L618.8 2053.9L618.7 2064.5L619 2022L619.3 2098.5L619.7 2025.2L619.3 2064L619.6 1999.1L620 1999.1L620.4 2064L620 2087.1L620.3 2030.5L620.6 2083.9L621 2044.6L621.3 2105L621.6 2042L621.9 2100.9L622.3 2036.3L622.7 2089.1L623 2029.7L622.7 2060.8L623 2127.2L623.4 2127.2L623.8 2060.8L623.3 2099.3L623.7 2018.7L624 2078L624.3 2023.8L624.7 2083.7L625.1 2015L625.5 2097.3L625.8 2013.5L626.2 2089.9L626.5 2009.7L626.9 2104.6L627.2 2024.4L626.4 2054.2L626.7 1988.3L627.1 1988.3L627.5 2054.2L627.5 2090.4L627.9 2035.6L627.6 2051.6L628 2153.4L628.3 2153.4L628.7 2051.6L628.3 2076.4L628.6 2008L628.2 2050.3L628.6 1968.8L628.9 1968.8L629.3 2050.3L628.9 2126.5L629.2 1991.7L629.5 2088.7L629.8 2017.4L630.2 2076.9L630.5 1998.9L630.8 2068.8L631.1 1998L631.5 2096.3L631.8 1998.7L631.3 2047.7L631.7 1949.1L632 1949.1L632.4 2047.7L632.2 2096.3L632.5 1967.7L632.9 2096.3L633.2 1993.1L633.4 2072.4L633.7 2001.8L634.1 2091.5L634.4 2037.6L634.7 2118.4L635 2029.2L635.5 2070L635.8 2017.4L635 2056.7L635.4 2153.4L635.7 2153.4L636.1 2056.7L636 2106.5L636.4 2015.5L636.8 2089.2L637.1 2012.7L637.6 2096.3L637.9 2015.1L638.2 2084.5L638.5 2001.4L638.1 2048.1L638.5 1985.2L638.8 1985.2L639.2 2048.1L638.9 2099.4L639.2 1996.5L639.5 2058.7L639.8 2037.6L640.3 2089.6L640.6 1986.7L641 2081.7L641.3 1977.5L641.5 2087.1L641.8 1982.4L642.2 2097.7L642.6 1964.8L641.8 2032.3L642.2 1968.2L642.5 1968.2L642.9 2032.3L642.9 2083.3L643.3 1957.6L643.7 2089.6L644 1950.6L644.4 2063.9L644.8 1956.2L644.3 2024.8L644.6 1938.9L645 1938.9L645.4 2024.8L645 2088.9L645.4 1959.3L644.9 2025.2L645.3 2111.7L645.6 2111.7L646 2025.2L645.6 2056.4L645.9 1970.1L646.2 2092.4L646.5 1968.5L646.9 2081.8L647.3 2002.7L647.7 2073.9L648 2050.3L648.4 2060.7L648.7 2035.8L649 2092.6L649.4 2045.3L649.7 2123.6L650 2007.3L649.2 2050.4L649.6 2142.6L649.9 2142.6L650.3 2050.4L650.4 2117.7L650.7 2012.7L650.4 2057.4L650.8 1953.7L651.2 1953.7L651.5 2057.4L651 2067.9L651.4 2051.2L651.6 2110.2L652 2056L652.2 2105.6L652.6 2023.9L652.8 2094.3L653.1 2028.5L653.6 2103.5L653.9 2033.3L654.1 2103.2L654.4 2030.5L654.7 2099.6L655 2038.9L655.3 2095.8L655.6 2054.8L655.9 2084.8L656.2 2065.1L656.6 2084.3L656.9 2037.5L657.3 2073.8L657.6 2033L658 2091.2L658.3 2025.7L658.7 2094.5L659 2020.5L658.5 2054.6L658.8 1795.4L659.2 1795.4L659.6 2054.6L659.4 2098L659.7 2011.1L660 2098.6L660.3 2007.4L660.7 2096.1L661 2035.9L661.2 2048.7L661.5 1990.4L661.8 2086.1L662.2 1945.2L662.6 2091.5L662.9 1929.8L663.3 2100.6L663.7 2011.5L663.4 2024.3L663.8 1907.4L664.1 1907.4L664.5 2024.3L664.1 2051.3L664.4 1965.9L664 2027.6L664.4 2138L664.7 2138L665.1 2027.6L664.8 2075.3L665.2 1990.5L665.6 2074.7L665.9 2018.3L666.3 2080.5L666.6 2050.3L666.9 2072.7L667.2 2034.7L667.6 2066.7L667.9 1959.7L668.1 2076.7L668.4 1925.2L668.7 2062.2L669 1893.6L669.3 2102.5L669.7 1894.3L669 1967.4L669.3 2134.9L669.7 2134.9L670.1 1967.4L670 2084.5L670.3 1842.6L670.6 2104L671 1956.1L671.3 2097.9L671.6 1848.2L670.8 1974.6L671.2 1826.2L671.5 1826.2L671.9 1974.6L671.8 2101.5L672.1 1913.1L672.4 2110L672.8 1926.4L673.1 2093.6L673.5 1856.8L673.9 2043.5L674.2 1888.9L673.9 1995.2L674.3 2130.2L674.6 2130.2L675 1995.2L674.5 2015.1L674.9 1903.4L675.2 2071.3L675.6 1972L675.8 2084.8L676.1 1903.3L676.3 2030.8L676.7 1912.8L676.9 2071.7L677.3 1929.2L677.7 2062.7L678 1944.4L678.4 2059.2L678.7 1927.9L679.2 2076.2L679.5 1967.6L678.8 2017.6L679.2 1856.5L679.6 1856.5L679.9 2017.6L679.9 2083.8L680.2 1931.7L680.5 2060.2L680.9 1946.4L681.2 2090.4L681.5 1933.8L681.8 2039.1L682.2 1897.2L681.3 1990L681.7 2128.7L682 2128.7L682.4 1990L682.4 2102L682.7 1860L683.1 2103.2L683.5 1863.8L683.2 1979L683.5 1848.8L683.9 1848.8L684.3 1979L683.9 2088.6L684.2 1952L684.5 2024.3L684.8 1873.3L685.1 2089.1L685.5 1928.2L685.9 2091L686.2 1941L686.5 2088.8L686.9 1991.8L687.2 2090.3L687.5 1917.4L687.8 2082.7L688.2 1849.9L688.5 2034L688.9 1810.7L689.1 2073.1L689.4 1790L689.9 2079.6L690.2 1900.4L689.3 1937.7L689.7 1748.1L690.1 1748.1L690.4 1937.7L690.6 2086.3L690.9 1775.9L691.1 2073.1L691.5 1790L691.2 1938.9L691.5 2114.8L691.9 2114.8L692.3 1938.9L691.8 2103.6L692.2 1815.8L692.5 2034.4L692.9 1832.8L692.1 1958L692.5 1787L692.8 1787L693.2 1958L693.1 2082L693.4 1833.2L693.6 2083.5L694 1926.5L694.3 2016.7L694.7 1898.5L695.1 2053.2L695.4 1896.5L695.2 1992.2L695.6 1861.1L695.9 1861.1L696.3 1992.2L695.9 2076.1L696.2 1900.8L696.5 2087.1L696.9 1899.2L696.1 1993.7L696.5 2099.4L696.8 2099.4L697.2 1993.7L697.1 2090.1L697.4 1977L697.8 2017.6L698.1 1960L698.5 2094.7L698.9 1888.7L699.2 2096.2L699.5 1905.3L700 2082.3L700.3 1919.4L699.8 1993L700.2 1857.7L700.6 1857.7L700.9 1993L700.6 2094.5L700.9 1885.3L701.1 2093.8L701.5 1895L701.7 2069.2L702 1941.2L701.7 1993.6L702 1858.6L702.4 1858.6L702.8 1993.6L702.4 2089.3L702.7 1897.6L703.1 2085.8L703.4 1956L703.7 2080.4L704 1899.5L704.2 2078.8L704.5 1922.6L704.9 2079.4L705.3 1954.5L705.7 2083.9L706 1959.1L706.2 2060.9L706.6 1955.6L706.8 2064.5L707.1 1954.5L707.4 2079.7L707.7 1953L708.1 2076.4L708.4 1933L708.6 2073L709 1996.3L708.5 1995.4L708.8 1879.6L709.2 1879.6L709.6 1995.4L709.3 2042.6L709.6 1910.7L710 2042.6L710.4 1922L710.7 2082L711 1884.8L711.3 2061.3L711.6 1901.4L710.9 1992.6L711.3 2124.1L711.7 2124.1L712 1992.6L712 2066.8L712.4 1940.6L712.7 2093.7L713.1 1937.8L713.3 2130.9L713.6 1916.9L714.1 2004.1L714.4 1886.8L713.7 1975.3L714.1 2162.7L714.4 2162.7L714.8 1975.3L714.7 2040.1L715 1867.8L714.6 1955L715 1706.8L715.4 1706.8L715.7 1955L715.4 1994L715.7 1829L716 2086L716.3 1932.7L716.6 2046.3L717 1773.5L717.3 2076.4L717.7 1777.6L717.9 2078.5L718.3 1828.8L717.4 1953.5L717.8 1769.1L718.1 1769.1L718.5 1953.5L718.7 1998.5L719.1 1864.5L719.4 2082.3L719.8 1903L720.2 2084.2L720.6 1951.3L720.9 2085.9L721.2 1983.5L721.6 2070.1L721.9 1991.8L722.1 2079.4L722.4 1969.8L722.7 2060.1L723.1 1979.2L722.4 2022.4L722.7 1939.5L723.1 1939.5L723.5 2022.4L723.3 2074.6L723.7 1959.3L724.1 2066.4L724.4 1991.7L724.8 2059L725.1 1976L725.3 2040.6L725.6 2005.1L725.9 2061.3L726.2 2009.9L726.4 2062.7L726.8 2000.8L727.1 2060.1L727.4 1989.3L727.7 2054.9L728 1983.5L728.2 2061.4L728.6 1974L728.9 2090.5L729.2 1972L728.5 2016.1L728.9 1928.1L729.3 1928.1L729.6 2016.1L728.5 2016.1L728.9 2099.4L729.3 2099.4L729.6 2016.1L729.7 2035.6L730 1956.5L729.3 2012.2L729.7 2097.8L730.1 2097.8L730.4 2012.2L730.4 2067.2L730.7 1957L731 2052.7L731.3 1990.7L731.8 2068.1L732.1 1995L732.5 2074.2L732.9 2008.4L733.1 2068.8L733.4 2025.3L733.7 2056.3L734.1 2018L734.5 2069.3L734.8 2036.5L735.1 2060.1L735.5 2027.8L735.9 2063.3L736.2 2011.9L736.4 2080.7L736.8 2009.2L737 2035.8L737.3 2016.3L737 2016.2L737.4 1857.7L737.8 1857.7L738.1 2016.2L737.6 2049.6L738 1992.3L738.2 2083.7L738.5 1932.5L738.8 2052.4L739.2 1916.3L739.4 2070.5L739.7 1930.1L739.2 2021.1L739.6 2095.7L739.9 2095.7L740.3 2021.1L740.1 2047L740.4 1996.1L740.9 2082.3L741.2 2025.9L741.6 2078.6L741.9 2041.7L742.2 2080.9L742.5 2043.1L742.9 2079.7L743.3 2050.3" fill="none" stroke="#231f20" stroke-width="1.85" stroke-linejoin="bevel"/>
<path d="M758.8 2049L759.2 1972L759.5 2082.2L759.8 1958.6L760.1 2083.1L760.4 1971.2L759.6 2025.2L759.9 2091.7L760.3 2091.7L760.7 2025.2L760.8 2060.4L761.2 1979.2L760.8 2033.3L761.2 1945.1L761.5 1945.1L761.9 2033.3L761.5 2080.9L761.8 1989.4L762.1 2074.9L762.5 1984.5L762.9 2075.4L763.2 2012.4L763.5 2062.1L763.8 2019.9L764.2 2075.2L764.5 2027.6L764.8 2080.2L765.1 2014.9L765.4 2082.3L765.8 2002.5L766.1 2079.3L766.4 1994L766.9 2079.4L767.2 1987.4L766.7 2032.8L767 2090.1L767.4 2090.1L767.8 2032.8L767.5 2079.1L767.9 1982.1L768.3 2042.8L768.6 1966.4L768.8 2060.6L769.2 1969.7L768.8 2011.3L769.2 1874.1L769.6 1874.1L769.9 2011.3L769.5 2080.7L769.8 1953.1L770.1 2079.1L770.4 1994.4L770.9 2077.2L771.2 1909.4L771.5 2073L771.9 1916.5L772.2 2038.5L772.5 1945L772.8 2071.6L773.1 1930.5L773.4 2070.6L773.7 1961.2L774.2 2061.7L774.5 1939L773.8 2002.3L774.1 1904.3L774.5 1904.3L774.9 2002.3L774.8 2071L775.1 1931.1L775.5 2021.4L775.8 1933.8L776.1 2062.1L776.4 1938.8L776.7 2068.6L777 1959.1L777.4 2070.8L777.7 1960.1" fill="none" stroke="#231f20" stroke-width="1.85" stroke-linejoin="bevel"/>
<path d="M781.4 2068.1L781.7 1968L782.1 2077.8L782.5 1983.2L782.7 2068.9L783 1961.9L782.4 2011.3L782.8 1904L783.1 1904L783.5 2011.3L782.7 2010.8L783.1 2087L783.5 2087L783.8 2010.8L783.3 2060.4L783.6 1951.9L784 2051.4L784.4 1939.9L784.8 2057.1L785.1 1955.9L785.4 2068.4L785.7 1978.8L785.9 2068.9L786.2 1990.2L786.7 2034.2L787 1983.1L787.2 2035.6L787.5 2002.1L787.7 2054L788.1 1965.6L787.4 2016.2L787.7 2096.3L788.1 2096.3L788.5 2016.2L788.5 2069.2L788.8 1961.6L789.2 2078L789.5 1977.9L789.8 2056.6L790.1 1965.5L789.2 2018.5L789.6 1957.4L789.9 1957.4L790.3 2018.5L790.3 2071.9L790.6 2015.7L790.9 2073.8L791.2 1997.8L791.7 2069.3L792 1998.6L792.4 2058.5L792.7 1981.6L793.1 2064.1L793.5 2004.2L793.9 2038.2L794.2 1982.4L793.5 2022.2L793.9 2111.7L794.3 2111.7L794.6 2022.2L794.6 2076.1L794.9 1983.6L794.1 2019.9L794.5 1940.4L794.9 1940.4L795.2 2019.9L795.3 2077.7L795.6 1957.8L796.1 2045.6L796.4 1955.2L796.7 2061.9L797 1970.8L797.4 2045.7L797.7 1956.5L798 2048.6L798.3 1959.5L798.6 2064.3L798.9 1962.9L799.3 2069.3L799.6 1983.3L799.1 2024.2L799.4 2096.3L799.8 2096.3L800.2 2024.2L800 2052.8L800.3 1978.8L800 2028.1L800.4 1904.3L800.7 1904.3L801.1 2028.1L800.6 2088.7L800.9 1977.6L801.1 2075.1L801.5 2015.3L801.7 2077.5L802 1985.9L802.4 2068L802.7 1993L803 2077.2L803.4 2033.1L803.7 2084.8L804 2018.8L804.2 2084.7L804.6 2011.9L805 2084.6L805.3 2001.8L805.6 2045.7L806 1998.4L806.3 2076.1L806.6 1990.2L807 2070.2L807.3 1980.6L807.7 2060.7L808.1 1971.8L808.4 2037.5L808.7 1968.3L809 2081.2L809.3 1988.4L809.8 2083.1L810.1 1989L810.5 2079.7L810.8 1952.4L810.2 2025.3L810.6 1949.1L810.9 1949.1L811.3 2025.3L811.1 2077.9L811.5 1974.5L811.9 2071.4L812.2 2004.7L812.6 2074.9L813 2024.2L813.3 2050.7L813.7 2022.8L814 2076L814.3 1993.7L814.7 2079.1L815.1 1971.6L814.5 2025.6L814.9 2105.6L815.2 2105.6L815.6 2025.6L815.4 2082.6L815.7 1967.6L816.1 2077.2L816.4 1997.2L816.8 2090.2L817.2 1962.2L817.4 2090.5L817.8 1957.9L818.1 2090L818.4 1958.9L817.9 2024.2L818.3 1926.5L818.6 1926.5L819 2024.2L818.7 2091L819 1984.3L819.4 2078.6L819.8 1988.3L820.1 2094.7L820.5 2019.9L820.9 2080.1L821.2 1956.7L821.5 2089.5L821.8 2007.6L822 2093.8L822.3 1984.7L822.5 2054.3L822.9 1975.7L822.2 2032.7L822.6 1924.4L823 1924.4L823.3 2032.7L823.3 2087L823.6 2017.7L824 2081.6L824.4 2034.6L824.8 2074.7L825.1 2012.2L825.4 2074.3L825.8 1989L826.2 2075L826.5 1984L826.2 2029.1L826.6 2107.1L827 2107.1L827.3 2029.1L827 2076.7L827.3 1981.9L827.6 2083.1L827.9 2005.5L828.3 2076.3L828.6 2011.2L827.8 2027L828.2 1936.7L828.5 1936.7L828.9 2027L829 2053.4L829.3 2003.4L829.6 2055.6L829.9 2010.2L830.2 2072.5L830.5 1970.5L830.9 2098.8L831.2 1964.2L831.6 2075L831.9 1960.5L831.2 2021.5L831.5 1937.3L831.9 1937.3L832.3 2021.5L831.2 2021.5L831.5 2110.2L831.9 2110.2L832.3 2021.5L832.3 2074.7L832.7 1971.5L833.1 2072.5L833.4 1963.8L833.8 2076.8L834.1 1966.3L834.4 2070.7L834.7 1968.1L835 2052.8L835.3 1970.8L834.6 2025.3L834.9 1942L835.3 1942L835.7 2025.3L835.6 2080.2L835.9 1961.7L836.3 2054.6L836.6 1976L837 2084.7L837.3 1979.8L837.6 2064L838 2008.9L838.2 2074.6L838.5 2004.8L838.9 2069.7L839.2 2000.2L839.6 2057.3L839.9 2006.4L840.2 2058.7L840.5 1991.4L841 2059.2L841.3 1980.5L840.7 2025.8L841.1 2131.8L841.5 2131.8L841.8 2025.8L841.6 2078.2L841.9 1967.4L842.2 2051.4L842.6 1968.4L843 2047.9L843.3 1951.8L843.5 2086.8L843.8 1953.2L844 2079.9L844.4 1946.5L843.5 2015.2L843.9 1922.5L844.3 1922.5L844.6 2015.2L844.7 2080.7L845.1 1945.3L845.4 2077.1L845.8 1945L846.1 2074.4L846.4 1957.7L846.8 2069.8L847.1 2004.7L847.5 2072L847.9 2002.1" fill="none" stroke="#231f20" stroke-width="1.85" stroke-linejoin="bevel"/>
<path d="M854.2 2060.4L854.5 2019.9L854 2027.8L854.4 1931.8L854.7 1931.8L855.1 2027.8L854.9 2059.9L855.2 2014.5L855.6 2062.4L855.9 2006.1L856.3 2059.4L856.6 2001.5L857 2070.1L857.3 1917.4L857.5 2020.6L857.9 1898.4L857.1 1984.7L857.5 2130.2L857.8 2130.2L858.2 1984.7L858.1 2108.5L858.4 1875.9L858.8 2081.1L859.2 1909.2L858.3 1996L858.7 1838.6L859.1 1838.6L859.4 1996L859.5 2090L859.8 1922.1L860.1 2027.2L860.4 1916.4L860.9 2023.4L861.2 1947L861.6 2044.6L861.9 1940.5L861.4 2009.9L861.8 1915.7L862.2 1915.7L862.5 2009.9L861.4 2009.9L861.8 2111.7L862.2 2111.7L862.5 2009.9L862.3 2093.8L862.6 1945.3L862.9 2082.6L863.2 1939.4L863.5 2074.9L863.8 1945L864.2 2056.9L864.5 1951.6L864.9 2031.7L865.2 1958.7L865.4 2072.8L865.8 1963.1L866 2074.1L866.3 1978.6L866.5 2086L866.8 1981.2L867.2 2085.6L867.5 1997.7L867.8 2051.1L868.2 2028.8L868.5 2091.5L868.8 1978.8L869.1 2090.1L869.4 1982.2L869.7 2092.4L870 1988.5L870.4 2073.8L870.7 1995.2L871.1 2107.8L871.5 2001L870.7 2046L871.1 2117.9L871.4 2117.9L871.8 2046L871.8 2091.6L872.1 2005.5L872.4 2056.2L872.8 2006.6L871.9 2049.3L872.3 1988.3L872.6 1988.3L873 2049.3L873 2074.3L873.3 2032.1L873.5 2084.3L873.9 2018.3L874.3 2090.2L874.6 2022.5L874.8 2088L875.2 2026.5L875.6 2066L875.9 2032.6L876.1 2066.7L876.4 2037.4L875.6 2059.3L876 2111.7L876.4 2111.7L876.7 2059.3L876.7 2082.7L877 2036.7L877.3 2076.6L877.6 2047.4L877.8 2071.5L878.1 2035.5L877.5 2055.4L877.8 2016L878.2 2016L878.6 2055.4L878.4 2073.2L878.7 2025.3L879.1 2075.8L879.4 2033.2L879.9 2062.9L880.2 2031.6L880.7 2068.9L881 2049.1L881.3 2076.2L881.6 2050.5L881.2 2059.3L881.5 2029.9L881.9 2029.9L882.3 2059.3L881.9 2072.9L882.2 2045.7L882.6 2062.9L883 2053.1L883.4 2071.3L883.7 2058L883.9 2081.9L884.3 2058L884.6 2075.1L885 2046.5L885.3 2098L885.6 2032L884.9 2071L885.3 2031.5L885.6 2031.5L886 2071L885.9 2112.9L886.2 2025.1L886.6 2133.5L887 2024.6L887.3 2144.4L887.6 2037.5L887 2072.8L887.4 2170.4L887.8 2170.4L888.1 2072.8L887.9 2124.1L888.2 2054.9L887.7 2071.6L888 1953.7L888.4 1953.7L888.8 2071.6L888.6 2139.5L889 2035.2L889.3 2082.3L889.6 2002.1L889.9 2086.8L890.2 2025.2L890.6 2143.4L890.9 2004.7L890.4 2064.4L890.8 2150.3L891.2 2150.3L891.5 2064.4L891.2 2137.1L891.6 1995.6L891.8 2114.8L892.2 1995.5L892.5 2127.3L892.8 1994.4L892.3 2061.3L892.7 2151.9L893 2151.9L893.4 2061.3L893.1 2124.4L893.4 1994.4L893.6 2088.3L894 2001.5L894.3 2083.9L894.6 1993.8L894.9 2120.1L895.3 1990.9L894.8 2056.4L895.1 1963L895.5 1963L895.9 2056.4L895.7 2104.3L896 1993.7L896.4 2087.6L896.7 1989.9L897.2 2101.9L897.5 1991.4L897.8 2093.4L898.1 1991.4L898.4 2059L898.7 1991.7L899 2089.5L899.4 2005.4L899.7 2095L900 2040.3L900.2 2099.6L900.6 2042.3L900.9 2106.6L901.2 2056.4L901.5 2096.4L901.8 2048.2L902 2102.6L902.3 2047.4L901.9 2066.3L902.2 2122.5L902.6 2122.5L903 2066.3L902.7 2096.9L903.1 2046.7L903.4 2083.7L903.7 2027.2L903.1 2066.2L903.5 2013L903.8 2013L904.2 2066.2L903.9 2104.5L904.3 2054.7L904.7 2098.8L905 2010.8L905.4 2101.6L905.8 2033.5L905.3 2068L905.6 2002.2L906 2002.2L906.4 2068L906.2 2077.1L906.5 2020.5L906.8 2093.7L907.1 2041.1L907.4 2091.8L907.7 2040L908 2098L908.3 2036L908.6 2095.6L909 2038.8L909.4 2099.1L909.7 2066.8L910.1 2102.8L910.4 2047.6L910.8 2082.2L911.1 2049.7L910.8 2071.6L911.2 2108.6L911.5 2108.6L911.9 2071.6L911.4 2089.2L911.8 2060.5L912.1 2088.9L912.5 2053.3L912.7 2082.3L913.1 2045.4L913.5 2079.7L913.8 2052L914.2 2080L914.5 2052.5L914.8 2073.3L915.2 2053L914.5 2057.7L914.9 1992.9L915.2 1992.9L915.6 2057.7L915.5 2076.6L915.9 2052.3L916.1 2073.3L916.4 2035.8L916.7 2072.7L917.1 2039.3L917.3 2066.7L917.6 2030.4L918.1 2092.4L918.4 2028.2L918.7 2066.9L919 2026.4L919.4 2098.1L919.7 2048.5L920.1 2096.9L920.5 2028.9L920.8 2095L921.1 2026L921.5 2078.5L921.8 2015.6L922.1 2075L922.4 2022.3L922.7 2078.9L923.1 2033.1L923.3 2063.8L923.7 2052L924 2072.8L924.4 2050L924.8 2085.6L925.1 2055.9L925.5 2088.7L925.8 2062.8L926.1 2088.5L926.4 2068.7L925.8 2085.5L926.2 2136.4L926.5 2136.4L926.9 2085.5L926.8 2093.1L927.1 2073.6L927.4 2108.9L927.8 2078L928 2111.7L928.4 2061L928.7 2123.8L929 2080.4L929.5 2122.9L929.8 2053.1L930.2 2122L930.5 2065.6L930.8 2114.3L931.2 2074.8L930.4 2084.9L930.8 2121L931.2 2121L931.5 2084.9L931.4 2113.3L931.7 2050L931.4 2083.4L931.7 1973.5L932.1 1973.5L932.5 2083.4L931.9 2114.9L932.2 2003.1L932.5 2119L932.9 2046.5L933.2 2118.2L933.6 2033.7L934 2088.3L934.3 2047.3L934.6 2108.5L934.9 2051.2L935.3 2101.8L935.7 2056L936.1 2093.3L936.4 2055.6L936.8 2085.3L937.2 2061.8L937.5 2067.6L937.9 2047.1L938.2 2066.8L938.5 2050.8L938.8 2065.6L939.1 2058.9L939.4 2069.8L939.7 2051.3L940.1 2066.2L940.4 2045.3L940.7 2061.3L941 2043.4L941.3 2076.4L941.6 2037.1L942 2081.5L942.3 2050.2L941.5 2061.9L941.9 2009.9L942.3 2009.9L942.6 2061.9L942.5 2083L942.9 2063.5L943.2 2084.3L943.6 2066.8L943.8 2085.1L944.1 2055.1L944.5 2084.2L944.8 2044L944 2064.4L944.4 2116.4L944.7 2116.4L945.1 2064.4L945.2 2086.4L945.5 2027.1L945.9 2085.8L946.2 2021.5L946.7 2081.1L947 2020.9L946.5 2054.9L946.9 1948.1L947.2 1948.1L947.6 2054.9L947.5 2084.7L947.8 2024.7L948.1 2083.1L948.5 2015.5L948.8 2092.9L949.1 2032.4L949.3 2075.9L949.7 2035.3L950 2065.4L950.3 2037.8" fill="none" stroke="#231f20" stroke-width="1.85" stroke-linejoin="bevel"/>
<path d="M159.3 1548.3V2185H951.8" fill="none" stroke="#231f20" stroke-width="2.2" stroke-linejoin="miter"/>
<path d="M159.3 2121.4h7.5M159.3 2057.9h13.5M159.3 1994.3h7.5M159.3 1930.8h13.5M159.3 1867.2h7.5M159.3 1803.6h13.5M159.3 1740.1h7.5M159.3 1676.5h13.5M159.3 1613h7.5M159.3 1549.4h13.5M192.9 2185v-9M223.2 2185v-9M256.7 2185v-9M289.2 2185v-9M322.8 2185v-9M355.3 2185v-16M388.8 2185v-9M422.4 2185v-9M454.9 2185v-9M488.4 2185v-9M520.9 2185v-9M554.5 2185v-16M588 2185v-9M619.4 2185v-9M653 2185v-9M685.5 2185v-9M719 2185v-9M751.5 2185v-16M785.1 2185v-9M818.6 2185v-9M851.1 2185v-9M884.7 2185v-9M917.1 2185v-9M950.7 2185v-16" fill="none" stroke="#231f20" stroke-width="1.9"/>
<path d="M1105.2 2085.3L1105.5 1955.2L1105.8 2047L1106.1 1934.7L1106.3 2091.1L1106.7 1958.9L1106.2 2009.9L1106.5 2108.6L1106.9 2108.6L1107.3 2009.9L1107 2086.6L1107.3 1922.7L1107.8 2079.7L1108.1 1929.3L1108.5 1998.7L1108.8 1863.3L1109.2 2082L1109.5 1852.1L1109.8 2079.6L1110.1 1839.3L1110.4 2027.9L1110.7 1826.8L1109.9 1956L1110.3 1725L1110.6 1725L1111 1956L1109.9 1956L1110.3 2105.6L1110.6 2105.6L1111 1956L1111.1 2078.5L1111.4 1812.5L1111.9 2097.4L1112.2 1795.3L1111.7 1926.5L1112.1 2111.7L1112.5 2111.7L1112.8 1926.5L1112.5 1961.9L1112.8 1754.2L1113.1 2098L1113.4 1778.1L1113.7 1999.5L1114 1643.6L1114.4 2065L1114.7 1651.6L1114.9 2085.7L1115.3 1706.5L1114.8 1871.5L1115.2 1569.1L1115.6 1569.1L1115.9 1871.5L1115.5 2062.6L1115.8 1671.1L1116.1 2083.1L1116.5 1665.2L1116.7 2079.2L1117 1669L1117.3 2024L1117.6 1713.6L1117.9 2072.9L1118.3 1828.8L1118.5 2070L1118.8 1970.6L1119.1 2073L1119.5 1944.5L1119.9 2074.1L1120.2 1995.2L1120.6 2024.5L1121 1942.1L1121.3 2059.8L1121.6 1941.5L1121.8 2076.3L1122.2 1939.5L1122.6 2078.3L1122.9 1982L1123.2 2079.7L1123.5 1955.3L1124 2075.9L1124.3 1932.5L1123.5 2007.6L1123.8 1866.4L1124.2 1866.4L1124.6 2007.6L1124.7 2083.9L1125 1938.8L1125.4 2087.7L1125.7 1920.4L1126.1 2061.9L1126.4 1913.2L1126.8 2079.2L1127.1 1866.7L1127.3 2088.8L1127.6 1912.7L1127.2 2000.9L1127.5 1754.3L1127.9 1754.3L1128.3 2000.9L1127.2 2000.9L1127.5 2105.6L1127.9 2105.6L1128.3 2000.9L1127.9 2103.1L1128.2 1914.2L1128.6 2049.6L1129 1902.6L1129.3 2097.2L1129.6 1984.8L1129.9 2056.8L1130.2 1954.6L1130.6 2092.4L1130.9 1986.9L1130.6 2005.9L1130.9 1559.3L1131.3 1559.3L1131.7 2005.9L1131.1 2083.2L1131.5 1841.1L1131.8 2100.8L1132.1 1927L1132.4 2082.6L1132.7 1937.4L1132.1 2009.7L1132.5 2117.9L1132.8 2117.9L1133.2 2009.7L1133.1 2074.3L1133.5 1971.3L1133.8 2081.8L1134.1 1947.1L1134.6 2075.4L1134.9 1962.9L1134.6 1995.4L1134.9 1862.3L1135.3 1862.3L1135.7 1995.4L1135.2 2080.9L1135.5 1938.8L1135.8 2084.8L1136.1 1969.7L1136.4 2085.4L1136.7 1893.5L1137.1 2082.6L1137.5 1897.4L1137.8 2070.3L1138.1 1897.4L1137.4 1988L1137.7 1701.2L1138.1 1701.2L1138.5 1988L1138.5 2081.4L1138.8 1925.3L1139 2059.2L1139.4 1868.4L1139.7 2079.5L1140 1928.6L1139.2 2007.8L1139.6 2114.8L1139.9 2114.8L1140.3 2007.8L1140.2 2081.1L1140.6 1950.8L1141 2089.4L1141.3 2025.5L1141.6 2084.5L1141.9 2029.8L1142.2 2065.9L1142.6 2005.8L1142.9 2088.1L1143.2 1983L1143.4 2094.7L1143.8 1940.8L1144.2 2003.2L1144.5 1838.9L1144.8 2066.3L1145.1 1762.6L1145.5 2088.1L1145.8 1824.9L1146.1 2082.1L1146.4 1747.4L1146.8 2003.1L1147.2 1719.8L1146.3 1900.5L1146.7 1595.7L1147 1595.7L1147.4 1900.5L1147.4 2070.3L1147.7 1631.4L1148 2084.6L1148.3 1693.2L1147.5 1889.2L1147.9 2127.2L1148.3 2127.2L1148.6 1889.2L1148.7 1968.8L1149.1 1728.6L1149.5 2053.9L1149.9 1830.4L1150.2 2091.5L1150.5 1884L1150.9 2096.4L1151.3 1885.2L1151.6 2086.2L1151.9 1913.3L1151.5 1990.7L1151.9 1784L1152.3 1784L1152.6 1990.7L1152.2 2048.8L1152.5 1887.3L1152.8 2066.1L1153.2 1934.3L1152.5 1990.1L1152.8 2105.6L1153.2 2105.6L1153.6 1990.1L1153.5 2089.4L1153.9 1925.2L1154.2 2076.3L1154.6 1888.3L1154.8 2038.2L1155.1 1887.2L1155.5 2084.1L1155.8 1880.1L1156.1 2020.5L1156.4 1931L1156.7 2071.1L1157 1875L1156.5 1965.5L1156.9 1694.1L1157.2 1694.1L1157.6 1965.5L1157.4 2087.1L1157.7 1857.5L1157.9 2073.7L1158.3 1817.9L1158.6 2060.4L1159 1791.3L1159.3 2086.9L1159.6 1837.4L1160 2074.5L1160.4 1912.1L1160.8 2056.1L1161.1 1986.3L1161.4 2099L1161.7 1985.2L1162.2 2086.8L1162.5 2009.3L1162.8 2092.4L1163.2 2021.6L1162.4 2058.3L1162.7 2130.2L1163.1 2130.2L1163.5 2058.3L1163.4 2074.1L1163.8 2031.2L1164.2 2097.6L1164.5 2020.9L1164.7 2089.3L1165.1 2001.3L1165.5 2102.8L1165.9 2028.3L1165.1 2032.4L1165.5 1890.4L1165.9 1890.4L1166.2 2032.4L1166.2 2104.1L1166.5 2004.6L1166.4 2007.6L1166.7 2130.2L1167.1 2130.2L1167.5 2007.6L1167 2100.3L1167.3 1983.2L1167.7 2110.5L1168 1967.3L1168.4 2102.7L1168.7 2036.3L1169 2079.1L1169.4 2021.7L1169.8 2107.4L1170.1 2027.2L1170.5 2087.1L1170.8 2003.8L1171.1 2109.1L1171.5 1951L1171.7 2072.5L1172 1968.9L1171.3 2031.7L1171.7 1906.5L1172 1906.5L1172.4 2031.7L1172.3 2112.7L1172.7 1951.4L1173.1 2085.4L1173.4 1948.1L1173.6 2072.6L1173.9 1954.6L1174.2 2112.7L1174.6 1962.3L1174.9 2119.1L1175.2 1971.1L1175.6 2069.3L1175.9 1978.6L1175.6 2051.2L1176 2134.9L1176.4 2134.9L1176.7 2051.2L1176.3 2124.5L1176.7 1956.3L1177 2119.2L1177.3 1989.1L1176.9 2057.1L1177.2 1870.1L1177.6 1870.1L1178 2057.1L1177.6 2072.2L1177.9 1990.3L1178.2 2124.2L1178.5 1965.5L1178.7 2115.1L1179.1 2002.1L1179.5 2093.6L1179.8 2010.7L1180.2 2092.1L1180.5 1985.5L1180.3 2034.6L1180.6 2130.2L1181 2130.2L1181.4 2034.6L1181 2116.6L1181.3 1953.3L1181.6 2112.8L1182 1971.4L1182.4 2103.5L1182.7 1995.2L1182.4 2046.7L1182.8 1944.1L1183.1 1944.1L1183.5 2046.7L1183.1 2069.7L1183.4 1962.3L1182.7 2048.5L1183.1 2127.2L1183.5 2127.2L1183.8 2048.5L1183.8 2062.8L1184.1 1993.2L1184.4 2070.5L1184.8 2001.1L1185 2096.2L1185.3 2011L1185.7 2104.6L1186 1976.8L1186.2 2103.2L1186.5 1965.9L1186.1 2029.7L1186.5 1949.7L1186.8 1949.7L1187.2 2029.7L1187 2043.8L1187.3 1966.5L1187.7 2103.1L1188.1 1943.9L1187.7 2012.2L1188 2124.1L1188.4 2124.1L1188.8 2012.2L1188.3 2073.1L1188.6 1977.7L1189 2086.2L1189.4 1993.8L1188.9 2005.6L1189.3 1847.8L1189.6 1847.8L1190 2005.6L1189.6 2065.5L1189.9 1985.9L1190.2 2105.2L1190.5 1943.7L1190.8 2101.2L1191.1 1899.8L1191.4 2101.6L1191.7 1942.1L1192.2 2083.5L1192.5 1946L1192.7 2096.8L1193.1 1929.9L1193.3 2090.5L1193.6 1969.2L1193.9 2093L1194.3 1952.8L1194.5 2102.7L1194.8 1971.1L1195.1 2099.6L1195.5 1957.8L1195.7 2085.5L1196 1971.4L1196.3 2104.2L1196.6 1988.9L1196.9 2110.5L1197.3 1997.9L1197.6 2073.8L1198 1997.6L1198.3 2114.9L1198.7 1959.8L1199 2111.8L1199.3 2005.7L1198.5 2050.3L1198.8 1931.2L1199.2 1931.2L1199.6 2050.3L1199.5 2057.5L1199.9 2038.7L1200.3 2100.8L1200.6 1985.5L1200 2043.1L1200.4 2117.9L1200.7 2117.9L1201.1 2043.1L1200.9 2099L1201.2 2002.2L1201.6 2090L1201.9 1961.9L1202.4 2099.5L1202.7 1874.2L1203.1 2093.3L1203.5 1854.8L1203.9 2098.6L1204.2 1868.5L1204 1980.3L1204.4 1815.4L1204.7 1815.4L1205.1 1980.3L1204.6 2089.9L1204.9 1868.7L1205.3 2056.9L1205.6 1868.4L1204.9 1979.5L1205.3 2116.4L1205.7 2116.4L1206 1979.5L1205.8 2017.8L1206.2 1925.4L1206.5 2032.4L1206.8 1875.4L1207.1 2095.2L1207.4 1895.6L1207.8 2101.5L1208.2 1990.1L1207.4 2006.8L1207.8 2117.9L1208.1 2117.9L1208.5 2006.8L1208.5 2090.5L1208.9 1982.8L1209.2 2094.7L1209.5 1992.6L1209.3 1988.3L1209.6 1795.4L1210 1795.4L1210.4 1988.3L1209.9 2093.8L1210.2 1934.2L1210.7 2028.8L1211 1836.5L1211.4 2098.3L1211.8 1849.5L1212.1 2098.3L1212.4 1830.9L1212.6 2098.1L1213 1811.3L1213.3 2105.1L1213.6 1881.9L1214 2102.9L1214.4 1841.8L1213.9 1958L1214.3 1743.8L1214.6 1743.8L1215 1958L1214.8 2119.2L1215.1 1816.5L1215.4 2102L1215.7 1801.3L1215.1 1963.4L1215.5 2130.2L1215.9 2130.2L1216.2 1963.4L1216.2 2058.4L1216.5 1852.7L1216.7 2055L1217.1 1949.1L1217.5 2095.2L1217.8 1995.7L1218.1 2079L1218.4 1930.6L1218.9 2098.2L1219.2 1830.5L1219.7 2071.5L1220 1831.2L1220.3 2089.6L1220.6 1830.8L1219.8 1961.3L1220.1 1779.9L1220.5 1779.9L1220.9 1961.3L1219.8 1961.3L1220.1 2108.6L1220.5 2108.6L1220.9 1961.3L1220.9 2073.3L1221.2 1905.4L1221.6 2047.8L1222 1825.4L1222.4 2022.6L1222.7 1847.1L1223.2 2031.8L1223.5 1914.2L1223.9 2086L1224.3 1882.3L1224.6 2090L1224.9 1859.4L1224.7 1982.9L1225.1 1786.1L1225.4 1786.1L1225.8 1982.9L1224.7 1982.9L1225.1 2124.1L1225.4 2124.1L1225.8 1982.9L1225.3 2086.3L1225.7 1840.8L1226 2090.6L1226.3 1920.8L1226.7 2095.5L1227 1890.4L1227.3 2025.3L1227.6 1861.3L1227.9 2026.4L1228.2 1885.4L1228.6 2101.5L1228.9 1896.1L1228.1 1994.8L1228.5 1853.4L1228.8 1853.4L1229.2 1994.8L1229.3 2092.2L1229.6 1928L1230 2102.1L1230.3 1978.3L1230.7 2093L1231 1906.8L1231.3 2091.1L1231.6 1893.8L1232 2091.7L1232.4 1977.4L1232.6 2060.8L1233 1896.3L1233.2 2058.7L1233.6 1921.2L1232.7 1995.2L1233.1 1817L1233.5 1817L1233.8 1995.2L1233.8 2054.6L1234.2 1898.9L1234.6 2073L1234.9 1934.7L1235.1 2078.4L1235.5 1946.5L1235.8 2039.7L1236.2 1956L1236.6 2088.3L1236.9 1938L1237.3 2077.8L1237.6 1909.8L1237.8 2087.8L1238.1 1888.7L1238.5 2096.7L1238.9 1881.3L1239.1 2096.9L1239.4 1915L1239.8 2101.4L1240.1 1883.8L1240.4 2103.4L1240.8 1932.8L1241.1 2101.3L1241.5 1868L1241.8 2107.6L1242.1 1838.1L1241.4 1972.4L1241.7 1813.9L1242.1 1813.9L1242.5 1972.4L1241.4 1972.4L1241.7 2124.1L1242.1 2124.1L1242.5 1972.4L1242.5 2097.3L1242.9 1833.5L1243.2 2012.6L1243.5 1915.7L1243.8 2083.3L1244.2 1908.5L1244.4 2091.6L1244.8 1906.5L1244.1 1975.8L1244.5 1778.4L1244.9 1778.4L1245.2 1975.8L1245.2 2064.4L1245.5 1856.4L1245.9 2086.7L1246.3 1902.5L1246.7 2081.8L1247 1910.1L1247.4 2080.9L1247.8 1947.8L1248 2095L1248.4 1899.7L1248.7 2034.2L1249.1 1856.4L1248.5 1987.6L1248.8 1825.6L1249.2 1825.6L1249.6 1987.6L1248.8 1985.2L1249.1 2117.9L1249.5 2117.9L1249.9 1985.2L1249.4 2081L1249.7 1937.6L1250.1 2085.5L1250.4 1906L1250.6 2101L1251 1904.4L1251.3 2089.2L1251.6 1884L1252.1 2045.7L1252.4 1907L1252.8 2089.7L1253.1 1918.2L1253.6 2058.1L1253.9 1912.6L1253.7 2002.2L1254.1 1901.9L1254.4 1901.9L1254.8 2002.2L1254.3 2087L1254.6 1979.2L1254.8 2062.9L1255.1 1920.9L1255.5 2042.7L1255.8 1912L1256.2 2074.4L1256.5 1939.9L1256.8 2082.6L1257.2 1996.2L1257.5 2083.5L1257.8 1989.7L1258.2 2081.9L1258.6 1938.5L1258.9 2089.4L1259.2 1949.7L1259.6 2079L1260 1931.7L1260.4 2086.5L1260.7 1911.5L1261 2092.3L1261.3 1911.2L1261.7 2047.8L1262 1884.7L1261.7 2004.9L1262.1 1872.5L1262.5 1872.5L1262.8 2004.9L1262.4 2092.3L1262.7 1919.8L1263.1 2070.3L1263.4 1899.9L1263.7 2090.7L1264 1969L1264.3 2085.8L1264.6 1916L1264.9 2087.6L1265.3 1914.2L1265.5 2031.8L1265.8 1917.5L1265.1 2002.7L1265.5 1904.9L1265.9 1904.9L1266.2 2002.7L1266.3 2081.9L1266.6 1991.8L1266.8 2084.9L1267.1 1914.1L1267.4 2086.1L1267.7 1911.6L1268 2073.5L1268.3 1887.8L1268.7 2084.4L1269.1 1855.2L1269.4 2023.4L1269.7 1852.5L1270.1 2081.3L1270.5 1853L1270.7 2086L1271 1865.4L1271.5 2052.7L1271.8 1858.1L1271.3 1963.6L1271.7 1796.9L1272 1796.9L1272.4 1963.6L1272.2 2014.1L1272.5 1805.4L1273 2036.8L1273.3 1824.3L1273.5 2093.9L1273.9 1826.2L1274.1 2109.4L1274.4 1865.1L1274.1 1965.3L1274.4 1821.6L1274.8 1821.6L1275.2 1965.3L1274.8 2022.9L1275.1 1838.3L1274.7 1967.7L1275.1 2142.6L1275.4 2142.6L1275.8 1967.7L1275.5 2080.6L1275.9 1843.1L1276.1 2121.3L1276.5 1842.8L1276.7 2084.7L1277 1975.3L1277.4 2099L1277.7 1924.3L1278.2 2082L1278.5 1961.7L1278.8 2096.9L1279.1 1933.4L1279.5 2086.2L1279.8 1845.5L1279 1996.9L1279.4 1769.8L1279.7 1769.8L1280.1 1996.9L1280.1 2080.4L1280.4 1805L1280.8 2089.5L1281.2 1860.3L1281.4 2036.9L1281.8 1854.2L1282.2 2089.6L1282.5 1835L1282.9 2017.4L1283.3 1910.9L1283.7 2010.2L1284 1947L1283.6 1961.5L1284 1778.4L1284.4 1778.4L1284.7 1961.5L1284.4 2055.1L1284.7 1890.6L1285 2027.2L1285.4 1830.2L1285.7 2093.1L1286 1811.4L1285.2 1951.6L1285.6 2128.7L1285.9 2128.7L1286.3 1951.6L1286.5 2098.8L1286.8 1846L1287.2 2073.1L1287.5 1854.7L1287.9 2079.9L1288.2 1918.1L1288.5 2035.5L1288.8 1863.6L1289.1 2015.3L1289.4 1910.4L1289.7 2071.4L1290 1852.8L1290.4 2072.4L1290.7 1890.6L1290.9 2068.2L1291.2 1804.8L1290.7 1942.5L1291.1 1749.1L1291.5 1749.1L1291.8 1942.5L1291.6 2063.9L1291.9 1925.1L1292.2 2065.9L1292.5 1881.7L1292.9 1996.1L1293.2 1778.2L1293.4 2046.7L1293.8 1809.8L1294.1 2014.5L1294.5 1764.3L1294.7 2059.9L1295.1 1772.3L1295.5 1961.1L1295.8 1790.9L1296 2088.1L1296.4 1815.9L1296.8 2096L1297.1 1846.6L1296.8 1968.3L1297.2 2105.6L1297.5 2105.6L1297.9 1968.3L1297.4 2075.7L1297.8 1851.9L1298 2053.6L1298.3 1860.1" fill="none" stroke="#231f20" stroke-width="1.85" stroke-linejoin="bevel"/>
<path d="M1301.3 2083.7L1301.6 1884.3L1301.9 2079.2L1302.3 1882.9L1302.7 2057.7L1303 1922.3L1303.3 2071.6L1303.6 1910.2L1304 2076L1304.3 1892.6L1304.6 2082.6L1304.9 1905.6L1305.2 2080L1305.5 1990.9L1305.8 2026.3L1306.1 1925.8L1306.5 2030.1L1306.9 1962.9L1307.2 2072.3L1307.5 1896.4L1308 2072.4L1308.3 1859.2L1308.7 2060.3L1309.1 1913.4L1308.2 1973.9L1308.6 1830.9L1308.9 1830.9L1309.3 1973.9L1309.5 2065L1309.8 1932.4L1310 2064.8L1310.4 1914.1L1310.8 2069.8L1311.1 1898.8L1311.4 2025L1311.7 1897L1311.9 2067.4L1312.2 1908.2L1311.6 1992L1312 1874.1L1312.3 1874.1L1312.7 1992L1312.5 2047.5L1312.8 1905.4L1313.1 2073.3L1313.5 1924.2L1313.9 2072.3L1314.2 1932.8L1314.5 2066.5L1314.8 1915.3L1315.2 2006.3L1315.6 1890.5L1315.8 2047.2L1316.2 1893.4L1316.5 2067.5L1316.9 1887.4L1316.5 1979L1316.9 2085.5L1317.3 2085.5L1317.6 1979L1317.3 2069.7L1317.6 1889.6L1317.9 2032.6L1318.2 1891.9L1318.5 2073.6L1318.9 1978.5L1318.4 1985.7L1318.8 1854L1319.1 1854L1319.5 1985.7L1319.3 2062.9L1319.6 1903L1319.9 2060.9L1320.2 1920.8L1320.4 2070.6L1320.7 1952.9L1321.1 2037.9L1321.5 1936.9L1321.7 2068.9L1322.1 1871.2L1321.5 1983.5L1321.9 1849.4L1322.2 1849.4L1322.6 1983.5L1322.3 2028.7L1322.6 1869.3L1322.9 2066.3L1323.2 1894L1323.5 2041.5L1323.8 1885.2L1324.3 2060.8L1324.6 1886L1325 2059.9L1325.4 1876.4L1325.6 1987L1325.9 1887.9L1325.2 1966.7L1325.6 1846.9L1325.9 1846.9L1326.3 1966.7L1326.2 2044.1L1326.5 1891.3L1326.7 2056.1L1327 1870.7L1326.4 1962.9L1326.8 2096.3L1327.2 2096.3L1327.5 1962.9L1327.5 2066.1L1327.8 1857.3L1328.1 2062.6L1328.4 1869.4L1328.8 2070.4L1329.1 1951.6L1329.4 2067.1L1329.7 1859.3L1330 2056.4L1330.4 1879.6L1330.7 2072.9L1331 1857.8L1330.1 1971.4L1330.5 1853.4L1330.9 1853.4L1331.2 1971.4L1331.2 2059.1L1331.5 1906.5L1331.8 2013.6L1332.1 1943.4" fill="none" stroke="#231f20" stroke-width="1.85" stroke-linejoin="bevel"/>
<path d="M1335.8 2068L1336.2 1940.4L1336.6 2028.2L1336.9 1945.3L1337.1 2069.7L1337.5 1949L1337.7 2063.9L1338.1 1951.9L1338.3 2048.7L1338.6 1984.2L1339 2070.8L1339.3 1980.8L1339.6 2065L1339.9 1997L1340.1 2058.5L1340.5 1920L1340.7 2074.5L1341 1945.3L1341.4 2072.3L1341.7 1921.3L1342 2019.2L1342.3 1934.1L1342.6 2066.8L1343 1907.8L1342.5 1992.4L1342.8 2077.8L1343.2 2077.8L1343.6 1992.4L1343.4 2063.5L1343.7 1939.6L1343.1 1997L1343.5 1871.6L1343.8 1871.6L1344.2 1997L1344.1 2070.2L1344.5 1966.6L1344.9 2021.9L1345.2 1983.4L1345.5 2058.8L1345.8 2011.1L1346.2 2049.1L1346.6 1962.5L1346.9 2070.8L1347.2 1982.9L1347.7 2059.3L1348 1974.8L1348.4 2074.7L1348.7 1994.8L1349.1 2074.7L1349.4 1988.5L1349.7 2053.1L1350.1 1997.7L1350.3 2066.2L1350.6 2005.5L1351.1 2070L1351.4 2023.8L1351.8 2072.1L1352.1 2032.7L1352.4 2069.7L1352.7 2000.9L1352.4 2036.2L1352.7 2087L1353.1 2087L1353.5 2036.2L1352.9 2085L1353.3 1997.7L1353 2025.6L1353.3 1847.8L1353.7 1847.8L1354.1 2025.6L1353.6 2066.6L1354 1983.2L1354.4 2075.4L1354.7 1979.2L1355 2072.8L1355.4 1927.5L1355.8 2060.6L1356.1 1907.3L1356.3 2061.5L1356.7 1895.1L1357.1 2021.2L1357.4 1884.5L1357.7 2072L1358.1 1874.5L1358.4 2049.2L1358.7 1930L1357.9 1981.3L1358.3 1857.7L1358.6 1857.7L1359 1981.3L1359.1 2046L1359.5 1888L1359.1 1983.3L1359.5 2099.4L1359.9 2099.4L1360.2 1983.3L1359.9 2032.9L1360.2 1929.5L1360.6 2084.3L1360.9 1907.3L1360.7 1998.3L1361.1 1845.7L1361.4 1845.7L1361.8 1998.3L1361.3 2076.3L1361.6 1924.6L1362 2069.6L1362.4 1963.1L1362.8 2053L1363.1 2002.8L1363.5 2075.8L1363.8 1963.2L1364.3 2070.2L1364.6 2016.4L1365.1 2065.6L1365.4 1958.2L1365.8 2071.5L1366.2 1948.5L1366.5 2078.6L1366.8 1953L1367.2 2037.9L1367.6 1950.9L1367.9 2075.1L1368.2 1992L1368.4 2083.2L1368.7 1944.4L1369 2085L1369.4 1938.8L1369 2008.7L1369.4 1891L1369.7 1891L1370.1 2008.7L1369.7 2026.7L1370 1982.8L1370.4 2083.6L1370.7 1986.3L1371.1 2076.6L1371.5 1974.9L1370.9 1999.8L1371.2 2117.9L1371.6 2117.9L1372 1999.8L1371.8 2073.2L1372.1 1919.8L1372.5 2094L1372.8 1918.6L1373.2 2021L1373.6 1940.8L1373.8 2075.6L1374.1 1949L1374.5 2045.7L1374.9 1912.2L1375.1 2069.6L1375.5 1948.6L1374.9 2013L1375.3 1851.5L1375.6 1851.5L1376 2013L1375.8 2058.9L1376.2 1888.5L1376.5 2063.7L1376.9 1972L1377.3 2035.7L1377.6 1981.3L1377.9 2074.1L1378.2 1979.1L1378.7 2077.3L1379 1976.2L1378.3 2024.5L1378.6 2080.9L1379 2080.9L1379.4 2024.5L1379.4 2071.6L1379.8 1988.8L1380.1 2060.6L1380.4 2000.2L1380.1 2031L1380.5 1954.3L1380.9 1954.3L1381.2 2031L1380.8 2059.9L1381.1 2002.5L1381.4 2070.8L1381.8 2033.7L1382.1 2076.7L1382.4 2028.5L1382.7 2074.3L1383.1 2016L1383.4 2058.1L1383.7 1993.3L1384 2067.7L1384.3 1982.3L1384.7 2075.9L1385 1996.2L1385.4 2037.2L1385.7 1970.3L1386.1 2060.2L1386.4 1956L1386.9 2068.5L1387.2 1958.8L1387.5 2073.2L1387.8 1952.6L1388 2071.1L1388.3 1955.9L1388.6 2074.2L1388.9 1953L1389.4 2079.9L1389.7 1965.8L1390 2032.3L1390.3 2000.5L1390 2026L1390.4 1883.3L1390.7 1883.3L1391.1 2026L1390.8 2093.6L1391.1 1971.1L1391.5 2085L1391.9 1952.1L1392.1 2077.7L1392.4 1973.9L1392.8 2062.9L1393.2 1952L1392.8 2016.8L1393.2 2105.6L1393.5 2105.6L1393.9 2016.8L1393.6 2089.5L1393.9 1956.4L1394.1 2081.4L1394.5 1932.6L1394.7 2088.1L1395 1950.3L1395.4 2087.3L1395.8 1918.5L1394.9 2004.7L1395.3 1908L1395.7 1908L1396 2004.7L1396.1 2016.9L1396.5 1911.7L1396.9 2069L1397.2 1918.5L1397.7 2092.3L1398 1923L1397.7 2010.2L1398.1 1855.6L1398.5 1855.6L1398.8 2010.2L1398.4 2041.7L1398.7 1929.1L1399.1 2059.8L1399.4 1952.5L1399.7 2091L1400.1 1945.2L1400.5 2090.2L1400.8 1945.4L1401 2091.6L1401.4 1945L1401.1 2016.8L1401.5 1925L1401.8 1925L1402.2 2016.8L1401.8 2093.4L1402.1 1989.1L1402.3 2089.5L1402.6 1951.2L1402.9 2093L1403.2 1969.8L1403.5 2093.9L1403.9 1933.3L1404.1 2092.3L1404.4 1928.7L1404.9 2098.6L1405.2 1925.1L1405.6 2099.7L1405.9 1922.3L1406.4 2100.6L1406.7 2012.8L1407.1 2101.5L1407.4 2006.4L1406.7 2031.4L1407 1918.8L1407.4 1918.8L1407.8 2031.4L1407.8 2102.4L1408.1 1989.6L1408.6 2103.4L1408.9 1983.9L1409.1 2098.5L1409.5 1963.7L1409.9 2096.7L1410.2 1929L1409.5 2008.3L1409.8 2105.6L1410.2 2105.6L1410.5 2008.3L1410.6 2089L1410.9 1920.5L1411.4 2093.7L1411.7 1917.9L1412.2 2041.4L1412.5 1917.8L1412.9 2085.6L1413.2 1919.5L1412.5 2000.8L1412.9 1878.7L1413.3 1878.7L1413.6 2000.8L1413.5 2078.7L1413.9 1946L1414.3 2069.5L1414.6 1916.2L1415.1 2076.3L1415.4 1916.1L1415.7 2078.1L1416.1 1934L1416.3 2083L1416.6 1965.1L1416.2 2017.6L1416.6 1891L1417 1891L1417.3 2017.6L1417 2056L1417.3 1992.6L1417.8 2084.3L1418.1 1984L1418.3 2084.7L1418.7 1972.8L1419.1 2073.4L1419.4 1943L1419.6 2086.8L1420 1920.4L1420.2 2065.8L1420.5 1926.4L1420.8 2081.4L1421.1 1923.8L1421.4 2069.7L1421.8 1959.6L1422.1 2081.2L1422.4 1946.9L1422.8 2082.1L1423.2 1980.1L1423.6 2081L1423.9 1975.4L1424.2 2091.7L1424.5 1981.6L1424.9 2090.9L1425.2 1990.6L1425.5 2091.8L1425.8 1999.5L1426 2077L1426.4 1999.5L1426.1 2042.7L1426.5 2117.9L1426.8 2117.9L1427.2 2042.7L1426.7 2086L1427.1 2002.5L1427.5 2101.5L1427.8 2000.2L1427 2035.6L1427.4 1935.8L1427.8 1935.8L1428.1 2035.6L1428.2 2101.8L1428.6 1977.7L1428.8 2102.6L1429.1 2008.2L1429.6 2078L1429.9 1940.9L1430.3 2082.5L1430.6 1985L1430.4 2023.2L1430.8 1929.6L1431.2 1929.6L1431.5 2023.2L1431 2074.8L1431.4 1974L1431.6 2066.3L1432 1990.3L1432.2 2063.2L1432.6 1991.2L1432.9 2070.6L1433.3 1988.5L1433.5 2053.8L1433.8 1976.2L1433.5 2015.8L1433.9 1867L1434.3 1867L1434.6 2015.8L1434.1 2063.4L1434.4 1990.5L1434.9 2072.2L1435.2 1930.5L1435.4 2074.1L1435.8 1942L1436 2078.3L1436.3 1932L1436.6 2078.9L1436.9 1990.2L1437.3 2068.6L1437.6 2007.4L1436.9 2012.7L1437.3 2124.1L1437.6 2124.1L1438 2012.7L1438 2068.4L1438.3 1963.3L1438.6 2082.8L1438.9 1977.3L1439.2 2059L1439.5 1979.8L1439.9 2067L1440.3 2009.1L1440.6 2039L1441 1991.9L1441.3 2063.5L1441.7 1999.3L1442 2048.9L1442.4 2001.7L1442.6 2047.8L1442.9 2027.7L1443.1 2059.7L1443.5 2017.5L1443.8 2068.8L1444.1 2014.2L1444.4 2073.6L1444.7 2014.8L1445.1 2076.2L1445.4 2019.9L1445.9 2080.2L1446.2 2021L1446.5 2078.2L1446.9 2021.7L1446.2 2052L1446.5 2093.2L1446.9 2093.2L1447.3 2052L1447.1 2076.5L1447.5 2024.4L1447.7 2080.8L1448 2051.5L1447.7 2061.1L1448.1 2014.5L1448.5 2014.5L1448.8 2061.1L1448.3 2081.8L1448.6 2037.5L1449.1 2095.5L1449.4 2044L1449.8 2077.3L1450.1 2065.2L1449.9 2059L1450.3 2125.6L1450.6 2125.6L1451 2059L1450.5 2079.4L1450.9 2041.4L1451.3 2080.9L1451.6 2037.1L1452 2081.8L1452.4 2002.8L1452 2040.3L1452.4 2127.2L1452.8 2127.2L1453.1 2040.3L1452.7 2118.7L1453 2001.8L1453.4 2074.3L1453.7 1987.1L1453 2038.3L1453.3 1951.2L1453.7 1951.2L1454.1 2038.3L1454.2 2078.7L1454.5 2008.8L1454.7 2059.7L1455 1994.5L1455.3 2073.4L1455.6 1960.8L1454.8 2035.6L1455.2 1942L1455.6 1942L1455.9 2035.6L1456 2067.6L1456.4 1993.5L1456.6 2076.3L1457 1990.9L1457.3 2080.6L1457.6 1992.1L1457.9 2049.3L1458.2 1993.3L1458.6 2067.5L1458.9 1999.4L1459.4 2071.2L1459.7 2041.9L1459.9 2070.7L1460.3 2042.5L1460.5 2068.5L1460.9 2036.9L1461.2 2064.4L1461.6 2034.9L1461.9 2061.3L1462.2 2006.9L1462.6 2048.6L1463 2014.7L1462.5 2040.3L1462.9 2004.6L1463.3 2004.6L1463.6 2040.3L1463.2 2067.4L1463.5 2006.2L1463.8 2067.7L1464.1 2030.1L1464.5 2065.8L1464.8 2039.2L1465 2073L1465.4 2043.2L1465.8 2067.7L1466.1 2014.1L1466.6 2059L1466.9 2035.6L1467.2 2081.1L1467.5 2041.8L1467.2 2054L1467.5 1989.8L1467.9 1989.8L1468.3 2054L1467.8 2081.5L1468.1 2014.8L1468.3 2065.2L1468.6 2045.4L1468.1 2055.6L1468.5 2121L1468.8 2121L1469.2 2055.6L1469 2071.3L1469.3 2038.1L1469.7 2061.4L1470 2025.6L1470.2 2041.6L1470.5 2008.4L1470.7 2057L1471.1 1978.3L1471.4 2023.3L1471.8 1952.3L1472.1 2047.7L1472.4 1802.3L1472.1 1904.2L1472.5 2096.3L1472.8 2096.3L1473.2 1904.2L1472.9 2003.6L1473.2 1761.7L1473.5 2049.2L1473.8 1705.4L1473.3 1871.2L1473.7 1554.6L1474.1 1554.6L1474.4 1871.2L1474 2002.1L1474.4 1773.9L1474.8 2039.4L1475.1 1633.1L1475.5 2014.4L1475.8 1729.7L1476 2064.8L1476.3 1818.9L1476.7 2048.3L1477.1 1670.7L1477.3 2075.9L1477.6 1703.4L1478 2076.7L1478.3 1840.7L1478.6 2016.5L1479 1826.9L1478.3 1881.9L1478.6 1560.8L1479 1560.8L1479.4 1881.9L1479.3 2056.2L1479.7 1855.1L1479.9 1986.3L1480.2 1783.8L1480.6 2024.7L1481 1738.5L1481.4 2043.3L1481.7 1839.8L1482 2069.1L1482.3 1905L1482.7 2070.2L1483 1859.2L1483.4 2071.1L1483.7 1913.6L1482.9 1992.1L1483.3 1722.8L1483.6 1722.8L1484 1992.1L1484.1 2038L1484.5 1947.7L1484.7 2079.9L1485 1979.5L1485.4 2082.1L1485.7 1957.8L1485.9 2071.6L1486.2 1926.4L1486.5 2066.1L1486.8 2018.7L1487.3 2087.1L1487.6 2015.3L1488 2080.6L1488.4 2028.1L1488.8 2083.2L1489.1 2041.4L1489.4 2077.6L1489.8 2047.8L1489.3 2070.1L1489.6 2104L1490 2104L1490.4 2070.1L1490 2080.7L1490.3 2057L1490.5 2075.8L1490.9 2066" fill="none" stroke="#231f20" stroke-width="1.85" stroke-linejoin="bevel"/>
<path d="M1494.4 2110.2L1494.8 2034.7L1495.1 2101.4L1495.4 2033.2L1495.9 2102.1L1496.2 2031.7L1496.4 2095.4L1496.7 2029.7L1497 2115.2L1497.4 2001.2L1496.7 2028L1497 2122.5L1497.4 2122.5L1497.8 2028L1497.6 2105.1L1497.9 1936.5L1498.3 2094.2L1498.6 1918.6L1498.9 2042.3L1499.2 1868.9L1499.6 2118L1500 1844.1L1499.1 1971.4L1499.5 2125.6L1499.9 2125.6L1500.2 1971.4L1500.3 2021L1500.7 1970.3L1501.1 2087.5L1501.4 1877L1501.6 2088.9L1502 1886.1L1502.4 2046.5L1502.7 1882.5L1503 2088.6L1503.3 1973.1L1502.5 1982.7L1502.9 1630.9L1503.3 1630.9L1503.6 1982.7L1503.6 2092.5L1503.9 1848.5L1504.2 2046L1504.5 1905.5L1504.8 2097.7L1505.1 1922.5L1505.4 2113.9L1505.7 1850L1505.9 2126.8L1506.2 1848.2L1506.6 2092L1507 1844.1L1507.4 2150.9L1507.7 1877.6L1508.1 2156.4L1508.4 1893.3L1507.8 1965.3L1508.2 1679.6L1508.5 1679.6L1508.9 1965.3L1508.8 2168.8L1509.1 1756.6L1508.4 1953.5L1508.8 2171L1509.1 2171L1509.5 1953.5L1509.4 2137.5L1509.7 1739.7L1510.1 2122L1510.4 1730L1510.8 2151.3L1511.1 1849.8L1510.6 1969.6L1510.9 1718.2L1511.3 1718.2L1511.7 1969.6L1511.4 2136.7L1511.7 1910.9L1512 2104.3L1512.3 1918.5L1512.6 2100.1L1513 1888.3L1513.3 2100.4L1513.6 1928.1L1513.9 2047.2L1514.3 1838.8L1514 1956.9L1514.3 2111.7L1514.7 2111.7L1515.1 1956.9L1514.5 2091.8L1514.8 1834.3L1515 2089.1L1515.4 1799.5L1515.8 1984.7L1516.1 1775.8L1516.4 1965.4L1516.8 1850.9L1517.2 2093.4L1517.5 1790.7L1517.4 1954.9L1517.7 1736.1L1518.1 1736.1L1518.5 1954.9L1518 2091.9L1518.3 1800.9L1518 1963.3L1518.3 2138L1518.7 2138L1519.1 1963.3L1518.7 2081.1L1519 1839.9L1519.2 2099.7L1519.6 1960.6L1520 2081.6L1520.3 1858L1520.5 2077.9L1520.8 1880.1L1521.1 2085.8L1521.4 1852.9L1520.7 1977.5L1521.1 1814.2L1521.5 1814.2L1521.8 1977.5L1521.7 2095.8L1522.1 1848.4L1522.3 2097.3L1522.7 1861.5L1523.1 2099.3L1523.4 1961.6L1523.8 2096.7L1524.2 1963.2L1523.8 2009.9L1524.2 1830.9L1524.6 1830.9L1524.9 2009.9L1524.5 2097.7L1524.9 1967.2L1525.2 2096.8L1525.5 1948.3L1525.7 2095.7L1526 1968.5L1526.5 2087.1L1526.8 1984.3L1527.2 2078L1527.5 1987.4L1527.8 2082.9L1528.1 1994.9L1528.4 2078L1528.7 1984.7L1528.9 2057.5L1529.2 2020.5L1529.6 2087.5L1529.9 1957L1530.3 2092.5L1530.6 1992.9L1530 2048.5L1530.4 1796.9L1530.7 1796.9L1531.1 2048.5L1531 2096.4L1531.4 2002.2L1531.7 2095.2L1532 2037.8L1532.4 2092.3L1532.7 2013.6L1533.1 2093L1533.4 2040.7L1533.8 2090.1L1534.1 2030L1534.4 2083L1534.7 2003.4L1535.1 2060.5L1535.4 2022.9L1535.3 2051.5L1535.6 1973.8L1536 1973.8L1536.4 2051.5L1535.9 2081.4L1536.2 2013.7L1536.5 2086.9L1536.9 1992.4L1537.1 2091L1537.4 2013.7L1537.8 2094.2L1538.2 2015.9L1538.6 2070.4L1538.9 2025.4L1539.3 2107.5L1539.6 2021L1539.9 2103.7L1540.2 2032.1L1540.6 2107.5L1540.9 2039.4L1541.2 2116L1541.5 2039.3L1541.9 2113.9L1542.2 2009L1542.5 2081.8L1542.8 1987L1542.4 2043.1L1542.7 2124.1L1543.1 2124.1L1543.5 2043.1L1543.3 2120.1L1543.6 1970.8L1543.9 2109.5L1544.3 1931.5L1544.7 2104.9L1545 1902.4L1545.4 2103.6L1545.8 1888.7L1546.1 2111.9L1546.5 1866.3L1545.7 1995.1L1546.1 1840.1L1546.5 1840.1L1546.8 1995.1L1546.8 2122.2L1547.1 1908.1L1547.4 2081.8L1547.7 1883L1547.3 1986L1547.7 2130.2L1548 2130.2L1548.4 1986L1548 2007L1548.3 1832.9L1548.6 2068.4L1548.9 1795.3L1549.3 2120.1L1549.7 1663.2L1549.9 2082.5L1550.2 1668.6L1549.8 1907.3L1550.1 1655.9L1550.5 1655.9L1550.9 1907.3L1550.5 2113.9L1550.9 1731.4L1551.3 2108.7L1551.6 1700.2L1552 2110L1552.3 1839.6L1552.6 2056.7L1552.9 1879.6L1552.2 1984.4L1552.6 2133.3L1553 2133.3L1553.3 1984.4L1553.1 2098.1L1553.5 1921.5L1553.7 2087.9L1554 1928.1L1554.3 2085L1554.7 1845.7L1555 2065.7L1555.4 1772.3L1555.6 2081.3L1555.9 1748L1556.2 2080.2L1556.5 1773.9L1555.9 1927.3L1556.3 1688.9L1556.7 1688.9L1557 1927.3L1557 2055.2L1557.3 1731.9L1557.6 1971.6L1557.9 1755.8L1557.2 1928.1L1557.5 2114.8L1557.9 2114.8L1558.3 1928.1L1558.3 2075.3L1558.6 1818.3L1558.9 2060.9L1559.2 1907.1L1559.5 2081.6L1559.8 2011.5L1560.2 2083.8L1560.6 1977.5L1560.8 2089.5L1561.2 1959.1L1561.5 2095L1561.8 1958.8L1562.3 2083.7L1562.6 1980.4L1562.1 2023.8L1562.5 2117.9L1562.8 2117.9L1563.2 2023.8L1562.9 2107.8L1563.2 1970.2L1563.5 2038.8L1563.8 1959.1L1564 2090.1L1564.3 1985.7L1564.8 2064.7L1565.1 1964.4L1565.5 2087.6L1565.9 1954.3L1566.2 2088.4L1566.6 1972.6L1566.1 2029.5L1566.5 1767.6L1566.8 1767.6L1567.2 2029.5L1567 2085.6L1567.4 1972.2L1567.7 2075.4L1568 2021.8L1568.3 2070.5L1568.6 1990.7L1568.9 2062.2L1569.2 1977.4L1569.5 2083L1569.8 1966.1L1570.1 2035.1L1570.4 1966.7L1570.8 2066L1571.1 1964.6L1571.3 2073.4L1571.7 1963.4L1572.1 2075.9L1572.4 1958.5L1572.6 2074.6L1572.9 1997.6L1572.6 2018.9L1573 1880.2L1573.3 1880.2L1573.7 2018.9L1573.2 2073.9L1573.5 1922.4L1573.9 2068.8L1574.3 1939.7" fill="none" stroke="#231f20" stroke-width="1.85" stroke-linejoin="bevel"/>
<path d="M1578 2074.8L1578.3 1966.9L1578.6 2078.9L1578.9 1963.5L1579.3 2074L1579.7 1954.2L1579.4 2033.9L1579.8 1913.3L1580.1 1913.3L1580.5 2033.9L1579.4 2033.9L1579.8 2102.5L1580.1 2102.5L1580.5 2033.9L1580.1 2077.6L1580.4 1926.3L1580.8 2096.6L1581.1 1961.9L1581.3 2100.1L1581.7 1984.8L1581.9 2091.1L1582.3 1970L1582.5 2093L1582.9 1972.5L1583.1 2095.1L1583.4 2013.6L1583.8 2092.6L1584.1 1974.9L1584.4 2090.9L1584.7 1981.1L1584.3 2039.5L1584.7 2102.5L1585.1 2102.5L1585.4 2039.5L1585.1 2061.3L1585.4 1989.4L1585.6 2090.2L1586 1992L1586.3 2083L1586.6 1953L1587 2085.1L1587.3 1972.8L1586.8 2023.2L1587.2 1877.8L1587.5 1877.8L1587.9 2023.2L1587.6 2082.4L1587.9 1936.3L1588.2 2077.8L1588.5 1949.1L1588.8 2091.3L1589.2 1936.9L1589.6 2093.6L1589.9 2009.9L1590.2 2093.3L1590.5 1970.2L1590.9 2082.7L1591.2 1998.5L1590.8 2034.6L1591.2 2154.9L1591.5 2154.9L1591.9 2034.6L1591.7 2089.4L1592 1982.5L1592.3 2058.3L1592.7 1981.1L1592.4 2035.5L1592.7 1954.9L1593.1 1954.9L1593.5 2035.5L1593.1 2066.1L1593.4 1974.6L1593.8 2080L1594.2 2001.8L1594.5 2078.3L1594.9 1998.2L1595.1 2076.9L1595.5 1982.8L1595.7 2075.4L1596 1959.8L1596.3 2075.4L1596.6 1936.4L1596.8 2062.4L1597.1 1924.5L1597.5 2078.6L1597.9 1897.7L1598.1 2028.8L1598.4 1951.4L1597.9 2006.8L1598.3 1871L1598.6 1871L1599 2006.8L1598.9 2079.3L1599.2 1949.1L1599.4 2085.7L1599.8 1929.1L1600 2071.7L1600.3 1932.1L1600.6 2088.1L1600.9 1940.3L1601.1 2083.6L1601.5 1933.7L1601.8 2068.8L1602.1 1928.9L1602.5 2090.1L1602.9 1922.1L1603.1 2036.2L1603.5 1959.8L1603.9 2098.2L1604.2 1929.1L1603.5 2013L1603.8 1904.3L1604.2 1904.3L1604.6 2013L1604.5 2096.7L1604.8 1925.2L1605.1 2095.1L1605.4 1975.6L1605.7 2093.6L1606.1 1952.7L1606.4 2095.2L1606.7 1929.2L1607 2088.9L1607.3 1925.2L1607.8 2030.6L1608.1 2005.2L1608.4 2096.1L1608.7 1956.8L1608.9 2098.4L1609.3 1976.1L1609.5 2093.9L1609.8 1983.2L1610.2 2102.5L1610.6 1924.4L1609.9 2019.9L1610.3 1848.8L1610.7 1848.8L1611 2019.9L1611 2054L1611.3 2024.6L1611.8 2096.9L1612.1 2005.5L1612.4 2081.8L1612.7 1998.6L1613 2073.4L1613.3 1969.5L1613.6 2094.5L1613.9 1983.2L1614.3 2096.9L1614.6 1916.5L1615 2096.3L1615.3 1966.5L1615.7 2099L1616 1920.3L1616.2 2097.5L1616.6 1996.1L1616.4 2009.7L1616.8 1782.1L1617.2 1782.1L1617.5 2009.7L1617 2101.1L1617.3 1970.5L1617.7 2108.7L1618 1981.6L1617.4 2010.6L1617.7 2130.2L1618.1 2130.2L1618.5 2010.6L1618.5 2089.4L1618.8 1914L1619 2112.8L1619.4 2010.9L1619.6 2063.6L1619.9 1953.2L1620.2 2109.6L1620.5 1966.5L1620.8 2101L1621.1 2006.8L1621.4 2090.4L1621.8 1951.6L1622.2 2073L1622.5 1922.5L1621.7 2010.1L1622 1822.2L1622.4 1822.2L1622.8 2010.1L1622.8 2061.1L1623.2 1938.9L1623.4 2069.4L1623.8 1937.7L1624.1 2069.8L1624.4 1934L1624.8 2038.4L1625.1 1891.2L1625.6 2018.9L1625.9 1928.5L1625.1 1999.5L1625.4 1857.1L1625.8 1857.1L1626.2 1999.5L1626.1 2072.1L1626.4 1997.8L1626.8 2067.4L1627.2 1934.3L1626.9 2005.7L1627.3 2127.2L1627.6 2127.2L1628 2005.7L1627.6 2063.9L1627.9 1994.4L1628.3 2056.5L1628.6 1987.5L1628.2 2007.5L1628.5 1844.8L1628.9 1844.8L1629.3 2007.5L1629 2074.8L1629.4 1968.4L1629.8 2073.6L1630.1 1934.2L1630.4 2083.6L1630.7 1985.9L1631 2085L1631.3 1970.7L1630.6 2010.6L1631 1730.6L1631.4 1730.6L1631.7 2010.6L1631.8 2055.4L1632.1 1951.9L1632.5 2069.8L1632.8 1936.1L1633.2 2076.2L1633.5 1955.3L1633.9 2058.1L1634.2 1901.6L1634.5 2026.3L1634.9 1866.4L1635.2 2079.4L1635.5 1932.6L1636 2083.4L1636.3 1854.6L1635.6 1956.4L1635.9 1726.9L1636.3 1726.9L1636.7 1956.4L1636.8 2087.1L1637.1 1779.9L1637.5 2088L1637.8 1783.6L1638.2 2036.7L1638.5 1803.2L1638.8 2089.6L1639.1 1828.3L1639.4 2066.2L1639.7 1869.9L1640.2 2092.5L1640.5 1883.5L1640.7 2089.7L1641 1962.6L1640.2 1992.4L1640.6 1844.8L1640.9 1844.8L1641.3 1992.4L1641.4 2095.6L1641.7 1918L1642.1 2098L1642.5 2003.5L1642.8 2089.6L1643.1 1878.1L1643.4 2014.4L1643.7 1897L1643 1985L1643.3 1798.5L1643.7 1798.5L1644.1 1985L1644 2014.8L1644.3 1852.2L1643.9 1969.3L1644.3 2131.8L1644.6 2131.8L1645 1969.3L1644.5 2125.7L1644.9 1938.4L1645.1 2084.9L1645.4 1828.1L1645.7 2062.1L1646 1853.1L1646.4 2036.9L1646.7 1880.8L1647.2 2037L1647.5 1843L1647.7 2084.7L1648.1 1855.8L1647.6 1967.6L1648 1753.7L1648.3 1753.7L1648.7 1967.6L1648.3 2071.1L1648.7 1844L1649 2048.7L1649.3 1821.2L1649.7 2012L1650 1817.9L1650.5 2022.7L1650.8 1888.3L1651.2 2036.9L1651.6 1972.2L1652 2060.1L1652.4 1921.7L1652.6 2014.9L1652.9 1885.9L1653.2 2069.9L1653.6 1875.6L1653.8 2022.2L1654.2 1894.2L1654.4 2088.3L1654.7 1927.7L1654.1 1990.2L1654.4 1856.5L1654.8 1856.5L1655.2 1990.2L1655.1 2089.6L1655.4 1895.1L1655.8 2072.1L1656.2 1900.1L1655.9 1997.3L1656.3 2096.3L1656.7 2096.3L1657 1997.3L1656.5 2083.5L1656.9 1987.5L1657.2 2047.7L1657.5 1910.5L1657.9 2067.7L1658.2 1917.2L1657.5 1996.2L1657.8 1884.9L1658.2 1884.9L1658.6 1996.2L1658.4 2076.8L1658.7 1919.3L1659 2046.4L1659.4 1911.2L1659.6 2014.1L1659.9 1878L1659.6 1970.5L1660 2105.6L1660.4 2105.6L1660.7 1970.5L1660.4 2079L1660.7 1894.6L1660.3 1953.9L1660.6 1671.3L1661 1671.3L1661.4 1953.9L1661 2071L1661.3 1883.4L1661.6 2073.2L1661.9 1790L1662.2 2075.4L1662.5 1723.4L1662.8 2016.1L1663.1 1766.7L1663.5 2063.8L1663.9 1825.2L1664.2 2088.5L1664.6 1856.9L1664 1909.2L1664.3 2093.2L1664.7 2093.2L1665.1 1909.2L1664.9 2064.5L1665.3 1889.4L1665.6 2082.3L1666 1792.3L1666.3 2067L1666.6 1785.7L1667 1985L1667.3 1818.1L1667.8 2066.8L1668.1 1834.7L1668.5 2070.8L1668.9 1843.1L1669.2 2024.3L1669.5 1862.4L1669.8 2031L1670.1 1914.9L1670.4 2066.3L1670.7 2004L1671.1 2061.7L1671.4 2008.8L1671.7 2062.4L1672 1959.9L1672.3 2020.3L1672.7 1925.4L1672.9 2072.6L1673.2 1914.5L1673.6 2030.9L1673.9 1969.4L1673.8 1994.7L1674.2 1895.7L1674.6 1895.7L1674.9 1994.7L1674.4 2049.9L1674.7 1943.7L1675 2024.7L1675.3 1925.1L1675.7 2045.8L1676 1968.7L1675.3 1996.5L1675.6 1894.8L1676 1894.8L1676.4 1996.5L1676.2 2075.1L1676.6 1960.4L1676.8 2056.7L1677.1 1969.1L1676.8 1999L1677.2 2093.2L1677.5 2093.2L1677.9 1999L1677.4 2073.9L1677.8 1920.9L1678 2034.9L1678.3 1920L1678.7 2080.5L1679 1959.8L1678.6 2005.2L1679 1914.2L1679.4 1914.2L1679.7 2005.2L1679.4 2051L1679.7 1942.8L1680 2074L1680.4 1928.9L1680.7 2085.2L1681 2005.8L1681.3 2070.1L1681.7 2001.4L1681.9 2089.6L1682.2 1945.8L1682.5 2058.2L1682.9 1876.6L1683.3 2090L1683.6 1873.4L1683.8 2085.5L1684.2 1932.6L1684.4 2086.2L1684.8 1871.2L1684.2 1980.8L1684.6 2093.2L1684.9 2093.2L1685.3 1980.8L1685 2069.9L1685.4 1872L1684.8 1980.5L1685.2 1779.9L1685.6 1779.9L1685.9 1980.5L1685.7 2075.9L1686 1819.2L1686.3 2090.1L1686.7 1964.3L1686.9 2088.9L1687.2 1871.8L1687.6 2063.8L1688 1861.3L1688.3 2081.2L1688.6 1833.7L1687.9 1975L1688.3 1826.2L1688.6 1826.2L1689 1975L1689 2083.1L1689.3 1840.6L1689.7 2080.9L1690 1888.2L1690.3 2080.9L1690.7 1901.5L1691.1 2069.8L1691.4 1837.5L1691.7 2080.9L1692 1821.5L1692.3 2077.1L1692.6 1840.6L1692.9 2068.2L1693.3 1920.7L1693.6 2065.5L1694 1898.6L1694.2 2058.7L1694.5 1813.4L1694.9 2077.9L1695.2 1939.2L1695.6 2078.3L1696 1866.9L1695.3 1964.1L1695.7 1760.5L1696 1760.5L1696.4 1964.1L1696.2 2066.4L1696.5 1859.6L1697 2063.2L1697.3 1906.7L1697.8 2038.6L1698.1 1892.5L1698.3 2050.6L1698.6 1970.3L1699 2035L1699.3 1901.8L1699.6 2074.7L1699.9 1902.4L1700.2 2073.9L1700.6 1902.8L1700.3 1988.3L1700.6 1891L1701 1891L1701.4 1988.3L1700.8 2062.4L1701.2 1903.5L1701.5 2018.7L1701.9 1907.9L1702.3 2062.2L1702.7 1915.5L1703 2072.3L1703.3 1932.5L1703.7 2042L1704.1 1934.6L1704.3 2074.5L1704.6 1944.5L1705 2064.2L1705.4 1940.8L1705.7 2073L1706 1920.9L1706.4 2074.2L1706.7 1908.8L1706.4 1988.7L1706.8 2087L1707.2 2087L1707.5 1988.7L1707.1 2079.1L1707.4 1926.5L1707.7 2043.4L1708 1888.7L1708.3 2027.8L1708.6 1880.3L1709 2079.7L1709.3 1883.6L1709.7 2074.5L1710 1888L1709.5 1984.3L1709.9 1834.6L1710.2 1834.6L1710.6 1984.3L1710.4 2045.1L1710.7 1900.6L1711 2055.4L1711.3 1901.7L1710.7 1986.2L1711.1 2088.6L1711.5 2088.6L1711.8 1986.2L1711.6 2080.2L1711.9 1895.3L1712.3 2078.7L1712.6 1911.2L1713 2075.9L1713.4 1927.3L1713.8 2061.6L1714.1 1914.3L1714.4 2032.1L1714.7 1896.2L1714.1 1983.1L1714.5 1854L1714.9 1854L1715.2 1983.1L1714.9 2070L1715.2 1910.7L1715.5 2053.1L1715.8 1866.4L1716.1 2055.1L1716.5 1857.4L1716.8 2066.6L1717.2 1851.5L1717.5 2021.2L1717.8 1842.9L1718.1 2067L1718.4 1837.2L1718.9 2060.7L1719.2 1876.2L1719.6 2004L1720 1841L1719.7 1955L1720.1 1825.3L1720.4 1825.3L1720.8 1955L1720.4 2069L1720.7 1841.2L1721.2 2071.6L1721.5 1855.3L1721.8 2073.9L1722.2 1843.4L1722.5 2068.7L1722.9 1846.4L1722.5 1960L1722.8 2088.6L1723.2 2088.6L1723.6 1960L1723.1 2031.9L1723.5 1879.4L1723.7 2068.5L1724 1851.6L1724.3 2062.6L1724.6 1952.9L1725 2051.2L1725.3 1852L1725.6 2069.8L1726 1877.6L1726.2 2072.5L1726.6 1861.1L1726.8 2015.6L1727.1 1860.1L1727.5 2069.5L1727.8 1852.1L1728.1 2073.2L1728.5 1847.3L1728.7 2071.7L1729 1841.7L1728.6 1957.8L1729 1808L1729.4 1808L1729.7 1957.8L1729.5 2062.5L1729.8 1846.5L1730.2 2071.9L1730.6 1946L1730.9 2031.7L1731.2 1855.4L1731.5 2029.5L1731.8 1875.8L1732.1 2071.6L1732.4 1922.2L1732.6 2071.6L1732.9 1933.7L1733.1 2072.7L1733.5 1926.4L1733.8 2064.4L1734.1 1965.9L1734.4 2060.7L1734.7 1894.1L1734.2 1981.4L1734.6 2090.1L1734.9 2090.1L1735.3 1981.4L1734.9 2052.2L1735.3 1893.8L1735.5 2066L1735.9 1897.6L1736.2 2065L1736.5 1968.7L1736.8 2062.5L1737.2 1898.9L1737.4 2061.6L1737.7 1903.1L1738.1 2059.7L1738.4 1913L1738.8 2066.6L1739.2 1955.9L1739.5 2059L1739.8 1934.4L1740.2 2073.4L1740.5 1951.6L1740.8 2054.8L1741.1 1938.6L1741.5 2078.3L1741.8 1926.6L1742 2078.6L1742.4 1900.9L1741.6 1996.4L1742 1878.7L1742.3 1878.7L1742.7 1996.4L1742.7 2065.9L1743 1904.5L1743.2 2035.3L1743.5 1903.8L1743.8 2081.2L1744.1 1902.7L1744.4 2080.4L1744.8 1920.2L1744.1 2008.7L1744.4 2108.6L1744.8 2108.6L1745.2 2008.7L1745.1 2098.4L1745.5 1956.1L1745.9 2090.1L1746.3 1909.8L1745.9 1997.5L1746.3 1840.7L1746.7 1840.7L1747 1997.5L1746.7 2095.1L1747 1921.2L1747.4 2095.7L1747.7 1878.5L1748.2 2032.3L1748.5 1961.6L1748.9 2093.4L1749.2 1868.8L1749.4 2057L1749.8 1873.9L1749 1982.6L1749.4 2093.2L1749.7 2093.2L1750.1 1982.6L1750.1 2077.1L1750.5 1909.1L1750.9 2066.9L1751.2 1897.9L1751.4 2082.7L1751.8 1908.3L1752.1 2080.9L1752.4 1910.8L1752.7 2081.7L1753 1906.8L1753.3 2069.1L1753.6 1975.9L1754 2069.1L1754.3 1932.8L1754.6 2080.7L1754.9 1899.8L1755.4 2083.4L1755.7 1918.3L1756 2080.4L1756.4 1866.7L1756.7 2044.7L1757 1856.4L1756.4 1974.6L1756.8 2087L1757.2 2087L1757.5 1974.6L1757.5 2085.5L1757.8 1885.1L1758.1 2078.7L1758.4 1936.9L1758 1974.4L1758.3 1834L1758.7 1834L1759.1 1974.4L1758.7 2019.3L1759.1 1965.4L1759.5 2069.8L1759.8 1934.2L1760 2081.6L1760.3 1912.6L1760.7 2082.5L1761.1 1923.1L1761.3 2045.5L1761.6 1912.6L1762 2084.2L1762.4 1875.1L1762.6 2024.2L1762.9 1956.3L1763.3 2046.6L1763.7 1926.1L1764.1 2084.9L1764.5 1995.4L1763.8 2011.4L1764.2 2090.1L1764.6 2090.1L1764.9 2011.4L1764.7 2075.1L1765 1977.8L1765.3 2077.6L1765.6 1983.6L1765.1 2011.8L1765.4 1904.9L1765.8 1904.9L1766.2 2011.8L1765.9 2070.6L1766.3 1978.5L1766.6 2072.9L1767 1937.2L1767.2 2071.1L1767.5 1987.3L1767.8 2056.5L1768.1 1983.3L1768.5 2064.5L1768.8 1961.7L1769.2 2039.8L1769.5 1968.1L1769.9 2060.5L1770.2 2001.7L1770.6 2060L1770.9 1989.5L1771.3 2054.6L1771.6 2021.9L1772.1 2060.6L1772.4 2010.2L1772.8 2076.6L1773.1 1978.6L1772.8 2031.4L1773.2 1958.3L1773.5 1958.3L1773.9 2031.4L1773.6 2088.6L1773.9 1980.3L1773.1 2032L1773.5 2097.8L1773.8 2097.8L1774.2 2032L1774.3 2087.5L1774.7 1997.6L1775 2069.5L1775.3 2030.4L1775.7 2066.9L1776 1994.1L1776.5 2084.3L1776.8 1990.4L1777.1 2078.6L1777.4 1986.4L1777.8 2081.9L1778.1 1996.6L1777.7 2043.2L1778.1 1947.2L1778.5 1947.2L1778.8 2043.2L1778.3 2080.6L1778.7 2026.7L1778 2045.5L1778.4 2105.6L1778.8 2105.6L1779.1 2045.5L1779.1 2080.8L1779.4 2027.6L1779.8 2081L1780.1 2022.5L1780.6 2084L1780.9 2020.5L1781.2 2031.3L1781.5 1944.6L1781.8 2089.6L1782.1 1924.8L1782.4 2085.9L1782.7 1913.5L1782.9 2093.2L1783.2 1915.5L1783 2002.5L1783.3 1898.8L1783.7 1898.8L1784.1 2002.5L1783.7 2073.9L1784 1913.1L1784.5 2080.7L1784.8 1914L1785 2079.5L1785.4 1936.6L1784.5 1998.1L1784.9 2110.2L1785.2 2110.2L1785.6 1998.1L1785.7 2062.1L1786 1907.8L1786.3 2075.8L1786.7 1899.8L1787 2080.7L1787.4 1891.6L1786.7 1982.7L1787 2102.5L1787.4 2102.5L1787.8 1982.7L1787.6 2064.8L1788 1916.7L1788.3 2067.9L1788.6 1884.7L1788.9 2064.2L1789.3 1881.6L1789.1 1971.3L1789.5 1865.4L1789.9 1865.4L1790.2 1971.3L1789.7 2051.9L1790 1870.8L1790.3 2047.3L1790.6 1938.3L1791 2055.3L1791.3 1871.8L1791.6 2041L1792 1877.2L1792.3 2066.7L1792.7 1901.9L1792.2 1988.3L1792.6 1871.6L1793 1871.6L1793.3 1988.3L1793.1 2077.2L1793.4 1939.7L1793.7 2074.6L1794 1915.7L1794.3 2068.9L1794.6 1931.9L1794.1 2011.4L1794.4 2108.6L1794.8 2108.6L1795.2 2011.4L1794.9 2081.9L1795.2 1938.2L1795.4 2087.1L1795.7 1963L1796.1 2089.7L1796.4 2002.7L1796.6 2089L1796.9 1986.5L1796.2 2019.5L1796.6 1922.5L1797 1922.5L1797.3 2019.5L1797.2 2096.7L1797.5 2000.8L1797.9 2093L1798.2 1948.3L1798.7 2096.3L1799 1947.3L1799.4 2099.5L1799.7 1945.5L1800 2104.8L1800.3 1970.3L1799.6 2024.3L1800 1915.7L1800.4 1915.7L1800.7 2024.3L1800.7 2101.9L1801.1 1950.3L1801.3 2063.5L1801.7 1936.5L1800.9 2022.3L1801.2 2108.6L1801.6 2108.6L1802 2022.3L1802.1 2097.4L1802.4 1971.1L1802.7 2103.8L1803 1947L1803.2 2083.1L1803.5 1948.5L1803.3 2028.3L1803.7 1862.7L1804.1 1862.7L1804.4 2028.3L1803.9 2083.5L1804.2 1915.4L1804.7 2101.3L1805 1967.2L1805.3 2094.8L1805.6 2014.5L1806 2095.9L1806.3 1970.7L1806.8 2090.3L1807.1 1976L1807.5 2092L1807.8 1972.7L1808.2 2060.3L1808.5 1967.8L1808 2025.2L1808.3 2117.9L1808.7 2117.9L1809.1 2025.2L1809 2083.1L1809.3 1972.7L1809.7 2076.2L1810 1956.3L1810.3 2072.4L1810.6 1966.6L1810.9 2070.6L1811.3 1949.2L1811.6 2043.2L1811.9 1973.5L1812.2 2070.3L1812.5 1940.1L1811.7 2006L1812 1908L1812.4 1908L1812.8 2006L1813 2068.6L1813.3 1933.7L1813.7 2074.2L1814.1 1961.4L1814.5 2068.1L1814.9 1926.4L1814.5 1999.7L1814.8 2087L1815.2 2087L1815.5 1999.7L1815.1 2073.7L1815.5 1934.1L1815.7 2068.1L1816 1932.4L1816.4 2072L1816.7 1965.5L1817 2069.3L1817.3 2022.1L1816.9 2034.3L1817.3 2087L1817.6 2087L1818 2034.3L1817.7 2082.7L1818 1994.7L1818.2 2067.7L1818.6 2010.4L1819 2069.1L1819.3 1981.7L1819.7 2065.7L1820.1 1993.5L1820.4 2044.1L1820.7 1971.2L1820.3 2032.8L1820.7 1965.1L1821 1965.1L1821.4 2032.8L1821.1 2054.6L1821.4 1974.1L1821.8 2073.9L1822.1 1999.5L1822.5 2074.6L1822.8 1999.6L1823.1 2072.8L1823.5 1997.4L1823.1 2031.3L1823.5 1932.7L1823.8 1932.7L1824.2 2031.3L1823.8 2050.9L1824.2 1978.8L1824.4 2061.1L1824.7 1967.8L1825 2047.4L1825.3 1981L1825.7 2065.9L1826 1991.9L1826.2 2060.9L1826.5 1981.1L1826.9 2062.1L1827.2 1986.1" fill="none" stroke="#231f20" stroke-width="1.85" stroke-linejoin="bevel"/>
<path d="M1830.7 2064.8L1831.1 2012.2L1831.4 2054.7L1831.7 2013.6L1831.9 2070.2L1832.3 2008.4L1832.6 2097.2L1832.9 2007.4L1833.2 2091.9L1833.5 2006.4L1833 2048.5L1833.3 2122.5L1833.7 2122.5L1834.1 2048.5L1833.8 2091L1834.1 2005.9L1833.6 2045.7L1834 1989.2L1834.3 1989.2L1834.7 2045.7L1834.6 2077.8L1834.9 1991.8L1835.3 2074.6L1835.7 2030.7L1836 2080.7L1836.3 1997.6L1836.5 2076.3L1836.8 1986L1837.1 2075L1837.4 2010L1836.7 2023.1L1837 1923.5L1837.4 1923.5L1837.8 2023.1L1836.7 2023.1L1837 2102.5L1837.4 2102.5L1837.8 2023.1L1837.8 2042.3L1838.1 1956.5L1838.4 2067.4L1838.7 1996.4L1839 2051.1L1839.3 1939L1839.1 2012.1L1839.5 2099.4L1839.9 2099.4L1840.2 2012.1L1839.7 2056.1L1840 1970.1L1840.3 2076.2L1840.6 1993.2L1840.9 2070.3L1841.2 1969.1L1841.6 2071.3L1842 1968.3L1841.3 2019.1L1841.7 1891L1842 1891L1842.4 2019.1L1842.4 2070.3L1842.7 1908.7L1842.9 2074.4L1843.3 2007.9L1843.5 2049.2L1843.8 1981L1843.5 2029.5L1843.8 1882.4L1844.2 1882.4L1844.6 2029.5L1844 2081.1L1844.4 1886.6L1844.8 2083.9L1845.1 2029L1845.5 2050.6L1845.8 2026.4L1846.1 2090.4L1846.4 1988.2L1846.7 2091.5L1847 2023.4L1847.5 2093.7L1847.8 2001.9L1848 2093.4L1848.4 2011L1848.8 2095.3L1849.1 2028.5L1849.4 2059.6L1849.7 2015.1L1850.1 2092.8L1850.4 2023.8L1849.9 2056.2L1850.3 2009.9L1850.7 2009.9L1851 2056.2L1850.8 2096.3L1851.1 2042.4L1851.4 2096.3L1851.7 2051.5L1852 2085.2L1852.3 2029.9L1852.6 2091.3L1852.9 2043.6L1853.2 2096.7L1853.6 2018.4L1852.7 2042.9L1853.1 2107.1L1853.5 2107.1L1853.8 2042.9L1853.3 2035.5L1853.7 1789.2L1854.1 1789.2L1854.4 2035.5L1854 2082.2L1854.3 2002.8L1854.6 2065.7L1854.9 1890.7L1855.2 2055.5L1855.6 1957.7L1855.9 2069L1856.2 1979.3L1856.6 2050.2L1857 2014.6L1856.4 2024L1856.8 1959L1857.2 1959L1857.5 2024L1857.4 2069.4L1857.7 2003.2L1858 2079.9L1858.3 1981.2L1858.6 2078.9L1858.9 1985.3L1859.1 2074.2L1859.5 2017.8L1859.8 2079L1860.1 1961.5L1860.5 2090.5L1860.8 1960.5L1860.1 2013L1860.5 2093.2L1860.9 2093.2L1861.2 2013L1861.1 2087.9L1861.4 1977.9L1861.9 2073L1862.2 1949.5L1862.6 2055.1L1862.9 1948.8L1862.6 2012L1863 1842.6L1863.3 1842.6L1863.7 2012L1863.2 2069.7L1863.6 1970.7L1863.9 2077.1L1864.2 1951L1864.6 2078.9L1864.9 1967.2L1865.2 2060.3L1865.5 1951.2L1865.8 2034.6L1866.1 1955.8L1866.5 2073.7L1866.8 1976.5L1867.3 2037.8L1867.6 1946L1867.9 2064.8L1868.2 1924.4L1868.4 2051.7L1868.8 1893.6L1869 2068.9L1869.3 1822.4L1869.7 2080.4L1870 1904.5L1870.4 2038.6L1870.7 1904.2L1871 1969.3L1871.3 1830.4L1870.8 1955.5L1871.2 1682.1L1871.6 1682.1L1871.9 1955.5L1871.7 2079L1872 1856.8L1872.4 2087.6L1872.7 1960.4L1873 2088.2L1873.3 1937.7L1873.5 2077.5L1873.8 1953.6L1874.2 2095L1874.5 1972.6L1874.7 2102.2L1875.1 1990.1L1875.3 2096.4L1875.6 2035.4L1875.9 2102.7L1876.2 1995.2L1876.6 2087.6L1876.9 2004.3L1876.7 2049.7L1877.1 2131.8L1877.4 2131.8L1877.8 2049.7L1877.3 2100.3L1877.6 2000.2L1878 2114.5L1878.3 2043.9L1877.9 2049.2L1878.3 1929L1878.7 1929L1879 2049.2L1878.8 2088.9L1879.1 1950.5L1879.4 2097.8L1879.7 1998L1880.2 2099.1L1880.5 1997.8L1880.9 2066L1881.3 1990.4L1881.7 2095.3L1882 1991.5L1882.4 2094.7L1882.7 1994.8L1883.1 2095.4L1883.5 1972.2L1883.9 2064.4L1884.2 1968.6L1884.5 2096.5L1884.9 1949.4L1885.2 2104.8L1885.6 1934.2L1886 2065.2L1886.3 1919.7L1885.6 2008.6L1886 2111.7L1886.4 2111.7L1886.7 2008.6L1886.6 2100.8L1886.9 1922.1L1887.2 2100.1L1887.6 1952.3L1886.9 2005.5L1887.3 1776.9L1887.6 1776.9L1888 2005.5L1887.8 2097.2L1888.1 1922.1L1888.5 2045.8L1888.8 1930.2L1889.1 2085.1L1889.4 1914.9L1889.8 2085.8L1890.2 1928.2L1890.6 2061.2L1890.9 1944L1891.3 2076.2L1891.6 1994L1891.8 2066.4L1892.2 1947.2L1892.4 2046.3L1892.7 1945.5L1893.2 2039.6L1893.5 1995.2L1893.8 2007.2L1894.1 1946.8L1894.4 2049L1894.7 1970L1894 1997.3L1894.4 1923.5L1894.7 1923.5L1895.1 1997.3L1895.1 2037.8L1895.5 1971.4L1895.7 2034.4L1896 1977.5" fill="none" stroke="#231f20" stroke-width="1.85" stroke-linejoin="bevel"/>
<path d="M1104.7 1548.3V2185H1896.6" fill="none" stroke="#231f20" stroke-width="2.2" stroke-linejoin="miter"/>
<path d="M1104.7 2121.4h7.5M1104.7 2057.9h13.5M1104.7 1994.3h7.5M1104.7 1930.8h13.5M1104.7 1867.2h7.5M1104.7 1803.6h13.5M1104.7 1740.1h7.5M1104.7 1676.5h13.5M1104.7 1613h7.5M1104.7 1549.4h13.5M1138.2 2185v-9M1168.5 2185v-9M1202.1 2185v-9M1234.5 2185v-9M1268.1 2185v-9M1300.5 2185v-16M1334 2185v-9M1367.6 2185v-9M1400 2185v-9M1433.6 2185v-9M1466 2185v-9M1499.6 2185v-16M1533.1 2185v-9M1564.5 2185v-9M1598 2185v-9M1630.5 2185v-9M1664 2185v-9M1696.4 2185v-16M1730 2185v-9M1763.5 2185v-9M1796 2185v-9M1829.5 2185v-9M1862 2185v-9M1895.5 2185v-16" fill="none" stroke="#231f20" stroke-width="1.9"/>
<text x="605.8" y="95.2" font-size="41" text-anchor="end">40</text>
<text x="605.8" y="155.1" font-size="41" text-anchor="end">30</text>
<text x="605.8" y="215.1" font-size="41" text-anchor="end">20</text>
<text x="605.8" y="275" font-size="41" text-anchor="end">10</text>
<text x="605.8" y="334.9" font-size="41" text-anchor="end">0</text>
<text x="605.8" y="394.9" font-size="41" text-anchor="end">−10</text>
<text x="605.8" y="454.8" font-size="41" text-anchor="end">−20</text>
<text x="605.8" y="514.7" font-size="41" text-anchor="end">−30</text>
<text x="605.8" y="574.6" font-size="41" text-anchor="end">−40</text>
<text x="581.3" y="611.1" font-size="41" letter-spacing="0.94">Jan. 1</text>
<text x="575.9" y="658.6" font-size="41" letter-spacing="-0.17">2023</text>
<text x="779.4" y="611.1" font-size="41" letter-spacing="-0.22">July 1</text>
<text x="976.4" y="611.1" font-size="41" letter-spacing="0.94">Jan. 1</text>
<text x="975.9" y="658.6" font-size="41" letter-spacing="-0.17">2024</text>
<text x="1174" y="611.1" font-size="41" letter-spacing="-0.22">July 1</text>
<text x="1371.2" y="611.3" font-size="41" letter-spacing="0.94">Jan. 1</text>
<text x="1350.1" y="658.5" font-size="41" letter-spacing="-0.17">2025</text>
<text x="146.8" y="748.9" font-size="41" text-anchor="end">9</text>
<text x="146.7" y="808.4" font-size="41" text-anchor="end">8</text>
<text x="146.3" y="867.9" font-size="41" text-anchor="end">7</text>
<text x="146.3" y="927.4" font-size="41" text-anchor="end">6</text>
<text x="146.7" y="986.9" font-size="41" text-anchor="end">5</text>
<text x="145.7" y="1046.3" font-size="41" text-anchor="end">4</text>
<text x="146.7" y="1105.8" font-size="41" text-anchor="end">3</text>
<text x="147.4" y="1165.3" font-size="41" text-anchor="end">2</text>
<text x="147.6" y="1224.8" font-size="41" text-anchor="end">1</text>
<text x="146.7" y="1284.3" font-size="41" text-anchor="end">0</text>
<text x="147.6" y="1343.8" font-size="41" text-anchor="end">−1</text>
<text x="117" y="1411" font-size="41" letter-spacing="0.94">Jan. 1</text>
<text x="115.2" y="1458.9" font-size="41" letter-spacing="-0.17">2023</text>
<text x="315" y="1411" font-size="41" letter-spacing="-0.22">July 1</text>
<text x="512.3" y="1411" font-size="41" letter-spacing="0.94">Jan. 1</text>
<text x="513.9" y="1458.9" font-size="41" letter-spacing="-0.17">2024</text>
<text x="710.4" y="1411" font-size="41" letter-spacing="-0.22">July 1</text>
<text x="907.3" y="1410.7" font-size="41" letter-spacing="0.94">Jan. 1</text>
<text x="889" y="1458.9" font-size="41" letter-spacing="-0.17">2025</text>
<text x="1091" y="752.8" font-size="41" text-anchor="end">9</text>
<text x="1090.9" y="812.3" font-size="41" text-anchor="end">8</text>
<text x="1090.5" y="871.9" font-size="41" text-anchor="end">7</text>
<text x="1090.5" y="931.4" font-size="41" text-anchor="end">6</text>
<text x="1090.9" y="990.9" font-size="41" text-anchor="end">5</text>
<text x="1089.9" y="1050.4" font-size="41" text-anchor="end">4</text>
<text x="1090.9" y="1110" font-size="41" text-anchor="end">3</text>
<text x="1091.6" y="1169.5" font-size="41" text-anchor="end">2</text>
<text x="1091.8" y="1229" font-size="41" text-anchor="end">1</text>
<text x="1090.9" y="1288.6" font-size="41" text-anchor="end">0</text>
<text x="1091.8" y="1348.1" font-size="41" text-anchor="end">−1</text>
<text x="1054.9" y="1408.4" font-size="41" letter-spacing="0.94">Jan. 1</text>
<text x="1063.6" y="1461.8" font-size="41" letter-spacing="-0.17">2023</text>
<text x="1252.1" y="1408.4" font-size="41" letter-spacing="-0.22">July 1</text>
<text x="1449.9" y="1408.4" font-size="41" letter-spacing="0.94">Jan. 1</text>
<text x="1462.5" y="1461.8" font-size="41" letter-spacing="-0.17">2024</text>
<text x="1647.1" y="1408.4" font-size="41" letter-spacing="-0.22">July 1</text>
<text x="1845.1" y="1408.4" font-size="41" letter-spacing="0.94">Jan. 1</text>
<text x="1837.5" y="1461.8" font-size="41" letter-spacing="-0.17">2025</text>
<text x="144.8" y="1565.5" font-size="41" text-anchor="end">800</text>
<text x="144.8" y="1692.3" font-size="41" text-anchor="end">600</text>
<text x="144.8" y="1819.1" font-size="41" text-anchor="end">400</text>
<text x="144.8" y="1945.9" font-size="41" text-anchor="end">200</text>
<text x="144.8" y="2072.7" font-size="41" text-anchor="end">0</text>
<text x="144.8" y="2199.5" font-size="41" text-anchor="end">−200</text>
<text x="110.7" y="2228.4" font-size="41" letter-spacing="0.94">Jan. 1</text>
<text x="119" y="2276.6" font-size="41" letter-spacing="-0.17">2023</text>
<text x="308.2" y="2228.4" font-size="41" letter-spacing="-0.22">July 1</text>
<text x="505.1" y="2228.4" font-size="41" letter-spacing="0.94">Jan. 1</text>
<text x="518.7" y="2276.6" font-size="41" letter-spacing="-0.17">2024</text>
<text x="703.1" y="2228.4" font-size="41" letter-spacing="-0.22">July 1</text>
<text x="900.1" y="2228.4" font-size="41" letter-spacing="0.94">Jan. 1</text>
<text x="893.3" y="2276.6" font-size="41" letter-spacing="-0.17">2025</text>
<text x="1093" y="1564.7" font-size="41" text-anchor="end">800</text>
<text x="1093" y="1691.3" font-size="41" text-anchor="end">600</text>
<text x="1093" y="1817.9" font-size="41" text-anchor="end">400</text>
<text x="1093" y="1944.4" font-size="41" text-anchor="end">200</text>
<text x="1093" y="2071" font-size="41" text-anchor="end">0</text>
<text x="1093" y="2197.6" font-size="41" text-anchor="end">−200</text>
<text x="1056.4" y="2231.7" font-size="41" letter-spacing="0.94">Jan. 1</text>
<text x="1069" y="2275.7" font-size="41" letter-spacing="-0.17">2023</text>
<text x="1254.4" y="2231.7" font-size="41" letter-spacing="-0.22">July 1</text>
<text x="1450.9" y="2231.7" font-size="41" letter-spacing="0.94">Jan. 1</text>
<text x="1468.7" y="2275.7" font-size="41" letter-spacing="-0.17">2024</text>
<text x="1649.4" y="2231.7" font-size="41" letter-spacing="-0.22">July 1</text>
<text x="1846.1" y="2231.7" font-size="41" letter-spacing="0.94">Jan. 1</text>
<text x="1843.2" y="2275.7" font-size="41" letter-spacing="-0.17">2025</text>
<text x="1003.4" y="34.1" font-size="42" letter-spacing="1">(a)</text>
<text x="542.2" y="721.7" font-size="42" letter-spacing="1">(b)</text>
<text x="1490.6" y="725.1" font-size="42" letter-spacing="1">(c)</text>
<text x="546.5" y="1515.1" font-size="42" letter-spacing="1">(d)</text>
<text x="1496.6" y="1513.3" font-size="42" letter-spacing="1">(e)</text>
<text transform="translate(519 367.3) rotate(-90)" font-size="41" letter-spacing="1.7"><tspan font-style="italic">T</tspan>, °C</text>
<text transform="translate(59.9 1113.5) rotate(-90)" font-size="41" letter-spacing="1.5">Δ<tspan font-style="italic">T</tspan>, °C</text>
<text transform="translate(59.9 1944) rotate(-90)" font-size="41" letter-spacing="1.3"><tspan font-style="italic">Q</tspan><tspan font-style="italic" font-size="29" dy="9">z</tspan><tspan dy="-9">, W/m</tspan><tspan font-size="29" dy="-15">2</tspan></text>
<rect x="1004" y="689.8" width="6.2" height="2" rx="1" fill="#3a3a3a" opacity="0.75"/>
<rect x="1012.4" y="689.8" width="4.8" height="1.8" rx="0.9" fill="#3a3a3a" opacity="0.75"/>
</svg>
</body></html>
